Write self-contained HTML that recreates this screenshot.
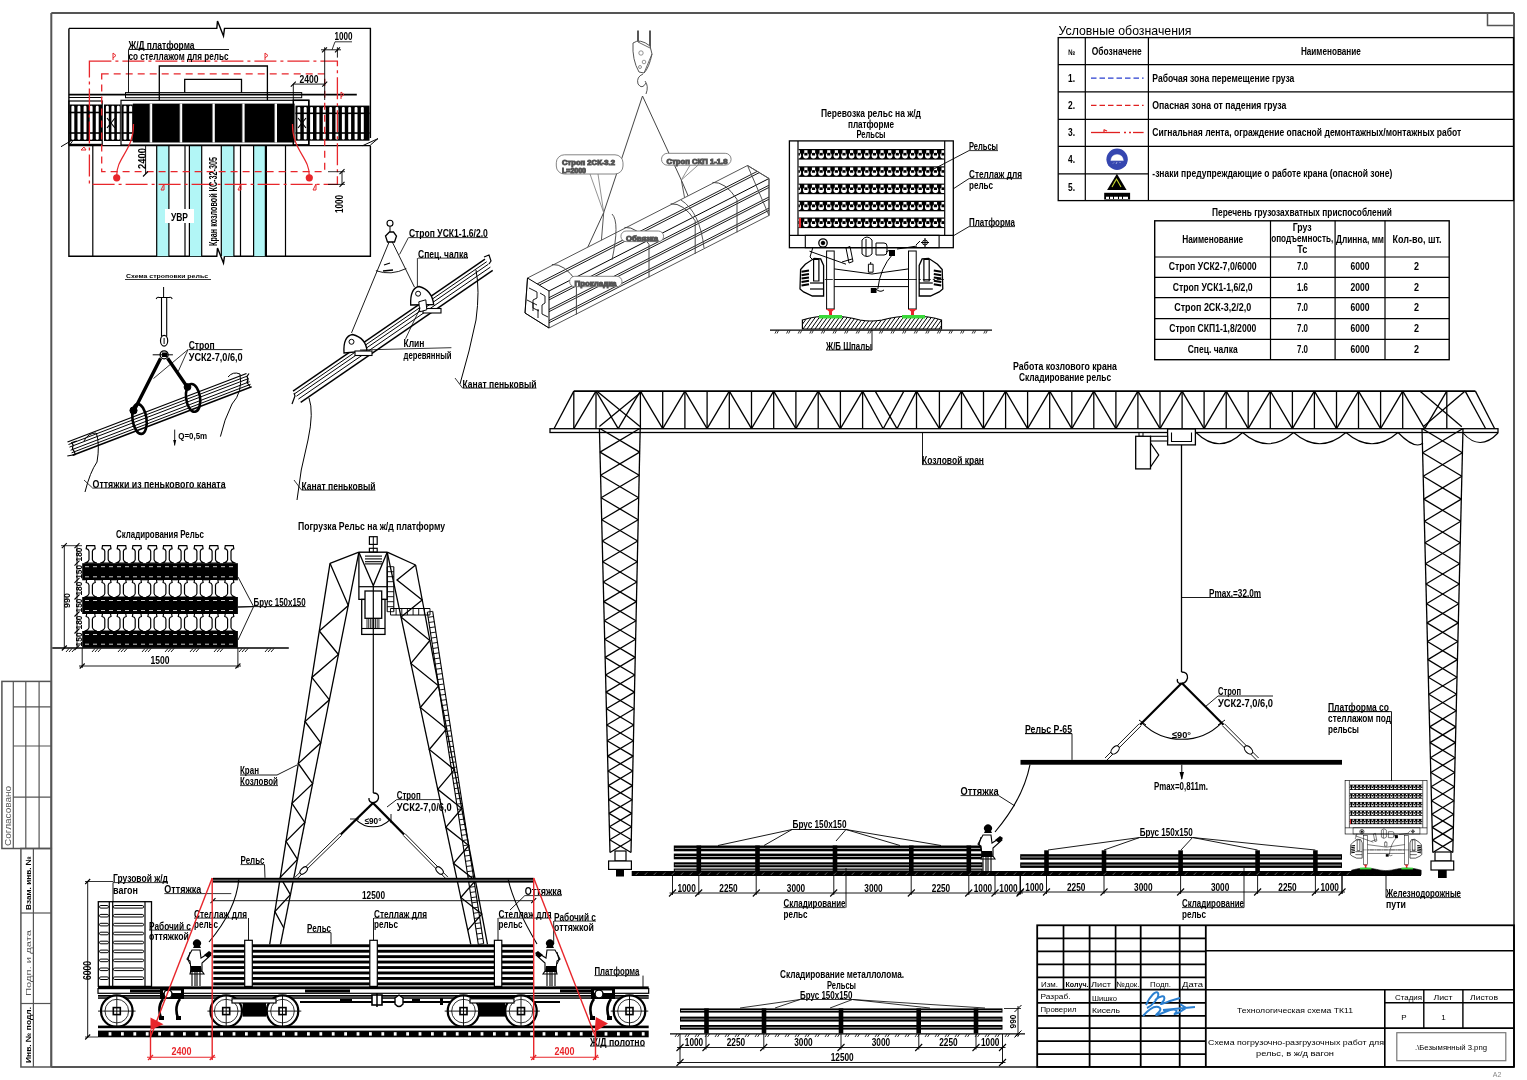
<!DOCTYPE html><html><head><meta charset="utf-8"><style>html,body{margin:0;padding:0;background:#fff;}svg{display:block;will-change:transform;}text{font-family:"Liberation Sans",sans-serif;}</style></head><body>
<svg width="1527" height="1080" viewBox="0 0 1527 1080">
<rect width="1527" height="1080" fill="#fff"/>
<g id="frame">
<line x1="51.3" y1="13.1" x2="1514.0" y2="13.1" stroke="#555555" stroke-width="2" />
<line x1="51.3" y1="13.1" x2="51.3" y2="1067.0" stroke="#555555" stroke-width="2" />
<line x1="1514.0" y1="13.1" x2="1514.0" y2="1067.0" stroke="#555555" stroke-width="2" />
<line x1="51.3" y1="1067.0" x2="1514.0" y2="1067.0" stroke="#555555" stroke-width="2" />
<polyline points="1487.5,13.0 1487.5,25.5 1514.0,25.5" stroke="#555555" stroke-width="1.5" fill="none" />
<rect x="1.9" y="681.4" width="49.4" height="167.1" fill="none" stroke="#555555" stroke-width="1.5" />
<line x1="13.3" y1="681.4" x2="13.3" y2="848.5" stroke="#555555" stroke-width="1.2" />
<line x1="25.8" y1="681.4" x2="25.8" y2="848.5" stroke="#555555" stroke-width="1.2" />
<line x1="39.1" y1="681.4" x2="39.1" y2="848.5" stroke="#555555" stroke-width="1.2" />
<line x1="13.3" y1="706.8" x2="51.3" y2="706.8" stroke="#555555" stroke-width="1.2" />
<line x1="13.3" y1="746.0" x2="51.3" y2="746.0" stroke="#555555" stroke-width="1.2" />
<line x1="13.3" y1="797.2" x2="51.3" y2="797.2" stroke="#555555" stroke-width="1.2" />
<text x="10.5" y="846.0" font-size="9" text-anchor="start" fill="#555" font-weight="normal" font-family="Liberation Sans" textLength="60.0" lengthAdjust="spacingAndGlyphs" transform="rotate(-90 10.5 846.0)" >Согласовано</text>
<rect x="20.9" y="848.5" width="30.4" height="218.5" fill="none" stroke="#555555" stroke-width="1.5" />
<line x1="33.4" y1="848.5" x2="33.4" y2="1067.0" stroke="#555555" stroke-width="1.2" />
<line x1="20.9" y1="913.0" x2="51.3" y2="913.0" stroke="#555555" stroke-width="1.2" />
<line x1="20.9" y1="1003.5" x2="51.3" y2="1003.5" stroke="#555555" stroke-width="1.2" />
<text x="30.5" y="910.0" font-size="7.5" text-anchor="start" fill="#000" font-weight="bold" font-family="Liberation Sans" textLength="54.0" lengthAdjust="spacingAndGlyphs" transform="rotate(-90 30.5 910.0)" >Взам. инв. №</text>
<text x="31.0" y="996.0" font-size="8" text-anchor="start" fill="#555" font-weight="normal" font-family="Liberation Sans" textLength="66.0" lengthAdjust="spacingAndGlyphs" transform="rotate(-90 31.0 996.0)" >Подп. и дата</text>
<text x="30.5" y="1063.0" font-size="7.5" text-anchor="start" fill="#000" font-weight="bold" font-family="Liberation Sans" textLength="56.0" lengthAdjust="spacingAndGlyphs" transform="rotate(-90 30.5 1063.0)" >Инв. № подл.</text>
</g>
<g id="legend">
<text x="1058.5" y="35.0" font-size="13.5" text-anchor="start" fill="#000" font-weight="normal" font-family="Liberation Sans" textLength="133.0" lengthAdjust="spacingAndGlyphs" >Условные обозначения</text>
<rect x="1058.2" y="37.6" width="455.3" height="163.0" fill="none" stroke="#000" stroke-width="1.3" />
<line x1="1058.2" y1="64.7" x2="1513.5" y2="64.7" stroke="#000" stroke-width="1.2" />
<line x1="1058.2" y1="91.8" x2="1513.5" y2="91.8" stroke="#000" stroke-width="1.2" />
<line x1="1058.2" y1="119.3" x2="1513.5" y2="119.3" stroke="#000" stroke-width="1.2" />
<line x1="1058.2" y1="146.4" x2="1513.5" y2="146.4" stroke="#000" stroke-width="1.2" />
<line x1="1058.2" y1="173.8" x2="1148.4" y2="173.8" stroke="#000" stroke-width="1.2" />
<line x1="1085.3" y1="37.6" x2="1085.3" y2="200.6" stroke="#000" stroke-width="1.2" />
<line x1="1148.4" y1="37.6" x2="1148.4" y2="200.6" stroke="#000" stroke-width="1.2" />
<text x="1071.5" y="54.5" font-size="8" text-anchor="middle" fill="#000" font-weight="bold" font-family="Liberation Sans" textLength="7.0" lengthAdjust="spacingAndGlyphs" >№</text>
<text x="1116.8" y="54.5" font-size="10.37" text-anchor="middle" fill="#000" font-weight="bold" font-family="Liberation Sans" textLength="50.0" lengthAdjust="spacingAndGlyphs" >Обозначене</text>
<text x="1330.9" y="54.5" font-size="10.37" text-anchor="middle" fill="#000" font-weight="bold" font-family="Liberation Sans" textLength="60.0" lengthAdjust="spacingAndGlyphs" >Наименование</text>
<text x="1068.0" y="81.7" font-size="10.37" text-anchor="start" fill="#000" font-weight="bold" font-family="Liberation Sans" textLength="7.0" lengthAdjust="spacingAndGlyphs" >1.</text>
<text x="1068.0" y="108.8" font-size="10.37" text-anchor="start" fill="#000" font-weight="bold" font-family="Liberation Sans" textLength="7.0" lengthAdjust="spacingAndGlyphs" >2.</text>
<text x="1068.0" y="136.3" font-size="10.37" text-anchor="start" fill="#000" font-weight="bold" font-family="Liberation Sans" textLength="7.0" lengthAdjust="spacingAndGlyphs" >3.</text>
<text x="1068.0" y="163.4" font-size="10.37" text-anchor="start" fill="#000" font-weight="bold" font-family="Liberation Sans" textLength="7.0" lengthAdjust="spacingAndGlyphs" >4.</text>
<text x="1068.0" y="190.8" font-size="10.37" text-anchor="start" fill="#000" font-weight="bold" font-family="Liberation Sans" textLength="7.0" lengthAdjust="spacingAndGlyphs" >5.</text>
<line x1="1091.0" y1="78.1" x2="1143.6" y2="78.1" stroke="#2a3fd0" stroke-width="1.3" stroke-dasharray="5.5,3"/>
<line x1="1091.0" y1="105.3" x2="1143.6" y2="105.3" stroke="#e02020" stroke-width="1.3" stroke-dasharray="5.5,3"/>
<line x1="1091.0" y1="132.5" x2="1104.0" y2="132.5" stroke="#e02020" stroke-width="1.3" />
<line x1="1104.0" y1="129.5" x2="1104.0" y2="132.5" stroke="#e02020" stroke-width="1.2" />
<line x1="1104.0" y1="129.8" x2="1107.0" y2="131.0" stroke="#e02020" stroke-width="1.2" />
<line x1="1104.0" y1="132.5" x2="1120.0" y2="132.5" stroke="#e02020" stroke-width="1.3" />
<line x1="1124.0" y1="132.5" x2="1126.0" y2="132.5" stroke="#e02020" stroke-width="1.3" />
<line x1="1129.0" y1="132.5" x2="1131.0" y2="132.5" stroke="#e02020" stroke-width="1.3" />
<line x1="1133.0" y1="132.5" x2="1143.6" y2="132.5" stroke="#e02020" stroke-width="1.3" />
<text x="1152.3" y="81.5" font-size="10.37" text-anchor="start" fill="#000" font-weight="bold" font-family="Liberation Sans" textLength="142.0" lengthAdjust="spacingAndGlyphs" >Рабочая зона перемещение груза</text>
<text x="1152.3" y="108.5" font-size="10.37" text-anchor="start" fill="#000" font-weight="bold" font-family="Liberation Sans" textLength="134.0" lengthAdjust="spacingAndGlyphs" >Опасная зона от падения груза</text>
<text x="1152.3" y="135.8" font-size="10.37" text-anchor="start" fill="#000" font-weight="bold" font-family="Liberation Sans" textLength="309.0" lengthAdjust="spacingAndGlyphs" >Сигнальная лента, ограждение опасной демонтажных/монтажных работ</text>
<text x="1152.3" y="177.0" font-size="10.37" text-anchor="start" fill="#000" font-weight="bold" font-family="Liberation Sans" textLength="240.0" lengthAdjust="spacingAndGlyphs" >-знаки предупреждающие о работе крана (опасной зоне)</text>
<circle cx="1117.1" cy="159.2" r="10.7" fill="#3546b0" stroke="none" stroke-width="1" />
<path d="M1110.8,160.6 Q1111.5,154.5 1117.1,154.5 Q1122.7,154.5 1123.4,160.6 Z" stroke="#fff" stroke-width="0.4" fill="#fff" />
<path d="M1113,163.5 l1,-1 M1116,164 l1,-2 M1119.5,163 l1,-1" stroke="#cfd3f0" stroke-width="0.7" fill="none" />
<polygon points="1116.9,173.8 1107.1,190.1 1126.6,190.1" fill="#000" stroke="none" stroke-width="1" />
<path d="M1112,187 L1116.5,179 L1121,187 M1114,183 l2,-3" stroke="#c8d830" stroke-width="1.1" fill="none" />
<rect x="1104.2" y="192.8" width="25.9" height="6.8" fill="#000"/>
<path d="M1106,197.8 h3 m1,0 h3 m1,0 h4 m1,0 h3 m1,0 h5" stroke="#fff" stroke-width="2.2" fill="none" />
</g>
<g id="gear">
<text x="1302.0" y="216.0" font-size="10.98" text-anchor="middle" fill="#000" font-weight="bold" font-family="Liberation Sans" textLength="180.0" lengthAdjust="spacingAndGlyphs" >Перечень грузозахватных приспособлений</text>
<rect x="1154.7" y="220.8" width="294.5" height="138.9" fill="none" stroke="#000" stroke-width="1.4" />
<line x1="1154.7" y1="257.0" x2="1449.2" y2="257.0" stroke="#000" stroke-width="1.2" />
<line x1="1154.7" y1="277.3" x2="1449.2" y2="277.3" stroke="#000" stroke-width="1.2" />
<line x1="1154.7" y1="297.6" x2="1449.2" y2="297.6" stroke="#000" stroke-width="1.2" />
<line x1="1154.7" y1="318.6" x2="1449.2" y2="318.6" stroke="#000" stroke-width="1.2" />
<line x1="1154.7" y1="339.4" x2="1449.2" y2="339.4" stroke="#000" stroke-width="1.2" />
<line x1="1270.5" y1="220.8" x2="1270.5" y2="359.7" stroke="#000" stroke-width="1.2" />
<line x1="1335.1" y1="220.8" x2="1335.1" y2="359.7" stroke="#000" stroke-width="1.2" />
<line x1="1385.0" y1="220.8" x2="1385.0" y2="359.7" stroke="#000" stroke-width="1.2" />
<text x="1212.7" y="242.5" font-size="10.37" text-anchor="middle" fill="#000" font-weight="bold" font-family="Liberation Sans" textLength="61.0" lengthAdjust="spacingAndGlyphs" >Наименование</text>
<text x="1302.2" y="231.0" font-size="10.37" text-anchor="middle" fill="#000" font-weight="bold" font-family="Liberation Sans" textLength="19.0" lengthAdjust="spacingAndGlyphs" >Груз</text>
<text x="1302.2" y="242.0" font-size="10.37" text-anchor="middle" fill="#000" font-weight="bold" font-family="Liberation Sans" textLength="62.0" lengthAdjust="spacingAndGlyphs" >оподъемность,</text>
<text x="1302.2" y="253.0" font-size="10.37" text-anchor="middle" fill="#000" font-weight="bold" font-family="Liberation Sans" textLength="10.0" lengthAdjust="spacingAndGlyphs" >Тс</text>
<text x="1360.0" y="242.5" font-size="10.37" text-anchor="middle" fill="#000" font-weight="bold" font-family="Liberation Sans" textLength="48.0" lengthAdjust="spacingAndGlyphs" >Длинна, мм</text>
<text x="1417.0" y="242.5" font-size="10.37" text-anchor="middle" fill="#000" font-weight="bold" font-family="Liberation Sans" textLength="49.0" lengthAdjust="spacingAndGlyphs" >Кол-во, шт.</text>
<text x="1212.7" y="270.4" font-size="10.37" text-anchor="middle" fill="#000" font-weight="bold" font-family="Liberation Sans" textLength="88.0" lengthAdjust="spacingAndGlyphs" >Строп УСК2-7,0/6000</text>
<text x="1302.5" y="270.4" font-size="10.37" text-anchor="middle" fill="#000" font-weight="bold" font-family="Liberation Sans" textLength="11.0" lengthAdjust="spacingAndGlyphs" >7.0</text>
<text x="1360.0" y="270.4" font-size="10.37" text-anchor="middle" fill="#000" font-weight="bold" font-family="Liberation Sans" textLength="19.0" lengthAdjust="spacingAndGlyphs" >6000</text>
<text x="1416.5" y="270.4" font-size="10.37" text-anchor="middle" fill="#000" font-weight="bold" font-family="Liberation Sans" textLength="5.0" lengthAdjust="spacingAndGlyphs" >2</text>
<text x="1212.7" y="290.8" font-size="10.37" text-anchor="middle" fill="#000" font-weight="bold" font-family="Liberation Sans" textLength="80.0" lengthAdjust="spacingAndGlyphs" >Строп УСК1-1,6/2,0</text>
<text x="1302.5" y="290.8" font-size="10.37" text-anchor="middle" fill="#000" font-weight="bold" font-family="Liberation Sans" textLength="11.0" lengthAdjust="spacingAndGlyphs" >1.6</text>
<text x="1360.0" y="290.8" font-size="10.37" text-anchor="middle" fill="#000" font-weight="bold" font-family="Liberation Sans" textLength="19.0" lengthAdjust="spacingAndGlyphs" >2000</text>
<text x="1416.5" y="290.8" font-size="10.37" text-anchor="middle" fill="#000" font-weight="bold" font-family="Liberation Sans" textLength="5.0" lengthAdjust="spacingAndGlyphs" >2</text>
<text x="1212.7" y="311.4" font-size="10.37" text-anchor="middle" fill="#000" font-weight="bold" font-family="Liberation Sans" textLength="77.0" lengthAdjust="spacingAndGlyphs" >Строп 2СК-3,2/2,0</text>
<text x="1302.5" y="311.4" font-size="10.37" text-anchor="middle" fill="#000" font-weight="bold" font-family="Liberation Sans" textLength="11.0" lengthAdjust="spacingAndGlyphs" >7.0</text>
<text x="1360.0" y="311.4" font-size="10.37" text-anchor="middle" fill="#000" font-weight="bold" font-family="Liberation Sans" textLength="19.0" lengthAdjust="spacingAndGlyphs" >6000</text>
<text x="1416.5" y="311.4" font-size="10.37" text-anchor="middle" fill="#000" font-weight="bold" font-family="Liberation Sans" textLength="5.0" lengthAdjust="spacingAndGlyphs" >2</text>
<text x="1212.7" y="332.3" font-size="10.37" text-anchor="middle" fill="#000" font-weight="bold" font-family="Liberation Sans" textLength="87.0" lengthAdjust="spacingAndGlyphs" >Строп СКП1-1,8/2000</text>
<text x="1302.5" y="332.3" font-size="10.37" text-anchor="middle" fill="#000" font-weight="bold" font-family="Liberation Sans" textLength="11.0" lengthAdjust="spacingAndGlyphs" >7.0</text>
<text x="1360.0" y="332.3" font-size="10.37" text-anchor="middle" fill="#000" font-weight="bold" font-family="Liberation Sans" textLength="19.0" lengthAdjust="spacingAndGlyphs" >6000</text>
<text x="1416.5" y="332.3" font-size="10.37" text-anchor="middle" fill="#000" font-weight="bold" font-family="Liberation Sans" textLength="5.0" lengthAdjust="spacingAndGlyphs" >2</text>
<text x="1212.7" y="352.8" font-size="10.37" text-anchor="middle" fill="#000" font-weight="bold" font-family="Liberation Sans" textLength="50.0" lengthAdjust="spacingAndGlyphs" >Спец. чалка</text>
<text x="1302.5" y="352.8" font-size="10.37" text-anchor="middle" fill="#000" font-weight="bold" font-family="Liberation Sans" textLength="11.0" lengthAdjust="spacingAndGlyphs" >7.0</text>
<text x="1360.0" y="352.8" font-size="10.37" text-anchor="middle" fill="#000" font-weight="bold" font-family="Liberation Sans" textLength="19.0" lengthAdjust="spacingAndGlyphs" >6000</text>
<text x="1416.5" y="352.8" font-size="10.37" text-anchor="middle" fill="#000" font-weight="bold" font-family="Liberation Sans" textLength="5.0" lengthAdjust="spacingAndGlyphs" >2</text>
</g>
<g id="title">
<rect x="1037.2" y="925.3" width="476.8" height="141.6" fill="none" stroke="#000" stroke-width="1.8" />
<line x1="1037.2" y1="938.3" x2="1205.8" y2="938.3" stroke="#000" stroke-width="1.7" />
<line x1="1037.2" y1="951.3" x2="1205.8" y2="951.3" stroke="#000" stroke-width="1.7" />
<line x1="1037.2" y1="964.4" x2="1205.8" y2="964.4" stroke="#000" stroke-width="1.7" />
<line x1="1037.2" y1="977.4" x2="1205.8" y2="977.4" stroke="#000" stroke-width="1.7" />
<line x1="1037.2" y1="989.7" x2="1205.8" y2="989.7" stroke="#000" stroke-width="1.7" />
<line x1="1037.2" y1="1002.8" x2="1205.8" y2="1002.8" stroke="#000" stroke-width="1.7" />
<line x1="1037.2" y1="1015.8" x2="1205.8" y2="1015.8" stroke="#000" stroke-width="1.7" />
<line x1="1037.2" y1="1028.1" x2="1205.8" y2="1028.1" stroke="#000" stroke-width="1.7" />
<line x1="1037.2" y1="1041.2" x2="1205.8" y2="1041.2" stroke="#000" stroke-width="1.7" />
<line x1="1037.2" y1="1054.2" x2="1205.8" y2="1054.2" stroke="#000" stroke-width="1.7" />
<line x1="1063.5" y1="925.3" x2="1063.5" y2="989.7" stroke="#000" stroke-width="1.7" />
<line x1="1089.6" y1="925.3" x2="1089.6" y2="1066.9" stroke="#000" stroke-width="1.8" />
<line x1="1115.6" y1="925.3" x2="1115.6" y2="989.7" stroke="#000" stroke-width="1.7" />
<line x1="1140.7" y1="925.3" x2="1140.7" y2="1066.9" stroke="#000" stroke-width="1.8" />
<line x1="1179.7" y1="925.3" x2="1179.7" y2="1066.9" stroke="#000" stroke-width="1.8" />
<line x1="1205.8" y1="925.3" x2="1205.8" y2="1066.9" stroke="#000" stroke-width="1.8" />
<line x1="1205.8" y1="950.7" x2="1514.0" y2="950.7" stroke="#000" stroke-width="1.6" />
<line x1="1205.8" y1="989.7" x2="1514.0" y2="989.7" stroke="#000" stroke-width="1.6" />
<line x1="1205.8" y1="1028.1" x2="1514.0" y2="1028.1" stroke="#000" stroke-width="1.6" />
<line x1="1384.8" y1="989.7" x2="1384.8" y2="1066.9" stroke="#000" stroke-width="1.6" />
<line x1="1384.8" y1="1002.8" x2="1514.0" y2="1002.8" stroke="#000" stroke-width="1.4" />
<line x1="1423.8" y1="989.7" x2="1423.8" y2="1028.1" stroke="#000" stroke-width="1.4" />
<line x1="1462.9" y1="989.7" x2="1462.9" y2="1028.1" stroke="#000" stroke-width="1.4" />
<rect x="1396.8" y="1032.7" width="109.0" height="28.0" fill="none" stroke="#777" stroke-width="1.2" />
<text x="1041.0" y="987.0" font-size="7.5" text-anchor="start" fill="#000" font-weight="normal" font-family="Liberation Sans" textLength="17.0" lengthAdjust="spacingAndGlyphs" >Изм.</text>
<text x="1065.5" y="986.5" font-size="7.5" text-anchor="start" fill="#000" font-weight="bold" font-family="Liberation Sans" textLength="23.0" lengthAdjust="spacingAndGlyphs" >Колуч.</text>
<text x="1091.0" y="987.0" font-size="7.5" text-anchor="start" fill="#000" font-weight="normal" font-family="Liberation Sans" textLength="20.0" lengthAdjust="spacingAndGlyphs" >Лист</text>
<text x="1116.5" y="987.0" font-size="7.5" text-anchor="start" fill="#000" font-weight="normal" font-family="Liberation Sans" textLength="23.0" lengthAdjust="spacingAndGlyphs" >№док.</text>
<text x="1150.0" y="987.0" font-size="7.5" text-anchor="start" fill="#000" font-weight="normal" font-family="Liberation Sans" textLength="21.0" lengthAdjust="spacingAndGlyphs" >Подп.</text>
<text x="1182.0" y="987.0" font-size="7.5" text-anchor="start" fill="#000" font-weight="normal" font-family="Liberation Sans" textLength="21.0" lengthAdjust="spacingAndGlyphs" >Дата</text>
<text x="1040.5" y="999.0" font-size="7.5" text-anchor="start" fill="#000" font-weight="normal" font-family="Liberation Sans" textLength="30.0" lengthAdjust="spacingAndGlyphs" >Разраб.</text>
<text x="1040.5" y="1012.0" font-size="7.5" text-anchor="start" fill="#000" font-weight="normal" font-family="Liberation Sans" textLength="36.0" lengthAdjust="spacingAndGlyphs" >Проверил</text>
<text x="1092.0" y="1000.5" font-size="7.5" text-anchor="start" fill="#000" font-weight="normal" font-family="Liberation Sans" textLength="25.0" lengthAdjust="spacingAndGlyphs" >Шишко</text>
<text x="1092.0" y="1013.0" font-size="7.5" text-anchor="start" fill="#000" font-weight="normal" font-family="Liberation Sans" textLength="28.0" lengthAdjust="spacingAndGlyphs" >Кисель</text>
<text x="1295.0" y="1013.0" font-size="8" text-anchor="middle" fill="#000" font-weight="normal" font-family="Liberation Sans" textLength="116.0" lengthAdjust="spacingAndGlyphs" >Технологическая схема ТК11</text>
<text x="1395.0" y="999.5" font-size="7.5" text-anchor="start" fill="#000" font-weight="normal" font-family="Liberation Sans" textLength="27.0" lengthAdjust="spacingAndGlyphs" >Стадия</text>
<text x="1433.5" y="999.5" font-size="7.5" text-anchor="start" fill="#000" font-weight="normal" font-family="Liberation Sans" textLength="19.0" lengthAdjust="spacingAndGlyphs" >Лист</text>
<text x="1470.0" y="999.5" font-size="7.5" text-anchor="start" fill="#000" font-weight="normal" font-family="Liberation Sans" textLength="28.0" lengthAdjust="spacingAndGlyphs" >Листов</text>
<text x="1404.0" y="1019.5" font-size="8" text-anchor="middle" fill="#000" font-weight="normal" font-family="Liberation Sans" >Р</text>
<text x="1443.5" y="1019.5" font-size="8" text-anchor="middle" fill="#000" font-weight="normal" font-family="Liberation Sans" >1</text>
<text x="1384.0" y="1045.0" font-size="8" text-anchor="end" fill="#000" font-weight="normal" font-family="Liberation Sans" textLength="176.0" lengthAdjust="spacingAndGlyphs" >Схема погрузочно-разгрузочных работ для</text>
<text x="1295.0" y="1056.0" font-size="8" text-anchor="middle" fill="#000" font-weight="normal" font-family="Liberation Sans" textLength="78.0" lengthAdjust="spacingAndGlyphs" >рельс, в ж/д вагон</text>
<text x="1451.0" y="1050.0" font-size="7.5" text-anchor="middle" fill="#000" font-weight="normal" font-family="Liberation Sans" textLength="72.0" lengthAdjust="spacingAndGlyphs" >.\Безымянный 3.png</text>
<text x="1497.0" y="1077.0" font-size="7" text-anchor="middle" fill="#888" font-weight="normal" font-family="Liberation Sans" >A2</text>
<path d="M1146,1005 C1150,996 1156,990 1158,993 C1160,997 1152,1006 1147,1008 M1155,1000 C1160,996 1166,994 1164,1000 C1162,1004 1156,1006 1170,1001 L1180,998 M1143,1016 C1150,1008 1156,1005 1160,1008 C1163,1012 1150,1017 1160,1014 C1168,1011 1172,1008 1176,1010 C1179,1012 1170,1016 1178,1013 L1186,1008 L1180,1004 M1163,1010 L1195,1007" stroke="#2a7fd0" stroke-width="2.0" fill="none" />
</g>
<g id="crane">
<rect x="550.0" y="428.7" width="948.0" height="3.8" fill="none" stroke="#000" stroke-width="1.3" />
<line x1="573.8" y1="391.1" x2="1475.4" y2="391.1" stroke="#000" stroke-width="1.6" />
<line x1="554.0" y1="428.7" x2="573.8" y2="391.1" stroke="#000" stroke-width="1.3" />
<line x1="1475.4" y1="391.1" x2="1494.7" y2="428.7" stroke="#000" stroke-width="1.3" />
<line x1="573.8" y1="391.1" x2="573.8" y2="428.7" stroke="#000" stroke-width="1.3" />
<line x1="596.0" y1="391.1" x2="596.0" y2="428.7" stroke="#000" stroke-width="1.3" />
<line x1="640.4" y1="391.1" x2="640.4" y2="428.7" stroke="#000" stroke-width="1.3" />
<line x1="662.7" y1="391.1" x2="662.7" y2="428.7" stroke="#000" stroke-width="1.3" />
<line x1="684.9" y1="391.1" x2="684.9" y2="428.7" stroke="#000" stroke-width="1.3" />
<line x1="707.1" y1="391.1" x2="707.1" y2="428.7" stroke="#000" stroke-width="1.3" />
<line x1="729.3" y1="391.1" x2="729.3" y2="428.7" stroke="#000" stroke-width="1.3" />
<line x1="751.5" y1="391.1" x2="751.5" y2="428.7" stroke="#000" stroke-width="1.3" />
<line x1="773.7" y1="391.1" x2="773.7" y2="428.7" stroke="#000" stroke-width="1.3" />
<line x1="795.9" y1="391.1" x2="795.9" y2="428.7" stroke="#000" stroke-width="1.3" />
<line x1="818.2" y1="391.1" x2="818.2" y2="428.7" stroke="#000" stroke-width="1.3" />
<line x1="840.4" y1="391.1" x2="840.4" y2="428.7" stroke="#000" stroke-width="1.3" />
<line x1="862.6" y1="391.1" x2="862.6" y2="428.7" stroke="#000" stroke-width="1.3" />
<line x1="573.8" y1="428.7" x2="596.0" y2="391.1" stroke="#000" stroke-width="1.3" />
<line x1="596.0" y1="391.1" x2="618.2" y2="428.7" stroke="#000" stroke-width="1.3" />
<line x1="618.2" y1="428.7" x2="640.4" y2="391.1" stroke="#000" stroke-width="1.3" />
<line x1="640.4" y1="391.1" x2="662.7" y2="428.7" stroke="#000" stroke-width="1.3" />
<line x1="662.7" y1="428.7" x2="684.9" y2="391.1" stroke="#000" stroke-width="1.3" />
<line x1="684.9" y1="391.1" x2="707.1" y2="428.7" stroke="#000" stroke-width="1.3" />
<line x1="707.1" y1="428.7" x2="729.3" y2="391.1" stroke="#000" stroke-width="1.3" />
<line x1="729.3" y1="391.1" x2="751.5" y2="428.7" stroke="#000" stroke-width="1.3" />
<line x1="751.5" y1="428.7" x2="773.7" y2="391.1" stroke="#000" stroke-width="1.3" />
<line x1="773.7" y1="391.1" x2="795.9" y2="428.7" stroke="#000" stroke-width="1.3" />
<line x1="795.9" y1="428.7" x2="818.2" y2="391.1" stroke="#000" stroke-width="1.3" />
<line x1="818.2" y1="391.1" x2="840.4" y2="428.7" stroke="#000" stroke-width="1.3" />
<line x1="840.4" y1="428.7" x2="862.6" y2="391.1" stroke="#000" stroke-width="1.3" />
<line x1="862.6" y1="391.1" x2="883.2" y2="428.7" stroke="#000" stroke-width="1.3" />
<line x1="875.2" y1="391.1" x2="897.0" y2="428.7" stroke="#000" stroke-width="1.3" />
<line x1="903.9" y1="391.1" x2="883.2" y2="428.7" stroke="#000" stroke-width="1.3" />
<line x1="916.5" y1="391.1" x2="897.0" y2="428.7" stroke="#000" stroke-width="1.3" />
<line x1="916.5" y1="391.1" x2="916.5" y2="428.7" stroke="#000" stroke-width="1.3" />
<line x1="916.5" y1="391.1" x2="939.4" y2="428.7" stroke="#000" stroke-width="1.3" />
<line x1="939.4" y1="391.1" x2="939.4" y2="428.7" stroke="#000" stroke-width="1.3" />
<line x1="961.5" y1="391.1" x2="961.5" y2="428.7" stroke="#000" stroke-width="1.3" />
<line x1="983.5" y1="391.1" x2="983.5" y2="428.7" stroke="#000" stroke-width="1.3" />
<line x1="1005.6" y1="391.1" x2="1005.6" y2="428.7" stroke="#000" stroke-width="1.3" />
<line x1="1027.6" y1="391.1" x2="1027.6" y2="428.7" stroke="#000" stroke-width="1.3" />
<line x1="1049.7" y1="391.1" x2="1049.7" y2="428.7" stroke="#000" stroke-width="1.3" />
<line x1="1071.8" y1="391.1" x2="1071.8" y2="428.7" stroke="#000" stroke-width="1.3" />
<line x1="1093.8" y1="391.1" x2="1093.8" y2="428.7" stroke="#000" stroke-width="1.3" />
<line x1="1115.9" y1="391.1" x2="1115.9" y2="428.7" stroke="#000" stroke-width="1.3" />
<line x1="1137.9" y1="391.1" x2="1137.9" y2="428.7" stroke="#000" stroke-width="1.3" />
<line x1="1160.0" y1="391.1" x2="1160.0" y2="428.7" stroke="#000" stroke-width="1.3" />
<line x1="1182.1" y1="391.1" x2="1182.1" y2="428.7" stroke="#000" stroke-width="1.3" />
<line x1="1204.1" y1="391.1" x2="1204.1" y2="428.7" stroke="#000" stroke-width="1.3" />
<line x1="1226.2" y1="391.1" x2="1226.2" y2="428.7" stroke="#000" stroke-width="1.3" />
<line x1="1248.2" y1="391.1" x2="1248.2" y2="428.7" stroke="#000" stroke-width="1.3" />
<line x1="1270.3" y1="391.1" x2="1270.3" y2="428.7" stroke="#000" stroke-width="1.3" />
<line x1="1292.4" y1="391.1" x2="1292.4" y2="428.7" stroke="#000" stroke-width="1.3" />
<line x1="1314.4" y1="391.1" x2="1314.4" y2="428.7" stroke="#000" stroke-width="1.3" />
<line x1="1336.5" y1="391.1" x2="1336.5" y2="428.7" stroke="#000" stroke-width="1.3" />
<line x1="1358.5" y1="391.1" x2="1358.5" y2="428.7" stroke="#000" stroke-width="1.3" />
<line x1="1380.6" y1="391.1" x2="1380.6" y2="428.7" stroke="#000" stroke-width="1.3" />
<line x1="1402.7" y1="391.1" x2="1402.7" y2="428.7" stroke="#000" stroke-width="1.3" />
<line x1="1446.8" y1="391.1" x2="1446.8" y2="428.7" stroke="#000" stroke-width="1.3" />
<line x1="939.4" y1="428.7" x2="961.5" y2="391.1" stroke="#000" stroke-width="1.3" />
<line x1="961.5" y1="391.1" x2="983.5" y2="428.7" stroke="#000" stroke-width="1.3" />
<line x1="983.5" y1="428.7" x2="1005.6" y2="391.1" stroke="#000" stroke-width="1.3" />
<line x1="1005.6" y1="391.1" x2="1027.6" y2="428.7" stroke="#000" stroke-width="1.3" />
<line x1="1027.6" y1="428.7" x2="1049.7" y2="391.1" stroke="#000" stroke-width="1.3" />
<line x1="1049.7" y1="391.1" x2="1071.8" y2="428.7" stroke="#000" stroke-width="1.3" />
<line x1="1071.8" y1="428.7" x2="1093.8" y2="391.1" stroke="#000" stroke-width="1.3" />
<line x1="1093.8" y1="391.1" x2="1115.9" y2="428.7" stroke="#000" stroke-width="1.3" />
<line x1="1115.9" y1="428.7" x2="1137.9" y2="391.1" stroke="#000" stroke-width="1.3" />
<line x1="1137.9" y1="391.1" x2="1160.0" y2="428.7" stroke="#000" stroke-width="1.3" />
<line x1="1160.0" y1="428.7" x2="1182.1" y2="391.1" stroke="#000" stroke-width="1.3" />
<line x1="1182.1" y1="391.1" x2="1204.1" y2="428.7" stroke="#000" stroke-width="1.3" />
<line x1="1204.1" y1="428.7" x2="1226.2" y2="391.1" stroke="#000" stroke-width="1.3" />
<line x1="1226.2" y1="391.1" x2="1248.2" y2="428.7" stroke="#000" stroke-width="1.3" />
<line x1="1248.2" y1="428.7" x2="1270.3" y2="391.1" stroke="#000" stroke-width="1.3" />
<line x1="1270.3" y1="391.1" x2="1292.4" y2="428.7" stroke="#000" stroke-width="1.3" />
<line x1="1292.4" y1="428.7" x2="1314.4" y2="391.1" stroke="#000" stroke-width="1.3" />
<line x1="1314.4" y1="391.1" x2="1336.5" y2="428.7" stroke="#000" stroke-width="1.3" />
<line x1="1336.5" y1="428.7" x2="1358.5" y2="391.1" stroke="#000" stroke-width="1.3" />
<line x1="1358.5" y1="391.1" x2="1380.6" y2="428.7" stroke="#000" stroke-width="1.3" />
<line x1="1380.6" y1="428.7" x2="1402.7" y2="391.1" stroke="#000" stroke-width="1.3" />
<line x1="1402.7" y1="391.1" x2="1424.7" y2="428.7" stroke="#000" stroke-width="1.3" />
<line x1="1424.7" y1="428.7" x2="1446.8" y2="391.1" stroke="#000" stroke-width="1.3" />
<line x1="1465.2" y1="391.1" x2="1485.7" y2="428.7" stroke="#000" stroke-width="1.3" />
<line x1="596.7" y1="391.1" x2="640.0" y2="426.5" stroke="#000" stroke-width="1.3" />
<line x1="642.6" y1="391.1" x2="599.4" y2="426.5" stroke="#000" stroke-width="1.3" />
<line x1="1419.8" y1="391.1" x2="1461.8" y2="426.8" stroke="#000" stroke-width="1.3" />
<line x1="1465.2" y1="391.1" x2="1423.2" y2="426.8" stroke="#000" stroke-width="1.3" />
<line x1="599.4" y1="428.3" x2="610.0" y2="852.5" stroke="#000" stroke-width="1.3" />
<line x1="640.2" y1="428.3" x2="631.0" y2="852.5" stroke="#000" stroke-width="1.3" />
<line x1="599.4" y1="428.3" x2="639.7" y2="452.1" stroke="#000" stroke-width="1.3" />
<line x1="640.2" y1="428.3" x2="600.0" y2="452.1" stroke="#000" stroke-width="1.3" />
<line x1="600.0" y1="452.1" x2="639.2" y2="475.3" stroke="#000" stroke-width="1.3" />
<line x1="639.7" y1="452.1" x2="600.6" y2="475.3" stroke="#000" stroke-width="1.3" />
<line x1="600.6" y1="475.3" x2="638.7" y2="497.8" stroke="#000" stroke-width="1.3" />
<line x1="639.2" y1="475.3" x2="601.1" y2="497.8" stroke="#000" stroke-width="1.3" />
<line x1="601.1" y1="497.8" x2="638.2" y2="519.7" stroke="#000" stroke-width="1.3" />
<line x1="638.7" y1="497.8" x2="601.7" y2="519.7" stroke="#000" stroke-width="1.3" />
<line x1="601.7" y1="519.7" x2="637.8" y2="541.0" stroke="#000" stroke-width="1.3" />
<line x1="638.2" y1="519.7" x2="602.2" y2="541.0" stroke="#000" stroke-width="1.3" />
<line x1="602.2" y1="541.0" x2="637.3" y2="561.8" stroke="#000" stroke-width="1.3" />
<line x1="637.8" y1="541.0" x2="602.7" y2="561.8" stroke="#000" stroke-width="1.3" />
<line x1="602.7" y1="561.8" x2="636.9" y2="582.0" stroke="#000" stroke-width="1.3" />
<line x1="637.3" y1="561.8" x2="603.2" y2="582.0" stroke="#000" stroke-width="1.3" />
<line x1="603.2" y1="582.0" x2="636.4" y2="601.6" stroke="#000" stroke-width="1.3" />
<line x1="636.9" y1="582.0" x2="603.7" y2="601.6" stroke="#000" stroke-width="1.3" />
<line x1="603.7" y1="601.6" x2="636.0" y2="620.7" stroke="#000" stroke-width="1.3" />
<line x1="636.4" y1="601.6" x2="604.2" y2="620.7" stroke="#000" stroke-width="1.3" />
<line x1="604.2" y1="620.7" x2="635.6" y2="639.3" stroke="#000" stroke-width="1.3" />
<line x1="636.0" y1="620.7" x2="604.7" y2="639.3" stroke="#000" stroke-width="1.3" />
<line x1="604.7" y1="639.3" x2="635.2" y2="657.4" stroke="#000" stroke-width="1.3" />
<line x1="635.6" y1="639.3" x2="605.1" y2="657.4" stroke="#000" stroke-width="1.3" />
<line x1="605.1" y1="657.4" x2="634.8" y2="675.0" stroke="#000" stroke-width="1.3" />
<line x1="635.2" y1="657.4" x2="605.6" y2="675.0" stroke="#000" stroke-width="1.3" />
<line x1="605.6" y1="675.0" x2="634.5" y2="692.1" stroke="#000" stroke-width="1.3" />
<line x1="634.8" y1="675.0" x2="606.0" y2="692.1" stroke="#000" stroke-width="1.3" />
<line x1="606.0" y1="692.1" x2="634.1" y2="708.8" stroke="#000" stroke-width="1.3" />
<line x1="634.5" y1="692.1" x2="606.4" y2="708.8" stroke="#000" stroke-width="1.3" />
<line x1="606.4" y1="708.8" x2="633.8" y2="725.0" stroke="#000" stroke-width="1.3" />
<line x1="634.1" y1="708.8" x2="606.8" y2="725.0" stroke="#000" stroke-width="1.3" />
<line x1="606.8" y1="725.0" x2="633.4" y2="740.8" stroke="#000" stroke-width="1.3" />
<line x1="633.8" y1="725.0" x2="607.2" y2="740.8" stroke="#000" stroke-width="1.3" />
<line x1="607.2" y1="740.8" x2="633.1" y2="756.1" stroke="#000" stroke-width="1.3" />
<line x1="633.4" y1="740.8" x2="607.6" y2="756.1" stroke="#000" stroke-width="1.3" />
<line x1="607.6" y1="756.1" x2="632.8" y2="771.0" stroke="#000" stroke-width="1.3" />
<line x1="633.1" y1="756.1" x2="608.0" y2="771.0" stroke="#000" stroke-width="1.3" />
<line x1="608.0" y1="771.0" x2="632.5" y2="785.6" stroke="#000" stroke-width="1.3" />
<line x1="632.8" y1="771.0" x2="608.3" y2="785.6" stroke="#000" stroke-width="1.3" />
<line x1="608.3" y1="785.6" x2="632.1" y2="799.7" stroke="#000" stroke-width="1.3" />
<line x1="632.5" y1="785.6" x2="608.7" y2="799.7" stroke="#000" stroke-width="1.3" />
<line x1="608.7" y1="799.7" x2="631.8" y2="813.4" stroke="#000" stroke-width="1.3" />
<line x1="632.1" y1="799.7" x2="609.0" y2="813.4" stroke="#000" stroke-width="1.3" />
<line x1="609.0" y1="813.4" x2="631.6" y2="826.8" stroke="#000" stroke-width="1.3" />
<line x1="631.8" y1="813.4" x2="609.4" y2="826.8" stroke="#000" stroke-width="1.3" />
<line x1="609.4" y1="826.8" x2="631.3" y2="839.8" stroke="#000" stroke-width="1.3" />
<line x1="631.6" y1="826.8" x2="609.7" y2="839.8" stroke="#000" stroke-width="1.3" />
<line x1="609.7" y1="839.8" x2="631.0" y2="852.5" stroke="#000" stroke-width="1.3" />
<line x1="631.3" y1="839.8" x2="610.0" y2="852.5" stroke="#000" stroke-width="1.3" />
<line x1="1422.0" y1="428.5" x2="1432.8" y2="852.5" stroke="#000" stroke-width="1.3" />
<line x1="1463.0" y1="428.5" x2="1452.8" y2="852.5" stroke="#000" stroke-width="1.3" />
<line x1="1422.0" y1="428.5" x2="1462.4" y2="452.7" stroke="#000" stroke-width="1.3" />
<line x1="1463.0" y1="428.5" x2="1422.6" y2="452.7" stroke="#000" stroke-width="1.3" />
<line x1="1422.6" y1="452.7" x2="1461.9" y2="476.2" stroke="#000" stroke-width="1.3" />
<line x1="1462.4" y1="452.7" x2="1423.2" y2="476.2" stroke="#000" stroke-width="1.3" />
<line x1="1423.2" y1="476.2" x2="1461.3" y2="499.1" stroke="#000" stroke-width="1.3" />
<line x1="1461.9" y1="476.2" x2="1423.8" y2="499.1" stroke="#000" stroke-width="1.3" />
<line x1="1423.8" y1="499.1" x2="1460.8" y2="521.2" stroke="#000" stroke-width="1.3" />
<line x1="1461.3" y1="499.1" x2="1424.4" y2="521.2" stroke="#000" stroke-width="1.3" />
<line x1="1424.4" y1="521.2" x2="1460.3" y2="542.8" stroke="#000" stroke-width="1.3" />
<line x1="1460.8" y1="521.2" x2="1424.9" y2="542.8" stroke="#000" stroke-width="1.3" />
<line x1="1424.9" y1="542.8" x2="1459.7" y2="563.7" stroke="#000" stroke-width="1.3" />
<line x1="1460.3" y1="542.8" x2="1425.4" y2="563.7" stroke="#000" stroke-width="1.3" />
<line x1="1425.4" y1="563.7" x2="1459.3" y2="584.0" stroke="#000" stroke-width="1.3" />
<line x1="1459.7" y1="563.7" x2="1426.0" y2="584.0" stroke="#000" stroke-width="1.3" />
<line x1="1426.0" y1="584.0" x2="1458.8" y2="603.8" stroke="#000" stroke-width="1.3" />
<line x1="1459.3" y1="584.0" x2="1426.5" y2="603.8" stroke="#000" stroke-width="1.3" />
<line x1="1426.5" y1="603.8" x2="1458.3" y2="622.9" stroke="#000" stroke-width="1.3" />
<line x1="1458.8" y1="603.8" x2="1427.0" y2="622.9" stroke="#000" stroke-width="1.3" />
<line x1="1427.0" y1="622.9" x2="1457.9" y2="641.5" stroke="#000" stroke-width="1.3" />
<line x1="1458.3" y1="622.9" x2="1427.4" y2="641.5" stroke="#000" stroke-width="1.3" />
<line x1="1427.4" y1="641.5" x2="1457.4" y2="659.6" stroke="#000" stroke-width="1.3" />
<line x1="1457.9" y1="641.5" x2="1427.9" y2="659.6" stroke="#000" stroke-width="1.3" />
<line x1="1427.9" y1="659.6" x2="1457.0" y2="677.2" stroke="#000" stroke-width="1.3" />
<line x1="1457.4" y1="659.6" x2="1428.3" y2="677.2" stroke="#000" stroke-width="1.3" />
<line x1="1428.3" y1="677.2" x2="1456.6" y2="694.3" stroke="#000" stroke-width="1.3" />
<line x1="1457.0" y1="677.2" x2="1428.8" y2="694.3" stroke="#000" stroke-width="1.3" />
<line x1="1428.8" y1="694.3" x2="1456.2" y2="710.8" stroke="#000" stroke-width="1.3" />
<line x1="1456.6" y1="694.3" x2="1429.2" y2="710.8" stroke="#000" stroke-width="1.3" />
<line x1="1429.2" y1="710.8" x2="1455.8" y2="726.9" stroke="#000" stroke-width="1.3" />
<line x1="1456.2" y1="710.8" x2="1429.6" y2="726.9" stroke="#000" stroke-width="1.3" />
<line x1="1429.6" y1="726.9" x2="1455.4" y2="742.6" stroke="#000" stroke-width="1.3" />
<line x1="1455.8" y1="726.9" x2="1430.0" y2="742.6" stroke="#000" stroke-width="1.3" />
<line x1="1430.0" y1="742.6" x2="1455.1" y2="757.7" stroke="#000" stroke-width="1.3" />
<line x1="1455.4" y1="742.6" x2="1430.4" y2="757.7" stroke="#000" stroke-width="1.3" />
<line x1="1430.4" y1="757.7" x2="1454.7" y2="772.5" stroke="#000" stroke-width="1.3" />
<line x1="1455.1" y1="757.7" x2="1430.8" y2="772.5" stroke="#000" stroke-width="1.3" />
<line x1="1430.8" y1="772.5" x2="1454.4" y2="786.8" stroke="#000" stroke-width="1.3" />
<line x1="1454.7" y1="772.5" x2="1431.1" y2="786.8" stroke="#000" stroke-width="1.3" />
<line x1="1431.1" y1="786.8" x2="1454.0" y2="800.7" stroke="#000" stroke-width="1.3" />
<line x1="1454.4" y1="786.8" x2="1431.5" y2="800.7" stroke="#000" stroke-width="1.3" />
<line x1="1431.5" y1="800.7" x2="1453.7" y2="814.2" stroke="#000" stroke-width="1.3" />
<line x1="1454.0" y1="800.7" x2="1431.8" y2="814.2" stroke="#000" stroke-width="1.3" />
<line x1="1431.8" y1="814.2" x2="1453.4" y2="827.4" stroke="#000" stroke-width="1.3" />
<line x1="1453.7" y1="814.2" x2="1432.2" y2="827.4" stroke="#000" stroke-width="1.3" />
<line x1="1432.2" y1="827.4" x2="1453.1" y2="840.1" stroke="#000" stroke-width="1.3" />
<line x1="1453.4" y1="827.4" x2="1432.5" y2="840.1" stroke="#000" stroke-width="1.3" />
<line x1="1432.5" y1="840.1" x2="1452.8" y2="852.5" stroke="#000" stroke-width="1.3" />
<line x1="1453.1" y1="840.1" x2="1432.8" y2="852.5" stroke="#000" stroke-width="1.3" />
<rect x="615.0" y="851.0" width="11.0" height="10.0" fill="#fff" stroke="#000" stroke-width="1.2" />
<rect x="608.6" y="861.0" width="22.8" height="8.4" fill="#fff" stroke="#000" stroke-width="1.2" />
<rect x="616.0" y="869.4" width="8.0" height="7.1" fill="#000"/>
<rect x="1435.0" y="852.0" width="16.0" height="9.0" fill="#fff" stroke="#000" stroke-width="1.2" />
<rect x="1431.0" y="861.0" width="22.7" height="9.0" fill="#fff" stroke="#000" stroke-width="1.2" />
<rect x="1438.0" y="870.0" width="8.7" height="8.0" fill="#000"/>
<path d="M1196,432.5 Q1219.3,455 1242.6,432.5 M1242.6,432.5 Q1268.1,455 1293.6,432.5 M1293.6,432.5 Q1319.8,455 1346,432.5 M1346,432.5 Q1372.0,455 1398,432.5 M1398,432.5 Q1415,450 1423,443 M1463,433 Q1480,452 1498,433 " stroke="#000" stroke-width="1.1" fill="none" />
<rect x="1167.6" y="429.0" width="27.8" height="15.9" fill="#fff" stroke="#000" stroke-width="1.3" />
<polyline points="1171.5,432.5 1171.5,441.5 1191.5,441.5 1191.5,432.5" stroke="#000" stroke-width="1.1" fill="none" />
<rect x="1150.5" y="436.3" width="17.1" height="4.7" fill="#fff" stroke="#000" stroke-width="1.1" />
<rect x="1139.0" y="432.5" width="4.0" height="3.8" fill="none" stroke="#000" stroke-width="1" />
<rect x="1135.7" y="436.3" width="14.8" height="32.6" fill="#fff" stroke="#000" stroke-width="1.3" />
<polyline points="1150.5,443.0 1158.7,455.0 1150.5,467.0" stroke="#000" stroke-width="1.3" fill="none" />
<line x1="1181.5" y1="444.9" x2="1181.5" y2="672.0" stroke="#000" stroke-width="1.3" />
<path d="M1181.5,672 Q1188,672 1187.5,678 Q1186,684 1180,683.5 Q1176.5,682.5 1177.5,679" stroke="#000" stroke-width="1.3" fill="none" />
<text x="1209.0" y="597.3" font-size="10.37" text-anchor="start" fill="#000" font-weight="bold" font-family="Liberation Sans" textLength="52.0" lengthAdjust="spacingAndGlyphs" >Pmax.=32.0m</text>
<line x1="1181.5" y1="597.5" x2="1261.0" y2="597.5" stroke="#000" stroke-width="0.9" />
<line x1="1181.8" y1="683.0" x2="1140.1" y2="724.8" stroke="#000" stroke-width="2.2" />
<line x1="1141.1" y1="725.8" x2="1107.0" y2="760.0" stroke="#000" stroke-width="0.9" />
<line x1="1139.1" y1="723.8" x2="1105.0" y2="758.0" stroke="#000" stroke-width="0.9" />
<ellipse cx="1115.1" cy="749.9" rx="5" ry="3" transform="rotate(134.9 1115.1 749.9)" fill="#fff" stroke="#000" stroke-width="1.1"/>
<line x1="1181.8" y1="683.0" x2="1223.5" y2="724.8" stroke="#000" stroke-width="2.2" />
<line x1="1224.5" y1="723.8" x2="1258.6" y2="758.0" stroke="#000" stroke-width="0.9" />
<line x1="1222.5" y1="725.8" x2="1256.6" y2="760.0" stroke="#000" stroke-width="0.9" />
<ellipse cx="1248.5" cy="749.9" rx="5" ry="3" transform="rotate(45.1 1248.5 749.9)" fill="#fff" stroke="#000" stroke-width="1.1"/>
<path d="M1142,722.8 A56.2,56.2 0 0 0 1221.6,722.8" stroke="#000" stroke-width="1.1" fill="none" />
<line x1="1139.0" y1="720.0" x2="1146.0" y2="725.0" stroke="#000" stroke-width="1" />
<line x1="1218.0" y1="725.0" x2="1225.0" y2="720.0" stroke="#000" stroke-width="1" />
<text x="1172.0" y="738.3" font-size="9.76" text-anchor="start" fill="#000" font-weight="bold" font-family="Liberation Sans" textLength="19.0" lengthAdjust="spacingAndGlyphs" >≤90°</text>
<text x="1218.0" y="695.3" font-size="10.37" text-anchor="start" fill="#000" font-weight="bold" font-family="Liberation Sans" textLength="23.0" lengthAdjust="spacingAndGlyphs" >Строп</text>
<text x="1218.0" y="707.3" font-size="10.37" text-anchor="start" fill="#000" font-weight="bold" font-family="Liberation Sans" textLength="55.0" lengthAdjust="spacingAndGlyphs" >УСК2-7,0/6,0</text>
<line x1="1218.0" y1="696.0" x2="1273.0" y2="696.0" stroke="#000" stroke-width="0.9" />
<line x1="1218.0" y1="696.0" x2="1205.0" y2="707.0" stroke="#000" stroke-width="0.9" />
<rect x="1020.5" y="759.9" width="321.5" height="4.8" fill="#000"/>
<text x="1025.0" y="733.3" font-size="10.37" text-anchor="start" fill="#000" font-weight="bold" font-family="Liberation Sans" textLength="47.0" lengthAdjust="spacingAndGlyphs" >Рельс Р-65</text>
<line x1="1025.0" y1="733.6" x2="1072.0" y2="733.6" stroke="#000" stroke-width="0.8" />
<polyline points="1025.0,733.6 1072.0,733.6 1072.0,759.9" stroke="#000" stroke-width="0.9" fill="none" />
<line x1="1181.8" y1="764.7" x2="1181.8" y2="779.0" stroke="#000" stroke-width="1" />
<polygon points="1179.5,772.0 1184.0,772.0 1181.8,780.0" fill="#000" stroke="none" stroke-width="1" />
<text x="1154.0" y="790.3" font-size="10.37" text-anchor="start" fill="#000" font-weight="bold" font-family="Liberation Sans" textLength="54.0" lengthAdjust="spacingAndGlyphs" >Pmax=0,811m.</text>
<path d="M1030,764.7 C1025,790 1012,812 995,832" stroke="#000" stroke-width="1.1" fill="none" />
<text x="960.6" y="795.3" font-size="10.37" text-anchor="start" fill="#000" font-weight="bold" font-family="Liberation Sans" textLength="38.0" lengthAdjust="spacingAndGlyphs" >Оттяжка</text>
<line x1="960.6" y1="795.6" x2="998.6" y2="795.6" stroke="#000" stroke-width="0.8" />
<line x1="998.6" y1="795.6" x2="1015.0" y2="806.0" stroke="#000" stroke-width="0.9" />
<text x="1065.0" y="370.3" font-size="10.37" text-anchor="middle" fill="#000" font-weight="bold" font-family="Liberation Sans" textLength="104.0" lengthAdjust="spacingAndGlyphs" >Работа козлового крана</text>
<text x="1065.0" y="381.3" font-size="10.37" text-anchor="middle" fill="#000" font-weight="bold" font-family="Liberation Sans" textLength="92.0" lengthAdjust="spacingAndGlyphs" >Складирование рельс</text>
<text x="922.0" y="464.3" font-size="10.37" text-anchor="start" fill="#000" font-weight="bold" font-family="Liberation Sans" textLength="62.0" lengthAdjust="spacingAndGlyphs" >Козловой кран</text>
<line x1="922.0" y1="464.6" x2="984.0" y2="464.6" stroke="#000" stroke-width="0.8" />
<line x1="922.5" y1="464.6" x2="922.5" y2="432.5" stroke="#000" stroke-width="0.9" />
</g>
<g id="stacks">
<rect x="631.7" y="871.0" width="789.3" height="5.0" fill="#000"/>
<path d="M635.7,875 l2.5,-2.5 M644.7,875 l2.5,-2.5 M653.7,875 l2.5,-2.5 M662.7,875 l2.5,-2.5 M671.7,875 l2.5,-2.5 M680.7,875 l2.5,-2.5 M689.7,875 l2.5,-2.5 M698.7,875 l2.5,-2.5 M707.7,875 l2.5,-2.5 M716.7,875 l2.5,-2.5 M725.7,875 l2.5,-2.5 M734.7,875 l2.5,-2.5 M743.7,875 l2.5,-2.5 M752.7,875 l2.5,-2.5 M761.7,875 l2.5,-2.5 M770.7,875 l2.5,-2.5 M779.7,875 l2.5,-2.5 M788.7,875 l2.5,-2.5 M797.7,875 l2.5,-2.5 M806.7,875 l2.5,-2.5 M815.7,875 l2.5,-2.5 M824.7,875 l2.5,-2.5 M833.7,875 l2.5,-2.5 M842.7,875 l2.5,-2.5 M851.7,875 l2.5,-2.5 M860.7,875 l2.5,-2.5 M869.7,875 l2.5,-2.5 M878.7,875 l2.5,-2.5 M887.7,875 l2.5,-2.5 M896.7,875 l2.5,-2.5 M905.7,875 l2.5,-2.5 M914.7,875 l2.5,-2.5 M923.7,875 l2.5,-2.5 M932.7,875 l2.5,-2.5 M941.7,875 l2.5,-2.5 M950.7,875 l2.5,-2.5 M959.7,875 l2.5,-2.5 M968.7,875 l2.5,-2.5 M977.7,875 l2.5,-2.5 M986.7,875 l2.5,-2.5 M995.7,875 l2.5,-2.5 M1004.7,875 l2.5,-2.5 M1013.7,875 l2.5,-2.5 M1022.7,875 l2.5,-2.5 M1031.7,875 l2.5,-2.5 M1040.7,875 l2.5,-2.5 M1049.7,875 l2.5,-2.5 M1058.7,875 l2.5,-2.5 M1067.7,875 l2.5,-2.5 M1076.7,875 l2.5,-2.5 M1085.7,875 l2.5,-2.5 M1094.7,875 l2.5,-2.5 M1103.7,875 l2.5,-2.5 M1112.7,875 l2.5,-2.5 M1121.7,875 l2.5,-2.5 M1130.7,875 l2.5,-2.5 M1139.7,875 l2.5,-2.5 M1148.7,875 l2.5,-2.5 M1157.7,875 l2.5,-2.5 M1166.7,875 l2.5,-2.5 M1175.7,875 l2.5,-2.5 M1184.7,875 l2.5,-2.5 M1193.7,875 l2.5,-2.5 M1202.7,875 l2.5,-2.5 M1211.7,875 l2.5,-2.5 M1220.7,875 l2.5,-2.5 M1229.7,875 l2.5,-2.5 M1238.7,875 l2.5,-2.5 M1247.7,875 l2.5,-2.5 M1256.7,875 l2.5,-2.5 M1265.7,875 l2.5,-2.5 M1274.7,875 l2.5,-2.5 M1283.7,875 l2.5,-2.5 M1292.7,875 l2.5,-2.5 M1301.7,875 l2.5,-2.5 M1310.7,875 l2.5,-2.5 M1319.7,875 l2.5,-2.5 M1328.7,875 l2.5,-2.5 M1337.7,875 l2.5,-2.5 M1346.7,875 l2.5,-2.5 M1355.7,875 l2.5,-2.5 M1364.7,875 l2.5,-2.5 M1373.7,875 l2.5,-2.5 M1382.7,875 l2.5,-2.5 M1391.7,875 l2.5,-2.5 M1400.7,875 l2.5,-2.5 M1409.7,875 l2.5,-2.5 " stroke="#aaa" stroke-width="0.6" fill="none" />
<rect x="673.8" y="845.5" width="308.7" height="5.8" fill="#000"/>
<line x1="674.8" y1="848.4" x2="981.5" y2="848.4" stroke="#fff" stroke-width="0.7" />
<rect x="673.8" y="853.6" width="308.7" height="5.7" fill="#000"/>
<line x1="674.8" y1="856.5" x2="981.5" y2="856.5" stroke="#fff" stroke-width="0.7" />
<rect x="673.8" y="862.3" width="308.7" height="5.0" fill="#000"/>
<line x1="674.8" y1="864.8" x2="981.5" y2="864.8" stroke="#fff" stroke-width="0.7" />
<rect x="673.8" y="868.5" width="308.7" height="3.5" fill="#000"/>
<line x1="674.8" y1="870.2" x2="981.5" y2="870.2" stroke="#fff" stroke-width="0.7" />
<rect x="696.5" y="845.5" width="4.6" height="26.5" fill="#000"/>
<rect x="755.2" y="845.5" width="4.6" height="26.5" fill="#000"/>
<rect x="832.7" y="845.5" width="4.6" height="26.5" fill="#000"/>
<rect x="909.0" y="845.5" width="4.6" height="26.5" fill="#000"/>
<rect x="966.5" y="845.5" width="4.6" height="26.5" fill="#000"/>
<rect x="1020.2" y="854.2" width="321.8" height="5.5" fill="#000"/>
<line x1="1021.2" y1="857.0" x2="1341.0" y2="857.0" stroke="#fff" stroke-width="0.7" />
<rect x="1020.2" y="862.4" width="321.8" height="5.5" fill="#000"/>
<line x1="1021.2" y1="865.1" x2="1341.0" y2="865.1" stroke="#fff" stroke-width="0.7" />
<rect x="1044.2" y="850.3" width="4.6" height="20.7" fill="#000"/>
<rect x="1101.7" y="850.3" width="4.6" height="20.7" fill="#000"/>
<rect x="1178.3" y="850.3" width="4.6" height="20.7" fill="#000"/>
<rect x="1255.3" y="850.3" width="4.6" height="20.7" fill="#000"/>
<rect x="1313.1" y="850.3" width="4.6" height="20.7" fill="#000"/>
<line x1="669.5" y1="893.0" x2="1023.0" y2="893.0" stroke="#000" stroke-width="0.9" />
<line x1="672.5" y1="876.0" x2="672.5" y2="895.0" stroke="#000" stroke-width="0.9" />
<line x1="669.0" y1="896.5" x2="676.0" y2="889.5" stroke="#000" stroke-width="1.1" />
<line x1="698.8" y1="876.0" x2="698.8" y2="895.0" stroke="#000" stroke-width="0.9" />
<line x1="695.2" y1="896.5" x2="702.2" y2="889.5" stroke="#000" stroke-width="1.1" />
<line x1="756.2" y1="876.0" x2="756.2" y2="895.0" stroke="#000" stroke-width="0.9" />
<line x1="752.8" y1="896.5" x2="759.8" y2="889.5" stroke="#000" stroke-width="1.1" />
<line x1="833.8" y1="876.0" x2="833.8" y2="895.0" stroke="#000" stroke-width="0.9" />
<line x1="830.2" y1="896.5" x2="837.2" y2="889.5" stroke="#000" stroke-width="1.1" />
<line x1="911.2" y1="876.0" x2="911.2" y2="895.0" stroke="#000" stroke-width="0.9" />
<line x1="907.8" y1="896.5" x2="914.8" y2="889.5" stroke="#000" stroke-width="1.1" />
<line x1="968.8" y1="876.0" x2="968.8" y2="895.0" stroke="#000" stroke-width="0.9" />
<line x1="965.2" y1="896.5" x2="972.2" y2="889.5" stroke="#000" stroke-width="1.1" />
<line x1="995.0" y1="876.0" x2="995.0" y2="895.0" stroke="#000" stroke-width="0.9" />
<line x1="991.5" y1="896.5" x2="998.5" y2="889.5" stroke="#000" stroke-width="1.1" />
<line x1="1020.0" y1="876.0" x2="1020.0" y2="895.0" stroke="#000" stroke-width="0.9" />
<line x1="1016.5" y1="896.5" x2="1023.5" y2="889.5" stroke="#000" stroke-width="1.1" />
<text x="686.6" y="891.8" font-size="10.37" text-anchor="middle" fill="#000" font-weight="bold" font-family="Liberation Sans" textLength="18.4" lengthAdjust="spacingAndGlyphs" >1000</text>
<text x="728.5" y="891.8" font-size="10.37" text-anchor="middle" fill="#000" font-weight="bold" font-family="Liberation Sans" textLength="18.4" lengthAdjust="spacingAndGlyphs" >2250</text>
<text x="796.0" y="891.8" font-size="10.37" text-anchor="middle" fill="#000" font-weight="bold" font-family="Liberation Sans" textLength="18.4" lengthAdjust="spacingAndGlyphs" >3000</text>
<text x="873.5" y="891.8" font-size="10.37" text-anchor="middle" fill="#000" font-weight="bold" font-family="Liberation Sans" textLength="18.4" lengthAdjust="spacingAndGlyphs" >3000</text>
<text x="941.0" y="891.8" font-size="10.37" text-anchor="middle" fill="#000" font-weight="bold" font-family="Liberation Sans" textLength="18.4" lengthAdjust="spacingAndGlyphs" >2250</text>
<text x="982.9" y="891.8" font-size="10.37" text-anchor="middle" fill="#000" font-weight="bold" font-family="Liberation Sans" textLength="18.4" lengthAdjust="spacingAndGlyphs" >1000</text>
<text x="1008.5" y="891.8" font-size="10.37" text-anchor="middle" fill="#000" font-weight="bold" font-family="Liberation Sans" textLength="18.4" lengthAdjust="spacingAndGlyphs" >1000</text>
<line x1="1017.5" y1="892.0" x2="1345.0" y2="892.0" stroke="#000" stroke-width="0.9" />
<line x1="1020.5" y1="876.0" x2="1020.5" y2="894.0" stroke="#000" stroke-width="0.9" />
<line x1="1017.0" y1="895.5" x2="1024.0" y2="888.5" stroke="#000" stroke-width="1.1" />
<line x1="1046.5" y1="876.0" x2="1046.5" y2="894.0" stroke="#000" stroke-width="0.9" />
<line x1="1043.0" y1="895.5" x2="1050.0" y2="888.5" stroke="#000" stroke-width="1.1" />
<line x1="1104.0" y1="876.0" x2="1104.0" y2="894.0" stroke="#000" stroke-width="0.9" />
<line x1="1100.5" y1="895.5" x2="1107.5" y2="888.5" stroke="#000" stroke-width="1.1" />
<line x1="1180.6" y1="876.0" x2="1180.6" y2="894.0" stroke="#000" stroke-width="0.9" />
<line x1="1177.1" y1="895.5" x2="1184.1" y2="888.5" stroke="#000" stroke-width="1.1" />
<line x1="1257.6" y1="876.0" x2="1257.6" y2="894.0" stroke="#000" stroke-width="0.9" />
<line x1="1254.1" y1="895.5" x2="1261.1" y2="888.5" stroke="#000" stroke-width="1.1" />
<line x1="1315.4" y1="876.0" x2="1315.4" y2="894.0" stroke="#000" stroke-width="0.9" />
<line x1="1311.9" y1="895.5" x2="1318.9" y2="888.5" stroke="#000" stroke-width="1.1" />
<line x1="1342.0" y1="876.0" x2="1342.0" y2="894.0" stroke="#000" stroke-width="0.9" />
<line x1="1338.5" y1="895.5" x2="1345.5" y2="888.5" stroke="#000" stroke-width="1.1" />
<text x="1034.5" y="890.8" font-size="10.37" text-anchor="middle" fill="#000" font-weight="bold" font-family="Liberation Sans" textLength="18.4" lengthAdjust="spacingAndGlyphs" >1000</text>
<text x="1076.2" y="890.8" font-size="10.37" text-anchor="middle" fill="#000" font-weight="bold" font-family="Liberation Sans" textLength="18.4" lengthAdjust="spacingAndGlyphs" >2250</text>
<text x="1143.3" y="890.8" font-size="10.37" text-anchor="middle" fill="#000" font-weight="bold" font-family="Liberation Sans" textLength="18.4" lengthAdjust="spacingAndGlyphs" >3000</text>
<text x="1220.1" y="890.8" font-size="10.37" text-anchor="middle" fill="#000" font-weight="bold" font-family="Liberation Sans" textLength="18.4" lengthAdjust="spacingAndGlyphs" >3000</text>
<text x="1287.5" y="890.8" font-size="10.37" text-anchor="middle" fill="#000" font-weight="bold" font-family="Liberation Sans" textLength="18.4" lengthAdjust="spacingAndGlyphs" >2250</text>
<text x="1329.7" y="890.8" font-size="10.37" text-anchor="middle" fill="#000" font-weight="bold" font-family="Liberation Sans" textLength="18.4" lengthAdjust="spacingAndGlyphs" >1000</text>
<line x1="1342.0" y1="876.0" x2="1342.0" y2="894.0" stroke="#000" stroke-width="0.9" />
<text x="792.5" y="828.3" font-size="10.37" text-anchor="start" fill="#000" font-weight="bold" font-family="Liberation Sans" textLength="54.0" lengthAdjust="spacingAndGlyphs" >Брус 150x150</text>
<path d="M792,829.5 L718,845.5 M792,829.5 L764,845.5 M846,829.5 L836,841 M846,829.5 L900,845.5 M846,829.5 L941,845.5" stroke="#000" stroke-width="0.9" fill="none" />
<line x1="792.0" y1="829.5" x2="846.0" y2="829.5" stroke="#000" stroke-width="0.9" />
<text x="1139.7" y="836.3" font-size="10.37" text-anchor="start" fill="#000" font-weight="bold" font-family="Liberation Sans" textLength="53.0" lengthAdjust="spacingAndGlyphs" >Брус 150x150</text>
<path d="M1139.7,837.5 L1048,850 M1139.7,837.5 L1104,850 M1192.6,837.5 L1181,850 M1192.6,837.5 L1257.6,850 M1192.6,837.5 L1315.4,850" stroke="#000" stroke-width="0.9" fill="none" />
<line x1="1139.7" y1="837.5" x2="1192.6" y2="837.5" stroke="#000" stroke-width="0.9" />
<text x="783.5" y="907.3" font-size="10.37" text-anchor="start" fill="#000" font-weight="bold" font-family="Liberation Sans" textLength="62.0" lengthAdjust="spacingAndGlyphs" >Складирование</text>
<line x1="783.5" y1="907.6" x2="845.5" y2="907.6" stroke="#000" stroke-width="0.8" />
<text x="783.5" y="918.3" font-size="10.37" text-anchor="start" fill="#000" font-weight="bold" font-family="Liberation Sans" textLength="24.0" lengthAdjust="spacingAndGlyphs" >рельс</text>
<line x1="846.0" y1="907.6" x2="846.0" y2="868.0" stroke="#000" stroke-width="0.9" />
<text x="1182.0" y="907.3" font-size="10.37" text-anchor="start" fill="#000" font-weight="bold" font-family="Liberation Sans" textLength="62.0" lengthAdjust="spacingAndGlyphs" >Складирование</text>
<line x1="1182.0" y1="907.6" x2="1244.0" y2="907.6" stroke="#000" stroke-width="0.8" />
<text x="1182.0" y="918.3" font-size="10.37" text-anchor="start" fill="#000" font-weight="bold" font-family="Liberation Sans" textLength="24.0" lengthAdjust="spacingAndGlyphs" >рельс</text>
<line x1="1244.0" y1="907.6" x2="1244.0" y2="868.0" stroke="#000" stroke-width="0.9" />
<text x="842.0" y="978.3" font-size="10.37" text-anchor="middle" fill="#000" font-weight="bold" font-family="Liberation Sans" textLength="124.0" lengthAdjust="spacingAndGlyphs" >Складирование металлолома.</text>
<text x="841.5" y="989.3" font-size="10.37" text-anchor="middle" fill="#000" font-weight="bold" font-family="Liberation Sans" textLength="29.0" lengthAdjust="spacingAndGlyphs" >Рельсы</text>
<text x="800.0" y="999.3" font-size="10.37" text-anchor="start" fill="#000" font-weight="bold" font-family="Liberation Sans" textLength="52.5" lengthAdjust="spacingAndGlyphs" >Брус 150x150</text>
<rect x="680.0" y="1008.4" width="322.5" height="4.2" fill="#000"/>
<line x1="681.0" y1="1010.5" x2="1001.5" y2="1010.5" stroke="#fff" stroke-width="0.7" />
<rect x="680.0" y="1016.6" width="322.5" height="5.0" fill="#000"/>
<line x1="681.0" y1="1019.1" x2="1001.5" y2="1019.1" stroke="#fff" stroke-width="0.7" />
<rect x="680.0" y="1025.0" width="322.5" height="4.6" fill="#000"/>
<line x1="681.0" y1="1027.3" x2="1001.5" y2="1027.3" stroke="#fff" stroke-width="0.7" />
<rect x="704.2" y="1008.4" width="4.6" height="25.1" fill="#000"/>
<rect x="761.7" y="1008.4" width="4.6" height="25.1" fill="#000"/>
<rect x="838.7" y="1008.4" width="4.6" height="25.1" fill="#000"/>
<rect x="916.4" y="1008.4" width="4.6" height="25.1" fill="#000"/>
<rect x="973.7" y="1008.4" width="4.6" height="25.1" fill="#000"/>
<path d="M800,999.5 L740,1008 M800,999.5 L775,1008 M852.5,999.5 L830,1008 M852.5,999.5 L930,1008 M852.5,999.5 L985,1008" stroke="#000" stroke-width="0.8" fill="none" />
<line x1="800.0" y1="999.5" x2="852.5" y2="999.5" stroke="#000" stroke-width="0.8" />
<line x1="670.0" y1="1033.8" x2="1025.0" y2="1033.8" stroke="#000" stroke-width="1.2" />
<path d="M675.0,1037 l2,-3 M677.5,1037 l2,-3 M685.0,1037 l2,-3 M687.5,1037 l2,-3 M695.0,1037 l2,-3 M697.5,1037 l2,-3 M705.0,1037 l2,-3 M707.5,1037 l2,-3 M715.0,1037 l2,-3 M717.5,1037 l2,-3 M725.0,1037 l2,-3 M727.5,1037 l2,-3 M735.0,1037 l2,-3 M737.5,1037 l2,-3 M745.0,1037 l2,-3 M747.5,1037 l2,-3 M755.0,1037 l2,-3 M757.5,1037 l2,-3 M765.0,1037 l2,-3 M767.5,1037 l2,-3 M775.0,1037 l2,-3 M777.5,1037 l2,-3 M785.0,1037 l2,-3 M787.5,1037 l2,-3 M795.0,1037 l2,-3 M797.5,1037 l2,-3 M805.0,1037 l2,-3 M807.5,1037 l2,-3 M815.0,1037 l2,-3 M817.5,1037 l2,-3 M825.0,1037 l2,-3 M827.5,1037 l2,-3 M835.0,1037 l2,-3 M837.5,1037 l2,-3 M845.0,1037 l2,-3 M847.5,1037 l2,-3 M855.0,1037 l2,-3 M857.5,1037 l2,-3 M865.0,1037 l2,-3 M867.5,1037 l2,-3 M875.0,1037 l2,-3 M877.5,1037 l2,-3 M885.0,1037 l2,-3 M887.5,1037 l2,-3 M895.0,1037 l2,-3 M897.5,1037 l2,-3 M905.0,1037 l2,-3 M907.5,1037 l2,-3 M915.0,1037 l2,-3 M917.5,1037 l2,-3 M925.0,1037 l2,-3 M927.5,1037 l2,-3 M935.0,1037 l2,-3 M937.5,1037 l2,-3 M945.0,1037 l2,-3 M947.5,1037 l2,-3 M955.0,1037 l2,-3 M957.5,1037 l2,-3 M965.0,1037 l2,-3 M967.5,1037 l2,-3 M975.0,1037 l2,-3 M977.5,1037 l2,-3 M985.0,1037 l2,-3 M987.5,1037 l2,-3 M995.0,1037 l2,-3 M997.5,1037 l2,-3 M1005.0,1037 l2,-3 M1007.5,1037 l2,-3 M1015.0,1037 l2,-3 M1017.5,1037 l2,-3 " stroke="#000" stroke-width="0.8" fill="none" />
<line x1="677.0" y1="1047.5" x2="1005.5" y2="1047.5" stroke="#000" stroke-width="0.9" />
<line x1="680.0" y1="1034.0" x2="680.0" y2="1049.5" stroke="#000" stroke-width="0.9" />
<line x1="676.5" y1="1051.0" x2="683.5" y2="1044.0" stroke="#000" stroke-width="1.1" />
<line x1="706.0" y1="1034.0" x2="706.0" y2="1049.5" stroke="#000" stroke-width="0.9" />
<line x1="702.5" y1="1051.0" x2="709.5" y2="1044.0" stroke="#000" stroke-width="1.1" />
<line x1="763.8" y1="1034.0" x2="763.8" y2="1049.5" stroke="#000" stroke-width="0.9" />
<line x1="760.2" y1="1051.0" x2="767.2" y2="1044.0" stroke="#000" stroke-width="1.1" />
<line x1="841.0" y1="1034.0" x2="841.0" y2="1049.5" stroke="#000" stroke-width="0.9" />
<line x1="837.5" y1="1051.0" x2="844.5" y2="1044.0" stroke="#000" stroke-width="1.1" />
<line x1="918.8" y1="1034.0" x2="918.8" y2="1049.5" stroke="#000" stroke-width="0.9" />
<line x1="915.2" y1="1051.0" x2="922.2" y2="1044.0" stroke="#000" stroke-width="1.1" />
<line x1="976.0" y1="1034.0" x2="976.0" y2="1049.5" stroke="#000" stroke-width="0.9" />
<line x1="972.5" y1="1051.0" x2="979.5" y2="1044.0" stroke="#000" stroke-width="1.1" />
<line x1="1002.5" y1="1034.0" x2="1002.5" y2="1049.5" stroke="#000" stroke-width="0.9" />
<line x1="999.0" y1="1051.0" x2="1006.0" y2="1044.0" stroke="#000" stroke-width="1.1" />
<text x="694.0" y="1046.3" font-size="10.37" text-anchor="middle" fill="#000" font-weight="bold" font-family="Liberation Sans" textLength="18.4" lengthAdjust="spacingAndGlyphs" >1000</text>
<text x="735.9" y="1046.3" font-size="10.37" text-anchor="middle" fill="#000" font-weight="bold" font-family="Liberation Sans" textLength="18.4" lengthAdjust="spacingAndGlyphs" >2250</text>
<text x="803.4" y="1046.3" font-size="10.37" text-anchor="middle" fill="#000" font-weight="bold" font-family="Liberation Sans" textLength="18.4" lengthAdjust="spacingAndGlyphs" >3000</text>
<text x="880.9" y="1046.3" font-size="10.37" text-anchor="middle" fill="#000" font-weight="bold" font-family="Liberation Sans" textLength="18.4" lengthAdjust="spacingAndGlyphs" >3000</text>
<text x="948.4" y="1046.3" font-size="10.37" text-anchor="middle" fill="#000" font-weight="bold" font-family="Liberation Sans" textLength="18.4" lengthAdjust="spacingAndGlyphs" >2250</text>
<text x="990.2" y="1046.3" font-size="10.37" text-anchor="middle" fill="#000" font-weight="bold" font-family="Liberation Sans" textLength="18.4" lengthAdjust="spacingAndGlyphs" >1000</text>
<line x1="680.0" y1="1047.5" x2="680.0" y2="1064.0" stroke="#000" stroke-width="0.9" />
<line x1="1002.5" y1="1047.5" x2="1002.5" y2="1064.0" stroke="#000" stroke-width="0.9" />
<line x1="677.0" y1="1062.5" x2="1005.5" y2="1062.5" stroke="#000" stroke-width="0.9" />
<line x1="676.5" y1="1066.0" x2="683.5" y2="1059.0" stroke="#000" stroke-width="1.1" />
<line x1="999.0" y1="1066.0" x2="1006.0" y2="1059.0" stroke="#000" stroke-width="1.1" />
<text x="842.2" y="1061.3" font-size="10.37" text-anchor="middle" fill="#000" font-weight="bold" font-family="Liberation Sans" textLength="23.0" lengthAdjust="spacingAndGlyphs" >12500</text>
<line x1="1018.0" y1="1006.0" x2="1018.0" y2="1036.0" stroke="#000" stroke-width="0.9" />
<line x1="1014.5" y1="1012.0" x2="1021.5" y2="1005.0" stroke="#000" stroke-width="1" />
<line x1="1014.5" y1="1037.5" x2="1021.5" y2="1030.5" stroke="#000" stroke-width="1" />
<line x1="1004.0" y1="1008.5" x2="1021.0" y2="1008.5" stroke="#000" stroke-width="0.8" />
<text x="1016.0" y="1028.5" font-size="9.76" text-anchor="start" fill="#000" font-weight="bold" font-family="Liberation Sans" textLength="14.0" lengthAdjust="spacingAndGlyphs" transform="rotate(-90 1016.0 1028.5)" >990</text>
<g transform="translate(987,871) scale(1.0,1.0)">
<path d="M-2,-40 a4,4 0 1,1 6,0 l1,2 l-8,0 z" fill="#000"/>
<path d="M-4,-36 l8,0 l1,8 l8,-5 l2,2 l-9,8 l0,8 l2,3 l-14,0 l1,-4 l-1,-9 l-3,-2 z" fill="#fff" stroke="#000" stroke-width="1.1"/>
<path d="M-5,-20 l10,0 l1,6 l-12,0 z" fill="#000"/>
<path d="M-4,-14 l0,14 m3,-14 l0,14 m2,-14 l0,14 m3,-14 l0,14" stroke="#000" stroke-width="1.1"/>
<path d="M8,-31 l5,-4 l3,2 l-4,5 z" fill="#000"/>
<path d="M-6,-34 l-2,8 l2,4" stroke="#000" fill="none" stroke-width="1"/>
</g>
</g>
<g id="plan">
<polyline points="68.9,28.4 216.8,28.4 217.5,21.0 223.5,36.0 224.5,28.4 370.4,28.4 370.4,138.0" stroke="#000" stroke-width="1.4" fill="none" />
<polyline points="370.4,145.7 370.4,256.2 224.5,256.2 223.5,263.0 217.5,248.0 216.8,256.2 68.9,256.2 68.9,28.4" stroke="#000" stroke-width="1.4" fill="none" />
<polyline points="61.0,146.7 74.0,139.0 68.9,146.0" stroke="#000" stroke-width="1" fill="none" />
<polyline points="362.6,145.7 378.0,138.6 370.4,145.0" stroke="#000" stroke-width="1" fill="none" />
<rect x="156.7" y="145.6" width="12.2" height="110.6" fill="#b2f6f6"/>
<rect x="189.4" y="145.6" width="12.3" height="110.6" fill="#b2f6f6"/>
<rect x="221.3" y="145.6" width="12.6" height="110.6" fill="#b2f6f6"/>
<rect x="253.6" y="145.6" width="12.3" height="110.6" fill="#b2f6f6"/>
<line x1="92.8" y1="145.6" x2="92.8" y2="256.2" stroke="#000" stroke-width="1.2" />
<line x1="156.7" y1="145.6" x2="156.7" y2="256.2" stroke="#000" stroke-width="1.2" />
<line x1="168.9" y1="145.6" x2="168.9" y2="256.2" stroke="#000" stroke-width="1.2" />
<line x1="185.0" y1="145.6" x2="185.0" y2="256.2" stroke="#000" stroke-width="1.2" />
<line x1="189.4" y1="145.6" x2="189.4" y2="256.2" stroke="#000" stroke-width="1.2" />
<line x1="201.7" y1="145.6" x2="201.7" y2="256.2" stroke="#000" stroke-width="1.2" />
<line x1="221.3" y1="145.6" x2="221.3" y2="256.2" stroke="#000" stroke-width="1.2" />
<line x1="233.9" y1="145.6" x2="233.9" y2="256.2" stroke="#000" stroke-width="1.2" />
<line x1="240.5" y1="145.6" x2="240.5" y2="256.2" stroke="#000" stroke-width="1.2" />
<line x1="253.6" y1="145.6" x2="253.6" y2="256.2" stroke="#000" stroke-width="1.2" />
<line x1="265.9" y1="145.6" x2="265.9" y2="256.2" stroke="#000" stroke-width="1.2" />
<line x1="285.5" y1="145.6" x2="285.5" y2="256.2" stroke="#000" stroke-width="1.2" />
<line x1="265.9" y1="145.6" x2="265.9" y2="256.2" stroke="#000" stroke-width="2.2" />
<line x1="68.9" y1="145.6" x2="370.4" y2="145.6" stroke="#000" stroke-width="1.2" />
<polyline points="159.3,100.3 159.3,66.0 267.4,66.0 267.4,100.3" stroke="#000" stroke-width="1.3" fill="none" />
<polyline points="184.7,92.6 184.7,79.3 241.5,79.3 241.5,92.6" stroke="#000" stroke-width="1.3" fill="none" />
<line x1="68.9" y1="94.6" x2="356.8" y2="94.6" stroke="#000" stroke-width="1.6" />
<rect x="125.5" y="92.6" width="176.2" height="5.1" fill="none" stroke="#000" stroke-width="1" />
<line x1="68.9" y1="97.5" x2="102.2" y2="97.5" stroke="#000" stroke-width="1" />
<rect x="68.9" y="101.0" width="33.3" height="43.4" fill="none" stroke="#000" stroke-width="1.2" />
<rect x="69.5" y="104.5" width="32.5" height="36.5" fill="#000"/>
<rect x="71.4" y="105.8" width="2.9" height="33.9" rx="1.2" fill="#fff"/>
<rect x="77.5" y="105.8" width="2.9" height="33.9" rx="1.2" fill="#fff"/>
<rect x="83.6" y="105.8" width="2.9" height="33.9" rx="1.2" fill="#fff"/>
<rect x="89.7" y="105.8" width="2.9" height="33.9" rx="1.2" fill="#fff"/>
<rect x="95.8" y="105.8" width="2.9" height="33.9" rx="1.2" fill="#fff"/>
<rect x="69.5" y="111.7" width="32.5" height="1.6" fill="#000"/>
<rect x="69.5" y="132.2" width="32.5" height="1.6" fill="#000"/>
<rect x="104.0" y="104.5" width="16.5" height="36.5" fill="#000"/>
<rect x="105.9" y="105.8" width="2.9" height="33.9" rx="1.2" fill="#fff"/>
<rect x="111.4" y="105.8" width="2.9" height="33.9" rx="1.2" fill="#fff"/>
<rect x="116.9" y="105.8" width="2.9" height="33.9" rx="1.2" fill="#fff"/>
<rect x="104.0" y="111.7" width="16.5" height="1.6" fill="#000"/>
<rect x="104.0" y="132.2" width="16.5" height="1.6" fill="#000"/>
<rect x="121.7" y="104.5" width="11.1" height="36.5" fill="#000"/>
<rect x="123.6" y="105.8" width="2.9" height="33.9" rx="1.2" fill="#fff"/>
<rect x="129.1" y="105.8" width="2.9" height="33.9" rx="1.2" fill="#fff"/>
<rect x="121.7" y="111.7" width="11.1" height="1.6" fill="#000"/>
<rect x="121.7" y="132.2" width="11.1" height="1.6" fill="#000"/>
<rect x="121.0" y="100.3" width="187.8" height="44.7" fill="none" stroke="#000" stroke-width="1.2" />
<rect x="132.8" y="103.6" width="161.8" height="38.9" fill="#000"/>
<rect x="149.8" y="103.6" width="2.4" height="38.9" fill="#fff"/>
<line x1="149.8" y1="103.6" x2="149.8" y2="142.5" stroke="#666" stroke-width="0.6" />
<rect x="179.8" y="103.6" width="2.4" height="38.9" fill="#fff"/>
<line x1="179.8" y1="103.6" x2="179.8" y2="142.5" stroke="#666" stroke-width="0.6" />
<rect x="212.4" y="103.6" width="2.4" height="38.9" fill="#fff"/>
<line x1="212.4" y1="103.6" x2="212.4" y2="142.5" stroke="#666" stroke-width="0.6" />
<rect x="242.2" y="103.6" width="2.4" height="38.9" fill="#fff"/>
<line x1="242.2" y1="103.6" x2="242.2" y2="142.5" stroke="#666" stroke-width="0.6" />
<rect x="274.6" y="103.6" width="2.4" height="38.9" fill="#fff"/>
<line x1="274.6" y1="103.6" x2="274.6" y2="142.5" stroke="#666" stroke-width="0.6" />
<rect x="295.5" y="105.6" width="74.0" height="35.1" fill="#000"/>
<rect x="297.4" y="106.9" width="2.9" height="32.5" rx="1.2" fill="#fff"/>
<rect x="303.8" y="106.9" width="2.9" height="32.5" rx="1.2" fill="#fff"/>
<rect x="310.1" y="106.9" width="2.9" height="32.5" rx="1.2" fill="#fff"/>
<rect x="316.5" y="106.9" width="2.9" height="32.5" rx="1.2" fill="#fff"/>
<rect x="322.8" y="106.9" width="2.9" height="32.5" rx="1.2" fill="#fff"/>
<rect x="329.2" y="106.9" width="2.9" height="32.5" rx="1.2" fill="#fff"/>
<rect x="335.5" y="106.9" width="2.9" height="32.5" rx="1.2" fill="#fff"/>
<rect x="341.9" y="106.9" width="2.9" height="32.5" rx="1.2" fill="#fff"/>
<rect x="348.2" y="106.9" width="2.9" height="32.5" rx="1.2" fill="#fff"/>
<rect x="354.6" y="106.9" width="2.9" height="32.5" rx="1.2" fill="#fff"/>
<rect x="360.9" y="106.9" width="2.9" height="32.5" rx="1.2" fill="#fff"/>
<rect x="295.5" y="112.5" width="74.0" height="1.6" fill="#000"/>
<rect x="295.5" y="132.2" width="74.0" height="1.6" fill="#000"/>
<rect x="293.3" y="100.3" width="15.5" height="44.7" fill="none" stroke="#000" stroke-width="1.5" />
<path d="M107,118 l8,10 M115,118 l-8,10 M298,118 l8,10 M306,118 l-8,10" stroke="#000" stroke-width="1.2" fill="none" />
<rect x="89.4" y="61.2" width="247.99999999999997" height="123.2" fill="none" stroke="#e8262b" stroke-width="1.3" stroke-dasharray="22,4,3,4"/>
<rect x="101.7" y="73.8" width="223.0" height="97.89999999999999" fill="none" stroke="#e8262b" stroke-width="1.3" stroke-dasharray="7,5"/>
<path d="M133.5,124 C134,150 116,158 116.7,176" stroke="#e8262b" stroke-width="1.2" fill="none" />
<circle cx="116.7" cy="177.8" r="3.6" fill="#e8262b" stroke="none" stroke-width="1" />
<path d="M292.5,124 C292,150 310,158 309.3,176" stroke="#e8262b" stroke-width="1.2" fill="none" />
<circle cx="309.3" cy="177.8" r="3.6" fill="#e8262b" stroke="none" stroke-width="1" />
<path d="M113,60 l0,-7 l3,2.5 l-3,2.5" stroke="#e8262b" stroke-width="1" fill="none" />
<path d="M265,60 l0,-7 l3,2.5 l-3,2.5" stroke="#e8262b" stroke-width="1" fill="none" />
<path d="M341,99 l0,-7 l3,2.5 l-3,2.5" stroke="#e8262b" stroke-width="1" fill="none" />
<path d="M84,147 l-3,3 l5,0 z" stroke="#e8262b" stroke-width="1" fill="none" />
<path d="M161,190 l3,-6 l0,6 z" stroke="#e8262b" stroke-width="1" fill="none" />
<path d="M238,190 l3,-6 l0,6 z" stroke="#e8262b" stroke-width="1" fill="none" />
<path d="M313,190 l3,-6 l0,6 z" stroke="#e8262b" stroke-width="1" fill="none" />
<line x1="324.7" y1="47.2" x2="324.7" y2="100.0" stroke="#000" stroke-width="0.9" />
<line x1="337.4" y1="47.2" x2="337.4" y2="57.6" stroke="#000" stroke-width="0.9" />
<line x1="321.0" y1="49.8" x2="341.0" y2="49.8" stroke="#000" stroke-width="0.9" />
<path d="M322,52.3 l5,-5 M335,52.3 l5,-5" stroke="#000" stroke-width="1.1" fill="none" />
<path d="M332,49.8 l3,-8 l17,0" stroke="#000" stroke-width="0.8" fill="none" />
<text x="334.5" y="39.9" font-size="10.37" text-anchor="start" fill="#000" font-weight="bold" font-family="Liberation Sans" textLength="18.0" lengthAdjust="spacingAndGlyphs" >1000</text>
<line x1="293.3" y1="84.1" x2="324.7" y2="84.1" stroke="#000" stroke-width="0.9" />
<line x1="293.3" y1="84.1" x2="293.3" y2="100.0" stroke="#000" stroke-width="0.9" />
<path d="M290.8,86.6 l5,-5 M322.2,86.6 l5,-5" stroke="#000" stroke-width="1.1" fill="none" />
<text x="299.5" y="83.3" font-size="10.37" text-anchor="start" fill="#000" font-weight="bold" font-family="Liberation Sans" textLength="19.0" lengthAdjust="spacingAndGlyphs" >2400</text>
<line x1="145.6" y1="145.0" x2="145.6" y2="174.0" stroke="#000" stroke-width="0.9" />
<path d="M143,176.5 l5,-5" stroke="#000" stroke-width="1.1" fill="none" />
<text x="146.0" y="169.0" font-size="10.37" text-anchor="start" fill="#000" font-weight="bold" font-family="Liberation Sans" textLength="21.0" lengthAdjust="spacingAndGlyphs" transform="rotate(-90 146.0 169.0)" >2400</text>
<line x1="342.0" y1="172.0" x2="342.0" y2="185.0" stroke="#000" stroke-width="0.9" />
<line x1="328.0" y1="171.7" x2="345.0" y2="171.7" stroke="#000" stroke-width="0.8" />
<line x1="328.0" y1="184.4" x2="345.0" y2="184.4" stroke="#000" stroke-width="0.8" />
<path d="M339.5,174.2 l5,-5 M339.5,186.9 l5,-5" stroke="#000" stroke-width="1.1" fill="none" />
<text x="343.0" y="213.0" font-size="10.37" text-anchor="start" fill="#000" font-weight="bold" font-family="Liberation Sans" textLength="18.0" lengthAdjust="spacingAndGlyphs" transform="rotate(-90 343.0 213.0)" >1000</text>
<text x="128.5" y="49.3" font-size="10.37" text-anchor="start" fill="#000" font-weight="bold" font-family="Liberation Sans" textLength="66.0" lengthAdjust="spacingAndGlyphs" >Ж/Д платформа</text>
<line x1="128.5" y1="49.5" x2="229.0" y2="49.5" stroke="#000" stroke-width="0.9" />
<text x="128.5" y="59.8" font-size="10.37" text-anchor="start" fill="#000" font-weight="bold" font-family="Liberation Sans" textLength="100.0" lengthAdjust="spacingAndGlyphs" >со стеллажом для рельс</text>
<line x1="128.5" y1="49.5" x2="128.5" y2="93.0" stroke="#000" stroke-width="0.9" />
<rect x="165.0" y="209.0" width="29.0" height="14.0" fill="#fff"/>
<text x="179.5" y="221.3" font-size="10.98" text-anchor="middle" fill="#000" font-weight="bold" font-family="Liberation Sans" textLength="17.0" lengthAdjust="spacingAndGlyphs" >УВР</text>
<text x="216.5" y="246.0" font-size="10.37" text-anchor="start" fill="#000" font-weight="bold" font-family="Liberation Sans" textLength="89.0" lengthAdjust="spacingAndGlyphs" transform="rotate(-90 216.5 246.0)" >Кран козловой КС-32-305</text>
<text x="126.0" y="278.3" font-size="6" text-anchor="start" fill="#000" font-weight="bold" font-family="Liberation Sans" textLength="82.0" lengthAdjust="spacingAndGlyphs" >Схема строповки рельс</text>
<line x1="125.0" y1="279.5" x2="211.0" y2="279.5" stroke="#000" stroke-width="0.8" />
</g>
<g id="slings">
<line x1="163.6" y1="287.0" x2="163.6" y2="298.0" stroke="#000" stroke-width="1" />
<line x1="161.5" y1="297.6" x2="161.5" y2="336.3" stroke="#000" stroke-width="1.1" />
<line x1="166.7" y1="297.6" x2="166.7" y2="336.3" stroke="#000" stroke-width="1.1" />
<path d="M156.2,299 q1,-2.5 3,-1.5 l10,0 q2,-1 3,1.5" stroke="#000" stroke-width="1.1" fill="none" />
<ellipse cx="164.1" cy="340.7" rx="3.6" ry="5.4" fill="#fff" stroke="#000" stroke-width="1.2"/>
<line x1="164.1" y1="338.0" x2="164.1" y2="344.0" stroke="#000" stroke-width="1" />
<circle cx="164.1" cy="354.8" r="4.0" fill="#fff" stroke="#000" stroke-width="1.3" />
<line x1="152.7" y1="354.8" x2="172.9" y2="354.8" stroke="#000" stroke-width="1" />
<rect x="162.0" y="352.5" width="5.0" height="4.5" fill="#000"/>
<line x1="67.5" y1="442.0" x2="246.5" y2="373.5" stroke="#000" stroke-width="1.3" />
<line x1="68.5" y1="444.5" x2="247.5" y2="376.0" stroke="#000" stroke-width="1" />
<line x1="69.5" y1="447.1" x2="248.5" y2="378.6" stroke="#000" stroke-width="1" />
<line x1="70.6" y1="450.2" x2="249.6" y2="381.7" stroke="#000" stroke-width="1" />
<line x1="71.6" y1="452.8" x2="250.6" y2="384.3" stroke="#000" stroke-width="1" />
<line x1="72.6" y1="455.3" x2="251.6" y2="386.8" stroke="#000" stroke-width="1.5" />
<path d="M67.3,456 l8,-1.5 l-1,-3 q-3,-3 -1,-6 l-1.5,-3 l5,-1.5 M249,373.5 l-2,3 q2,3 0,6 l3,4" stroke="#000" stroke-width="1.2" fill="none" />
<path d="M160.6,358.3 L132.4,413.7 M167.6,358.3 L188.7,389.1" stroke="#000" stroke-width="3.4" fill="none" />
<ellipse cx="139.5" cy="419" rx="7" ry="15" transform="rotate(-8 139.5 419)" fill="none" stroke="#000" stroke-width="2.6"/>
<ellipse cx="193.1" cy="397.9" rx="7" ry="14" transform="rotate(-8 193.1 397.9)" fill="none" stroke="#000" stroke-width="2.6"/>
<circle cx="133.5" cy="410.5" r="3.6" fill="#000" stroke="#000" stroke-width="1" />
<circle cx="187.5" cy="387.0" r="3.4" fill="#000" stroke="#000" stroke-width="1" />
<path d="M96.4,433 Q100,445 97,462 Q90,472 85,492 M84,441 q4,-8 12,-8" stroke="#000" stroke-width="1" fill="none" />
<path d="M228,377 q5,-6 12,-3 Q243,392 232,404 Q224,420 220.4,436.6" stroke="#000" stroke-width="1" fill="none" />
<text x="188.7" y="349.3" font-size="10.37" text-anchor="start" fill="#000" font-weight="bold" font-family="Liberation Sans" textLength="26.0" lengthAdjust="spacingAndGlyphs" >Строп</text>
<line x1="188.7" y1="349.6" x2="242.4" y2="349.6" stroke="#000" stroke-width="0.9" />
<text x="188.7" y="361.3" font-size="10.37" text-anchor="start" fill="#000" font-weight="bold" font-family="Liberation Sans" textLength="54.0" lengthAdjust="spacingAndGlyphs" >УСК2-7,0/6,0</text>
<path d="M188,349.6 L153.5,378.5 M188,349.6 L178.2,371.5" stroke="#000" stroke-width="0.8" fill="none" />
<line x1="174.7" y1="429.6" x2="174.7" y2="445.4" stroke="#000" stroke-width="0.9" />
<polygon points="173.2,440.0 176.2,440.0 174.7,446.0" fill="#000" stroke="none" stroke-width="1" />
<text x="178.2" y="438.8" font-size="9.76" text-anchor="start" fill="#000" font-weight="bold" font-family="Liberation Sans" textLength="29.0" lengthAdjust="spacingAndGlyphs" >Q=0,5m</text>
<text x="92.6" y="487.8" font-size="10.37" text-anchor="start" fill="#000" font-weight="bold" font-family="Liberation Sans" textLength="133.0" lengthAdjust="spacingAndGlyphs" >Оттяжки из пенькового каната</text>
<line x1="92.6" y1="488.1" x2="225.6" y2="488.1" stroke="#000" stroke-width="0.8" />
<line x1="84.0" y1="480.0" x2="92.6" y2="488.0" stroke="#000" stroke-width="0.8" />
<circle cx="390.0" cy="223.3" r="3.0" fill="none" stroke="#000" stroke-width="1.1" />
<line x1="390.0" y1="226.3" x2="390.0" y2="232.0" stroke="#000" stroke-width="1" />
<path d="M385.5,236 l4,-4 l4,0 l3,4 l-2,6 l-7,0 z" stroke="#000" stroke-width="1.3" fill="#fff" />
<line x1="293.0" y1="391.2" x2="485.0" y2="259.2" stroke="#000" stroke-width="1.4" />
<line x1="294.7" y1="393.7" x2="486.7" y2="261.7" stroke="#000" stroke-width="1" />
<line x1="296.4" y1="396.2" x2="488.4" y2="264.2" stroke="#000" stroke-width="1" />
<line x1="298.4" y1="399.1" x2="490.4" y2="267.1" stroke="#000" stroke-width="1" />
<line x1="300.7" y1="402.4" x2="492.7" y2="270.4" stroke="#000" stroke-width="1.5" />
<path d="M292,404 l3,-8 l-1,-3 M484,257 l5,-2 l2,6 l-2,3" stroke="#000" stroke-width="1.2" fill="none" />
<line x1="389.2" y1="241.8" x2="351.5" y2="332.9" stroke="#000" stroke-width="0.9" />
<line x1="392.2" y1="241.8" x2="414.4" y2="287.0" stroke="#000" stroke-width="0.9" />
<path d="M375.9,270.7 Q391,276 406.3,268.5" stroke="#000" stroke-width="0.9" fill="none" />
<path d="M384,265 l6,-2 M383,271 l10,-1" stroke="#000" stroke-width="1.3" fill="none" />
<path d="M344,353 Q343,336 352.5,334.5 Q366,338 367,351 Z" stroke="#000" stroke-width="1.3" fill="#fff" />
<circle cx="351.5" cy="341.8" r="2.5" fill="none" stroke="#000" stroke-width="1" />
<path d="M410.7,305 Q410,288 419,286.5 Q432,290 433.7,304.5 Z" stroke="#000" stroke-width="1.3" fill="#fff" />
<circle cx="418.1" cy="293.7" r="2.5" fill="none" stroke="#000" stroke-width="1" />
<rect x="355.0" y="351.0" width="17.0" height="4.5" fill="#fff" stroke="#000" stroke-width="1.1" />
<rect x="423.0" y="308.5" width="18.0" height="4.5" fill="#fff" stroke="#000" stroke-width="1.1" />
<path d="M418.8,301.8 l7,-2 l1,10 l-7,2 z" stroke="#000" stroke-width="1" fill="#fff" />
<path d="M309,398 Q314,412 308,440 Q300,470 297,500" stroke="#000" stroke-width="1" fill="none" />
<path d="M476,270 Q480,290 476,320 Q470,350 460,384" stroke="#000" stroke-width="1" fill="none" />
<text x="408.9" y="237.3" font-size="10.37" text-anchor="start" fill="#000" font-weight="bold" font-family="Liberation Sans" textLength="79.0" lengthAdjust="spacingAndGlyphs" >Строп УСК1-1.6/2.0</text>
<line x1="408.9" y1="237.6" x2="487.9" y2="237.6" stroke="#000" stroke-width="0.8" />
<path d="M408.5,237.4 L399.6,254.4" stroke="#000" stroke-width="0.8" fill="none" />
<text x="418.0" y="257.8" font-size="10.37" text-anchor="start" fill="#000" font-weight="bold" font-family="Liberation Sans" textLength="50.0" lengthAdjust="spacingAndGlyphs" >Спец. чалка</text>
<line x1="418.0" y1="258.1" x2="468.0" y2="258.1" stroke="#000" stroke-width="0.8" />
<line x1="417.4" y1="258.1" x2="417.4" y2="287.0" stroke="#000" stroke-width="0.8" />
<text x="403.5" y="346.8" font-size="10.37" text-anchor="start" fill="#000" font-weight="bold" font-family="Liberation Sans" textLength="21.0" lengthAdjust="spacingAndGlyphs" >Клин</text>
<line x1="360.0" y1="350.0" x2="451.4" y2="347.7" stroke="#000" stroke-width="0.8" />
<text x="403.5" y="358.8" font-size="10.37" text-anchor="start" fill="#000" font-weight="bold" font-family="Liberation Sans" textLength="48.0" lengthAdjust="spacingAndGlyphs" >деревянный</text>
<path d="M405.5,338.8 L420.3,307.7" stroke="#000" stroke-width="0.8" fill="none" />
<text x="462.5" y="387.8" font-size="10.37" text-anchor="start" fill="#000" font-weight="bold" font-family="Liberation Sans" textLength="74.0" lengthAdjust="spacingAndGlyphs" >Канат пеньковый</text>
<line x1="462.5" y1="388.1" x2="536.5" y2="388.1" stroke="#000" stroke-width="0.8" />
<line x1="455.0" y1="378.0" x2="462.5" y2="388.0" stroke="#000" stroke-width="0.8" />
<text x="301.5" y="489.8" font-size="10.37" text-anchor="start" fill="#000" font-weight="bold" font-family="Liberation Sans" textLength="74.0" lengthAdjust="spacingAndGlyphs" >Канат пеньковый</text>
<line x1="301.5" y1="490.1" x2="375.5" y2="490.1" stroke="#000" stroke-width="0.8" />
<line x1="294.0" y1="480.0" x2="301.5" y2="490.0" stroke="#000" stroke-width="0.8" />
</g>
<g id="bundle" stroke="#555" fill="none">
<line x1="638.0" y1="30.5" x2="638.0" y2="42.0" stroke="#444" stroke-width="1.8" />
<line x1="650.0" y1="30.5" x2="650.0" y2="52.0" stroke="#444" stroke-width="1.8" />
<path d="M633,43 Q640,38 650,46 L652,54 Q649,68 644,73 L639,72 Q632,60 633,43 Z" stroke="#555" stroke-width="1" fill="#fff" />
<path d="M638,42 L650,48 M652,54 l-8,19" stroke="#555" stroke-width="0.9" fill="none" />
<circle cx="641.0" cy="53.0" r="2.2" fill="none" stroke="#666" stroke-width="0.7" />
<circle cx="644.0" cy="62.0" r="1.8" fill="none" stroke="#666" stroke-width="0.7" />
<circle cx="640.0" cy="67.0" r="1.5" fill="none" stroke="#666" stroke-width="0.7" />
<path d="M643,74 Q636,77 638,84 Q642,90 646,83 M645,81 Q649,86 646,94" stroke="#555" stroke-width="1" fill="none" />
<line x1="642.5" y1="96.0" x2="603.7" y2="212.6" stroke="#444" stroke-width="1" />
<line x1="603.7" y1="212.6" x2="587.4" y2="248.0" stroke="#444" stroke-width="1" />
<line x1="642.5" y1="96.0" x2="681.3" y2="180.0" stroke="#444" stroke-width="1" />
<line x1="681.3" y1="180.0" x2="707.4" y2="240.7" stroke="#444" stroke-width="1" />
<line x1="603.7" y1="212.6" x2="599.3" y2="266.0" stroke="#444" stroke-width="0.9" />
<line x1="681.3" y1="180.0" x2="685.0" y2="200.0" stroke="#444" stroke-width="0.9" />
<rect x="556.3" y="154.8" width="66.7" height="19.2" rx="8" fill="#fff" stroke="#777" stroke-width="0.9"/>
<path d="M590,174 L603.7,212.6 L598,174" stroke="#777" stroke-width="0.8" fill="none" />
<text x="562.0" y="164.5" font-size="7.5" text-anchor="start" fill="#444" font-weight="bold" font-family="Liberation Sans" textLength="53.0" lengthAdjust="spacingAndGlyphs" >Строп 2СК-3.2</text>
<text x="562.0" y="172.8" font-size="7.5" text-anchor="start" fill="#444" font-weight="bold" font-family="Liberation Sans" textLength="24.0" lengthAdjust="spacingAndGlyphs" >L=2000</text>
<rect x="661.5" y="153.3" width="69.6" height="11.9" rx="5.9" fill="#fff" stroke="#777" stroke-width="0.9"/>
<path d="M690,165.2 L681.3,180 L698,165.2" stroke="#777" stroke-width="0.8" fill="none" />
<text x="666.5" y="163.6" font-size="7.5" text-anchor="start" fill="#444" font-weight="bold" font-family="Liberation Sans" textLength="61.0" lengthAdjust="spacingAndGlyphs" >Строп СКП 1-1.8</text>
<g stroke="#555" stroke-width="0.9">
<polygon points="527.5,278.0 747.5,165.5 769.0,178.5 769.0,215.5 549.0,328.0 525.0,313.0" fill="#fff" stroke="#555" stroke-width="1" />
<line x1="549.0" y1="291.0" x2="769.0" y2="178.5" stroke="#000" stroke-width="1" />
<line x1="549.0" y1="297.7" x2="769.0" y2="185.2" stroke="#000" stroke-width="0.9" />
<line x1="549.0" y1="299.9" x2="769.0" y2="187.4" stroke="#000" stroke-width="0.9" />
<line x1="549.0" y1="309.5" x2="769.0" y2="197.0" stroke="#000" stroke-width="0.9" />
<line x1="549.0" y1="311.7" x2="769.0" y2="199.2" stroke="#000" stroke-width="0.9" />
<line x1="549.0" y1="320.6" x2="769.0" y2="208.1" stroke="#000" stroke-width="0.9" />
<line x1="549.0" y1="322.8" x2="769.0" y2="210.3" stroke="#000" stroke-width="0.9" />
<line x1="537.2" y1="283.9" x2="757.2" y2="171.4" stroke="#000" stroke-width="0.9" />
<line x1="539.3" y1="285.1" x2="759.3" y2="172.6" stroke="#000" stroke-width="0.9" />
<polygon points="747.5,165.5 769.0,178.5 769.0,215.5" fill="none" stroke="#555" stroke-width="1" />
<polyline points="527.5,278.0 549.0,291.0 549.0,328.0 525.0,313.0 527.5,278.0" stroke="#000" stroke-width="1" fill="none" />
<path d="M529,288 l8,4 l0,6 l-4,2 l0,8 l6,3 M540,293 l5,3 l0,7 l-3,2 l0,9 l6,3 M527,300 l10,5 M533,311 l0,-8 M538,318 l0,-9" stroke="#000" stroke-width="0.9" fill="none" />
<path d="M551.9,264.5 Q564.6,263.5 576.4,281.5 L576.4,314.5" stroke="#444" stroke-width="1" fill="none" />
<path d="M624.5,227.4 Q637.2,226.4 649.0,244.4 L649.0,277.4" stroke="#444" stroke-width="1" fill="none" />
<path d="M670.7,203.8 Q683.5,202.8 695.2,220.8 L695.2,253.8" stroke="#444" stroke-width="1" fill="none" />
<path d="M712.5,182.4 Q725.2,181.4 737.0,199.4 L737.0,232.4" stroke="#444" stroke-width="1" fill="none" />
<path d="M612,214 Q620,222 612,260" stroke="#444" stroke-width="0.9" fill="none" />
<path d="M681,200 Q700,212 704,248" stroke="#444" stroke-width="0.9" fill="none" />
</g>
<rect x="620.9" y="231" width="42.7" height="10.6" rx="5.3" fill="#fff" stroke="#777" stroke-width="0.9"/>
<text x="626.0" y="240.8" font-size="7.5" text-anchor="start" fill="#444" font-weight="bold" font-family="Liberation Sans" textLength="32.0" lengthAdjust="spacingAndGlyphs" >Обвязка</text>
<rect x="569.6" y="276.3" width="52.4" height="10.4" rx="5.2" fill="#fff" stroke="#777" stroke-width="0.9"/>
<text x="574.5" y="285.8" font-size="7.5" text-anchor="start" fill="#444" font-weight="bold" font-family="Liberation Sans" textLength="42.0" lengthAdjust="spacingAndGlyphs" >Прокладка</text>
</g>
<g id="platform">
<text x="871.0" y="117.3" font-size="10.37" text-anchor="middle" fill="#000" font-weight="bold" font-family="Liberation Sans" textLength="100.0" lengthAdjust="spacingAndGlyphs" >Перевозка рельс на ж/д</text>
<text x="871.0" y="127.8" font-size="10.37" text-anchor="middle" fill="#000" font-weight="bold" font-family="Liberation Sans" textLength="46.0" lengthAdjust="spacingAndGlyphs" >платформе</text>
<text x="871.0" y="138.3" font-size="10.37" text-anchor="middle" fill="#000" font-weight="bold" font-family="Liberation Sans" textLength="29.0" lengthAdjust="spacingAndGlyphs" >Рельсы</text>
<rect x="789.4" y="140.9" width="163.9" height="106.8" fill="none" stroke="#000" stroke-width="1.3" />
<line x1="798.0" y1="140.9" x2="798.0" y2="235.3" stroke="#000" stroke-width="1.2" />
<line x1="944.7" y1="140.9" x2="944.7" y2="235.3" stroke="#000" stroke-width="1.2" />
<line x1="789.4" y1="235.3" x2="953.3" y2="235.3" stroke="#000" stroke-width="1.3" />
<rect x="798.6" y="149.0" width="145.5" height="10.6" fill="#000"/>
<clipPath id="rc1543"><rect x="798.6" y="149.0" width="145.5" height="10.6"/></clipPath>
<path d="M796.68,150.25 h3.19 v5.30 h-3.19 z M795.38,155.55 a2.90,2.90 0 1,0 5.80,0 a2.90,2.90 0 1,0 -5.80,0 z M804.30,150.25 h3.19 v5.30 h-3.19 z M803.00,155.55 a2.90,2.90 0 1,0 5.80,0 a2.90,2.90 0 1,0 -5.80,0 z M811.92,150.25 h3.19 v5.30 h-3.19 z M810.62,155.55 a2.90,2.90 0 1,0 5.80,0 a2.90,2.90 0 1,0 -5.80,0 z M819.54,150.25 h3.19 v5.30 h-3.19 z M818.24,155.55 a2.90,2.90 0 1,0 5.80,0 a2.90,2.90 0 1,0 -5.80,0 z M827.16,150.25 h3.19 v5.30 h-3.19 z M825.86,155.55 a2.90,2.90 0 1,0 5.80,0 a2.90,2.90 0 1,0 -5.80,0 z M834.78,150.25 h3.19 v5.30 h-3.19 z M833.48,155.55 a2.90,2.90 0 1,0 5.80,0 a2.90,2.90 0 1,0 -5.80,0 z M842.40,150.25 h3.19 v5.30 h-3.19 z M841.10,155.55 a2.90,2.90 0 1,0 5.80,0 a2.90,2.90 0 1,0 -5.80,0 z M850.02,150.25 h3.19 v5.30 h-3.19 z M848.72,155.55 a2.90,2.90 0 1,0 5.80,0 a2.90,2.90 0 1,0 -5.80,0 z M857.64,150.25 h3.19 v5.30 h-3.19 z M856.34,155.55 a2.90,2.90 0 1,0 5.80,0 a2.90,2.90 0 1,0 -5.80,0 z M865.26,150.25 h3.19 v5.30 h-3.19 z M863.96,155.55 a2.90,2.90 0 1,0 5.80,0 a2.90,2.90 0 1,0 -5.80,0 z M872.88,150.25 h3.19 v5.30 h-3.19 z M871.58,155.55 a2.90,2.90 0 1,0 5.80,0 a2.90,2.90 0 1,0 -5.80,0 z M880.50,150.25 h3.19 v5.30 h-3.19 z M879.20,155.55 a2.90,2.90 0 1,0 5.80,0 a2.90,2.90 0 1,0 -5.80,0 z M888.12,150.25 h3.19 v5.30 h-3.19 z M886.82,155.55 a2.90,2.90 0 1,0 5.80,0 a2.90,2.90 0 1,0 -5.80,0 z M895.75,150.25 h3.19 v5.30 h-3.19 z M894.44,155.55 a2.90,2.90 0 1,0 5.80,0 a2.90,2.90 0 1,0 -5.80,0 z M903.37,150.25 h3.19 v5.30 h-3.19 z M902.06,155.55 a2.90,2.90 0 1,0 5.80,0 a2.90,2.90 0 1,0 -5.80,0 z M910.99,150.25 h3.19 v5.30 h-3.19 z M909.68,155.55 a2.90,2.90 0 1,0 5.80,0 a2.90,2.90 0 1,0 -5.80,0 z M918.61,150.25 h3.19 v5.30 h-3.19 z M917.30,155.55 a2.90,2.90 0 1,0 5.80,0 a2.90,2.90 0 1,0 -5.80,0 z M926.23,150.25 h3.19 v5.30 h-3.19 z M924.92,155.55 a2.90,2.90 0 1,0 5.80,0 a2.90,2.90 0 1,0 -5.80,0 z M933.85,150.25 h3.19 v5.30 h-3.19 z M932.54,155.55 a2.90,2.90 0 1,0 5.80,0 a2.90,2.90 0 1,0 -5.80,0 z M941.47,150.25 h3.19 v5.30 h-3.19 z M940.16,155.55 a2.90,2.90 0 1,0 5.80,0 a2.90,2.90 0 1,0 -5.80,0 z M949.09,150.25 h3.19 v5.30 h-3.19 z M947.78,155.55 a2.90,2.90 0 1,0 5.80,0 a2.90,2.90 0 1,0 -5.80,0 z " fill="#fff" clip-path="url(#rc1543)"/>
<rect x="798.6" y="166.3" width="145.5" height="10.6" fill="#000"/>
<clipPath id="rc1716"><rect x="798.6" y="166.3" width="145.5" height="10.6"/></clipPath>
<path d="M796.68,167.50 h3.19 v5.30 h-3.19 z M795.38,172.80 a2.90,2.90 0 1,0 5.80,0 a2.90,2.90 0 1,0 -5.80,0 z M804.30,167.50 h3.19 v5.30 h-3.19 z M803.00,172.80 a2.90,2.90 0 1,0 5.80,0 a2.90,2.90 0 1,0 -5.80,0 z M811.92,167.50 h3.19 v5.30 h-3.19 z M810.62,172.80 a2.90,2.90 0 1,0 5.80,0 a2.90,2.90 0 1,0 -5.80,0 z M819.54,167.50 h3.19 v5.30 h-3.19 z M818.24,172.80 a2.90,2.90 0 1,0 5.80,0 a2.90,2.90 0 1,0 -5.80,0 z M827.16,167.50 h3.19 v5.30 h-3.19 z M825.86,172.80 a2.90,2.90 0 1,0 5.80,0 a2.90,2.90 0 1,0 -5.80,0 z M834.78,167.50 h3.19 v5.30 h-3.19 z M833.48,172.80 a2.90,2.90 0 1,0 5.80,0 a2.90,2.90 0 1,0 -5.80,0 z M842.40,167.50 h3.19 v5.30 h-3.19 z M841.10,172.80 a2.90,2.90 0 1,0 5.80,0 a2.90,2.90 0 1,0 -5.80,0 z M850.02,167.50 h3.19 v5.30 h-3.19 z M848.72,172.80 a2.90,2.90 0 1,0 5.80,0 a2.90,2.90 0 1,0 -5.80,0 z M857.64,167.50 h3.19 v5.30 h-3.19 z M856.34,172.80 a2.90,2.90 0 1,0 5.80,0 a2.90,2.90 0 1,0 -5.80,0 z M865.26,167.50 h3.19 v5.30 h-3.19 z M863.96,172.80 a2.90,2.90 0 1,0 5.80,0 a2.90,2.90 0 1,0 -5.80,0 z M872.88,167.50 h3.19 v5.30 h-3.19 z M871.58,172.80 a2.90,2.90 0 1,0 5.80,0 a2.90,2.90 0 1,0 -5.80,0 z M880.50,167.50 h3.19 v5.30 h-3.19 z M879.20,172.80 a2.90,2.90 0 1,0 5.80,0 a2.90,2.90 0 1,0 -5.80,0 z M888.12,167.50 h3.19 v5.30 h-3.19 z M886.82,172.80 a2.90,2.90 0 1,0 5.80,0 a2.90,2.90 0 1,0 -5.80,0 z M895.75,167.50 h3.19 v5.30 h-3.19 z M894.44,172.80 a2.90,2.90 0 1,0 5.80,0 a2.90,2.90 0 1,0 -5.80,0 z M903.37,167.50 h3.19 v5.30 h-3.19 z M902.06,172.80 a2.90,2.90 0 1,0 5.80,0 a2.90,2.90 0 1,0 -5.80,0 z M910.99,167.50 h3.19 v5.30 h-3.19 z M909.68,172.80 a2.90,2.90 0 1,0 5.80,0 a2.90,2.90 0 1,0 -5.80,0 z M918.61,167.50 h3.19 v5.30 h-3.19 z M917.30,172.80 a2.90,2.90 0 1,0 5.80,0 a2.90,2.90 0 1,0 -5.80,0 z M926.23,167.50 h3.19 v5.30 h-3.19 z M924.92,172.80 a2.90,2.90 0 1,0 5.80,0 a2.90,2.90 0 1,0 -5.80,0 z M933.85,167.50 h3.19 v5.30 h-3.19 z M932.54,172.80 a2.90,2.90 0 1,0 5.80,0 a2.90,2.90 0 1,0 -5.80,0 z M941.47,167.50 h3.19 v5.30 h-3.19 z M940.16,172.80 a2.90,2.90 0 1,0 5.80,0 a2.90,2.90 0 1,0 -5.80,0 z M949.09,167.50 h3.19 v5.30 h-3.19 z M947.78,172.80 a2.90,2.90 0 1,0 5.80,0 a2.90,2.90 0 1,0 -5.80,0 z " fill="#fff" clip-path="url(#rc1716)"/>
<rect x="798.6" y="183.6" width="145.5" height="10.6" fill="#000"/>
<clipPath id="rc1889"><rect x="798.6" y="183.6" width="145.5" height="10.6"/></clipPath>
<path d="M796.68,184.80 h3.19 v5.30 h-3.19 z M795.38,190.10 a2.90,2.90 0 1,0 5.80,0 a2.90,2.90 0 1,0 -5.80,0 z M804.30,184.80 h3.19 v5.30 h-3.19 z M803.00,190.10 a2.90,2.90 0 1,0 5.80,0 a2.90,2.90 0 1,0 -5.80,0 z M811.92,184.80 h3.19 v5.30 h-3.19 z M810.62,190.10 a2.90,2.90 0 1,0 5.80,0 a2.90,2.90 0 1,0 -5.80,0 z M819.54,184.80 h3.19 v5.30 h-3.19 z M818.24,190.10 a2.90,2.90 0 1,0 5.80,0 a2.90,2.90 0 1,0 -5.80,0 z M827.16,184.80 h3.19 v5.30 h-3.19 z M825.86,190.10 a2.90,2.90 0 1,0 5.80,0 a2.90,2.90 0 1,0 -5.80,0 z M834.78,184.80 h3.19 v5.30 h-3.19 z M833.48,190.10 a2.90,2.90 0 1,0 5.80,0 a2.90,2.90 0 1,0 -5.80,0 z M842.40,184.80 h3.19 v5.30 h-3.19 z M841.10,190.10 a2.90,2.90 0 1,0 5.80,0 a2.90,2.90 0 1,0 -5.80,0 z M850.02,184.80 h3.19 v5.30 h-3.19 z M848.72,190.10 a2.90,2.90 0 1,0 5.80,0 a2.90,2.90 0 1,0 -5.80,0 z M857.64,184.80 h3.19 v5.30 h-3.19 z M856.34,190.10 a2.90,2.90 0 1,0 5.80,0 a2.90,2.90 0 1,0 -5.80,0 z M865.26,184.80 h3.19 v5.30 h-3.19 z M863.96,190.10 a2.90,2.90 0 1,0 5.80,0 a2.90,2.90 0 1,0 -5.80,0 z M872.88,184.80 h3.19 v5.30 h-3.19 z M871.58,190.10 a2.90,2.90 0 1,0 5.80,0 a2.90,2.90 0 1,0 -5.80,0 z M880.50,184.80 h3.19 v5.30 h-3.19 z M879.20,190.10 a2.90,2.90 0 1,0 5.80,0 a2.90,2.90 0 1,0 -5.80,0 z M888.12,184.80 h3.19 v5.30 h-3.19 z M886.82,190.10 a2.90,2.90 0 1,0 5.80,0 a2.90,2.90 0 1,0 -5.80,0 z M895.75,184.80 h3.19 v5.30 h-3.19 z M894.44,190.10 a2.90,2.90 0 1,0 5.80,0 a2.90,2.90 0 1,0 -5.80,0 z M903.37,184.80 h3.19 v5.30 h-3.19 z M902.06,190.10 a2.90,2.90 0 1,0 5.80,0 a2.90,2.90 0 1,0 -5.80,0 z M910.99,184.80 h3.19 v5.30 h-3.19 z M909.68,190.10 a2.90,2.90 0 1,0 5.80,0 a2.90,2.90 0 1,0 -5.80,0 z M918.61,184.80 h3.19 v5.30 h-3.19 z M917.30,190.10 a2.90,2.90 0 1,0 5.80,0 a2.90,2.90 0 1,0 -5.80,0 z M926.23,184.80 h3.19 v5.30 h-3.19 z M924.92,190.10 a2.90,2.90 0 1,0 5.80,0 a2.90,2.90 0 1,0 -5.80,0 z M933.85,184.80 h3.19 v5.30 h-3.19 z M932.54,190.10 a2.90,2.90 0 1,0 5.80,0 a2.90,2.90 0 1,0 -5.80,0 z M941.47,184.80 h3.19 v5.30 h-3.19 z M940.16,190.10 a2.90,2.90 0 1,0 5.80,0 a2.90,2.90 0 1,0 -5.80,0 z M949.09,184.80 h3.19 v5.30 h-3.19 z M947.78,190.10 a2.90,2.90 0 1,0 5.80,0 a2.90,2.90 0 1,0 -5.80,0 z " fill="#fff" clip-path="url(#rc1889)"/>
<rect x="798.6" y="200.7" width="145.5" height="10.6" fill="#000"/>
<clipPath id="rc2060"><rect x="798.6" y="200.7" width="145.5" height="10.6"/></clipPath>
<path d="M796.68,201.90 h3.19 v5.30 h-3.19 z M795.38,207.20 a2.90,2.90 0 1,0 5.80,0 a2.90,2.90 0 1,0 -5.80,0 z M804.30,201.90 h3.19 v5.30 h-3.19 z M803.00,207.20 a2.90,2.90 0 1,0 5.80,0 a2.90,2.90 0 1,0 -5.80,0 z M811.92,201.90 h3.19 v5.30 h-3.19 z M810.62,207.20 a2.90,2.90 0 1,0 5.80,0 a2.90,2.90 0 1,0 -5.80,0 z M819.54,201.90 h3.19 v5.30 h-3.19 z M818.24,207.20 a2.90,2.90 0 1,0 5.80,0 a2.90,2.90 0 1,0 -5.80,0 z M827.16,201.90 h3.19 v5.30 h-3.19 z M825.86,207.20 a2.90,2.90 0 1,0 5.80,0 a2.90,2.90 0 1,0 -5.80,0 z M834.78,201.90 h3.19 v5.30 h-3.19 z M833.48,207.20 a2.90,2.90 0 1,0 5.80,0 a2.90,2.90 0 1,0 -5.80,0 z M842.40,201.90 h3.19 v5.30 h-3.19 z M841.10,207.20 a2.90,2.90 0 1,0 5.80,0 a2.90,2.90 0 1,0 -5.80,0 z M850.02,201.90 h3.19 v5.30 h-3.19 z M848.72,207.20 a2.90,2.90 0 1,0 5.80,0 a2.90,2.90 0 1,0 -5.80,0 z M857.64,201.90 h3.19 v5.30 h-3.19 z M856.34,207.20 a2.90,2.90 0 1,0 5.80,0 a2.90,2.90 0 1,0 -5.80,0 z M865.26,201.90 h3.19 v5.30 h-3.19 z M863.96,207.20 a2.90,2.90 0 1,0 5.80,0 a2.90,2.90 0 1,0 -5.80,0 z M872.88,201.90 h3.19 v5.30 h-3.19 z M871.58,207.20 a2.90,2.90 0 1,0 5.80,0 a2.90,2.90 0 1,0 -5.80,0 z M880.50,201.90 h3.19 v5.30 h-3.19 z M879.20,207.20 a2.90,2.90 0 1,0 5.80,0 a2.90,2.90 0 1,0 -5.80,0 z M888.12,201.90 h3.19 v5.30 h-3.19 z M886.82,207.20 a2.90,2.90 0 1,0 5.80,0 a2.90,2.90 0 1,0 -5.80,0 z M895.75,201.90 h3.19 v5.30 h-3.19 z M894.44,207.20 a2.90,2.90 0 1,0 5.80,0 a2.90,2.90 0 1,0 -5.80,0 z M903.37,201.90 h3.19 v5.30 h-3.19 z M902.06,207.20 a2.90,2.90 0 1,0 5.80,0 a2.90,2.90 0 1,0 -5.80,0 z M910.99,201.90 h3.19 v5.30 h-3.19 z M909.68,207.20 a2.90,2.90 0 1,0 5.80,0 a2.90,2.90 0 1,0 -5.80,0 z M918.61,201.90 h3.19 v5.30 h-3.19 z M917.30,207.20 a2.90,2.90 0 1,0 5.80,0 a2.90,2.90 0 1,0 -5.80,0 z M926.23,201.90 h3.19 v5.30 h-3.19 z M924.92,207.20 a2.90,2.90 0 1,0 5.80,0 a2.90,2.90 0 1,0 -5.80,0 z M933.85,201.90 h3.19 v5.30 h-3.19 z M932.54,207.20 a2.90,2.90 0 1,0 5.80,0 a2.90,2.90 0 1,0 -5.80,0 z M941.47,201.90 h3.19 v5.30 h-3.19 z M940.16,207.20 a2.90,2.90 0 1,0 5.80,0 a2.90,2.90 0 1,0 -5.80,0 z M949.09,201.90 h3.19 v5.30 h-3.19 z M947.78,207.20 a2.90,2.90 0 1,0 5.80,0 a2.90,2.90 0 1,0 -5.80,0 z " fill="#fff" clip-path="url(#rc2060)"/>
<rect x="798.6" y="217.5" width="145.5" height="10.6" fill="#000"/>
<clipPath id="rc2228"><rect x="798.6" y="217.5" width="145.5" height="10.6"/></clipPath>
<path d="M796.68,218.70 h3.19 v5.30 h-3.19 z M795.38,224.00 a2.90,2.90 0 1,0 5.80,0 a2.90,2.90 0 1,0 -5.80,0 z M804.30,218.70 h3.19 v5.30 h-3.19 z M803.00,224.00 a2.90,2.90 0 1,0 5.80,0 a2.90,2.90 0 1,0 -5.80,0 z M811.92,218.70 h3.19 v5.30 h-3.19 z M810.62,224.00 a2.90,2.90 0 1,0 5.80,0 a2.90,2.90 0 1,0 -5.80,0 z M819.54,218.70 h3.19 v5.30 h-3.19 z M818.24,224.00 a2.90,2.90 0 1,0 5.80,0 a2.90,2.90 0 1,0 -5.80,0 z M827.16,218.70 h3.19 v5.30 h-3.19 z M825.86,224.00 a2.90,2.90 0 1,0 5.80,0 a2.90,2.90 0 1,0 -5.80,0 z M834.78,218.70 h3.19 v5.30 h-3.19 z M833.48,224.00 a2.90,2.90 0 1,0 5.80,0 a2.90,2.90 0 1,0 -5.80,0 z M842.40,218.70 h3.19 v5.30 h-3.19 z M841.10,224.00 a2.90,2.90 0 1,0 5.80,0 a2.90,2.90 0 1,0 -5.80,0 z M850.02,218.70 h3.19 v5.30 h-3.19 z M848.72,224.00 a2.90,2.90 0 1,0 5.80,0 a2.90,2.90 0 1,0 -5.80,0 z M857.64,218.70 h3.19 v5.30 h-3.19 z M856.34,224.00 a2.90,2.90 0 1,0 5.80,0 a2.90,2.90 0 1,0 -5.80,0 z M865.26,218.70 h3.19 v5.30 h-3.19 z M863.96,224.00 a2.90,2.90 0 1,0 5.80,0 a2.90,2.90 0 1,0 -5.80,0 z M872.88,218.70 h3.19 v5.30 h-3.19 z M871.58,224.00 a2.90,2.90 0 1,0 5.80,0 a2.90,2.90 0 1,0 -5.80,0 z M880.50,218.70 h3.19 v5.30 h-3.19 z M879.20,224.00 a2.90,2.90 0 1,0 5.80,0 a2.90,2.90 0 1,0 -5.80,0 z M888.12,218.70 h3.19 v5.30 h-3.19 z M886.82,224.00 a2.90,2.90 0 1,0 5.80,0 a2.90,2.90 0 1,0 -5.80,0 z M895.75,218.70 h3.19 v5.30 h-3.19 z M894.44,224.00 a2.90,2.90 0 1,0 5.80,0 a2.90,2.90 0 1,0 -5.80,0 z M903.37,218.70 h3.19 v5.30 h-3.19 z M902.06,224.00 a2.90,2.90 0 1,0 5.80,0 a2.90,2.90 0 1,0 -5.80,0 z M910.99,218.70 h3.19 v5.30 h-3.19 z M909.68,224.00 a2.90,2.90 0 1,0 5.80,0 a2.90,2.90 0 1,0 -5.80,0 z M918.61,218.70 h3.19 v5.30 h-3.19 z M917.30,224.00 a2.90,2.90 0 1,0 5.80,0 a2.90,2.90 0 1,0 -5.80,0 z M926.23,218.70 h3.19 v5.30 h-3.19 z M924.92,224.00 a2.90,2.90 0 1,0 5.80,0 a2.90,2.90 0 1,0 -5.80,0 z M933.85,218.70 h3.19 v5.30 h-3.19 z M932.54,224.00 a2.90,2.90 0 1,0 5.80,0 a2.90,2.90 0 1,0 -5.80,0 z M941.47,218.70 h3.19 v5.30 h-3.19 z M940.16,224.00 a2.90,2.90 0 1,0 5.80,0 a2.90,2.90 0 1,0 -5.80,0 z M949.09,218.70 h3.19 v5.30 h-3.19 z M947.78,224.00 a2.90,2.90 0 1,0 5.80,0 a2.90,2.90 0 1,0 -5.80,0 z " fill="#fff" clip-path="url(#rc2228)"/>
<rect x="799.0" y="218.0" width="2.0" height="9.6" fill="#e8262b"/>
<rect x="805.3" y="235.3" width="133.8" height="12.4" fill="none" stroke="#000" stroke-width="1.1" />
<circle cx="823.0" cy="243.0" r="4.2" fill="none" stroke="#000" stroke-width="1.3" />
<circle cx="823.0" cy="243.0" r="1.8" fill="#000" stroke="#000" stroke-width="1" />
<path d="M925,238 l0,9 M921,242.5 l8,0" stroke="#000" stroke-width="1.1" fill="none" />
<circle cx="925.0" cy="242.5" r="2.5" fill="none" stroke="#000" stroke-width="1" />
<polygon points="800.6,269.5 805.3,264.2 814.2,258.3 820.7,258.9 823.6,265.4 823.6,296.0 812.4,296.0 803.6,291.9 800.0,288.9" fill="#fff" stroke="#000" stroke-width="1.3" />
<line x1="801.5" y1="271.8" x2="809.0" y2="270.6" stroke="#000" stroke-width="2.0" />
<line x1="801.5" y1="275.2" x2="809.0" y2="274.0" stroke="#000" stroke-width="2.0" />
<line x1="801.5" y1="278.6" x2="809.0" y2="277.4" stroke="#000" stroke-width="2.0" />
<line x1="801.5" y1="282.0" x2="809.0" y2="280.8" stroke="#000" stroke-width="2.0" />
<line x1="801.5" y1="285.4" x2="809.0" y2="284.2" stroke="#000" stroke-width="2.0" />
<polygon points="813.6,259.5 818.9,259.5 818.9,281.0 813.6,281.0" fill="#fff" stroke="#000" stroke-width="1.2" />
<line x1="810.0" y1="283.0" x2="823.6" y2="283.0" stroke="#000" stroke-width="1.2" />
<line x1="810.0" y1="289.0" x2="823.6" y2="289.0" stroke="#000" stroke-width="1.2" />
<polygon points="942.2,269.5 937.5,264.2 928.6,258.3 922.1,258.9 919.2,265.4 919.2,296.0 930.4,296.0 939.2,291.9 942.8,288.9" fill="#fff" stroke="#000" stroke-width="1.3" />
<line x1="941.3" y1="271.8" x2="933.8" y2="270.6" stroke="#000" stroke-width="2.0" />
<line x1="941.3" y1="275.2" x2="933.8" y2="274.0" stroke="#000" stroke-width="2.0" />
<line x1="941.3" y1="278.6" x2="933.8" y2="277.4" stroke="#000" stroke-width="2.0" />
<line x1="941.3" y1="282.0" x2="933.8" y2="280.8" stroke="#000" stroke-width="2.0" />
<line x1="941.3" y1="285.4" x2="933.8" y2="284.2" stroke="#000" stroke-width="2.0" />
<polygon points="929.2,259.5 923.9,259.5 923.9,281.0 929.2,281.0" fill="#fff" stroke="#000" stroke-width="1.2" />
<line x1="932.8" y1="283.0" x2="919.2" y2="283.0" stroke="#000" stroke-width="1.2" />
<line x1="932.8" y1="289.0" x2="919.2" y2="289.0" stroke="#000" stroke-width="1.2" />
<g stroke="#000" fill="none" stroke-width="1.3">
<rect x="826.6" y="251.0" width="7.6" height="58.0" fill="none" stroke="#000" stroke-width="1" />
<rect x="908.5" y="251.0" width="7.7" height="58.0" fill="none" stroke="#000" stroke-width="1" />
<path d="M834.2,268.9 L872,274 L908.5,268.9 M834.2,279.5 L908.5,279.5 M834.2,286.6 L908.5,286.6" stroke="#000" stroke-width="1" fill="none" />
</g>
<line x1="824.8" y1="279.5" x2="943.9" y2="279.5" stroke="#000" stroke-width="0.8" stroke-dasharray="8,2,2,2"/>
<g stroke="#000" fill="none" stroke-width="1.4">
<path d="M809.5,251.2 L846,264.2 M813,247 l-3,10 l3,3" stroke="#000" stroke-width="1" fill="none" />
<path d="M846,248 l4,-1.5 l3,15 l-4,1.5 z M842,262 l10,-3" stroke="#000" stroke-width="1" fill="none" />
<path d="M862,240 q5,-6 10,0 l0,14 q-5,5 -10,0 z M866,239 l0,17" stroke="#000" stroke-width="1" fill="none" />
<path d="M876,243 l8,0 q3,0 3,3 l0,6 q0,3 -3,3 l-8,0 z" stroke="#000" stroke-width="1" fill="none" />
<path d="M868.4,264.2 l4.7,0 l0,8 l-4.7,0 z M870.7,262 l0,2" stroke="#000" stroke-width="1" fill="none" />
<path d="M893.2,253.6 Q880,268 877.8,289 M876,289 q4,4 8,1" stroke="#000" stroke-width="1" fill="none" />
<path d="M886,252 q3,-3 6,0 M897,249 q8,-1 20,-3 M916,245 l4,-4" stroke="#000" stroke-width="1" fill="none" />
</g>
<rect x="889.0" y="250.0" width="6.0" height="6.0" fill="#000"/>
<rect x="870.8" y="288.0" width="5.7" height="5.0" fill="#000"/>
<polygon points="826.0,309.0 835.0,309.0 832.0,311.5 832.0,315.0 835.0,317.0 826.0,317.0 829.0,315.0 829.0,311.5" fill="#e8262b" stroke="none" stroke-width="1" />
<polygon points="908.0,309.0 917.0,309.0 914.0,311.5 914.0,315.0 917.0,317.0 908.0,317.0 911.0,315.0 911.0,311.5" fill="#e8262b" stroke="none" stroke-width="1" />
<clipPath id="slp"><path d="M802.4,329 L802.4,320 Q815,316 830,316 Q845,316 860,320 Q871,322 882,320 Q897,316 912,316 Q930,316 941.5,320 L941.5,329 Z"/></clipPath>
<path d="M802.4,329 L802.4,320 Q815,316 830,316 Q845,316 860,320 Q871,322 882,320 Q897,316 912,316 Q930,316 941.5,320 L941.5,329 Z" stroke="#000" stroke-width="1.2" fill="none" />
<path d="M795,329 l10,-14 M799,329 l10,-14 M803,329 l10,-14 M807,329 l10,-14 M811,329 l10,-14 M815,329 l10,-14 M819,329 l10,-14 M823,329 l10,-14 M827,329 l10,-14 M831,329 l10,-14 M835,329 l10,-14 M839,329 l10,-14 M843,329 l10,-14 M847,329 l10,-14 M851,329 l10,-14 M855,329 l10,-14 M859,329 l10,-14 M863,329 l10,-14 M867,329 l10,-14 M871,329 l10,-14 M875,329 l10,-14 M879,329 l10,-14 M883,329 l10,-14 M887,329 l10,-14 M891,329 l10,-14 M895,329 l10,-14 M899,329 l10,-14 M903,329 l10,-14 M907,329 l10,-14 M911,329 l10,-14 M915,329 l10,-14 M919,329 l10,-14 M923,329 l10,-14 M927,329 l10,-14 M931,329 l10,-14 M935,329 l10,-14 M939,329 l10,-14 M943,329 l10,-14 M947,329 l10,-14 M951,329 l10,-14 " stroke="#000" stroke-width="1" clip-path="url(#slp)"/>
<rect x="819.0" y="315.0" width="23.0" height="3.5" fill="#3ad83a"/>
<rect x="902.0" y="315.0" width="23.0" height="3.5" fill="#3ad83a"/>
<line x1="770.0" y1="330.2" x2="992.0" y2="330.2" stroke="#000" stroke-width="1.3" />
<path d="M775.0,333.5 l1.5,-3 M777.0,333.5 l1.5,-3 M786.6,333.5 l1.5,-3 M788.6,333.5 l1.5,-3 M798.2,333.5 l1.5,-3 M800.2,333.5 l1.5,-3 M809.8,333.5 l1.5,-3 M811.8,333.5 l1.5,-3 M821.4,333.5 l1.5,-3 M823.4,333.5 l1.5,-3 M833.0,333.5 l1.5,-3 M835.0,333.5 l1.5,-3 M844.6,333.5 l1.5,-3 M846.6,333.5 l1.5,-3 M856.2,333.5 l1.5,-3 M858.2,333.5 l1.5,-3 M867.8,333.5 l1.5,-3 M869.8,333.5 l1.5,-3 M879.4,333.5 l1.5,-3 M881.4,333.5 l1.5,-3 M891.0,333.5 l1.5,-3 M893.0,333.5 l1.5,-3 M902.6,333.5 l1.5,-3 M904.6,333.5 l1.5,-3 M914.2,333.5 l1.5,-3 M916.2,333.5 l1.5,-3 M925.8,333.5 l1.5,-3 M927.8,333.5 l1.5,-3 M937.4,333.5 l1.5,-3 M939.4,333.5 l1.5,-3 M949.0,333.5 l1.5,-3 M951.0,333.5 l1.5,-3 M960.6,333.5 l1.5,-3 M962.6,333.5 l1.5,-3 M972.2,333.5 l1.5,-3 M974.2,333.5 l1.5,-3 M983.8,333.5 l1.5,-3 M985.8,333.5 l1.5,-3 " stroke="#000" stroke-width="0.8" fill="none" />
<line x1="872.0" y1="330.0" x2="872.0" y2="350.0" stroke="#000" stroke-width="0.9" />
<text x="826.0" y="349.8" font-size="10.37" text-anchor="start" fill="#000" font-weight="bold" font-family="Liberation Sans" textLength="46.0" lengthAdjust="spacingAndGlyphs" >Ж/Б Шпалы</text>
<line x1="826.0" y1="350.1" x2="872.0" y2="350.1" stroke="#000" stroke-width="0.8" />
<text x="969.0" y="150.3" font-size="10.37" text-anchor="start" fill="#000" font-weight="bold" font-family="Liberation Sans" textLength="29.0" lengthAdjust="spacingAndGlyphs" >Рельсы</text>
<line x1="969.0" y1="150.6" x2="998.0" y2="150.6" stroke="#000" stroke-width="0.8" />
<line x1="969.0" y1="150.6" x2="930.0" y2="171.0" stroke="#000" stroke-width="0.9" />
<text x="969.0" y="178.3" font-size="10.37" text-anchor="start" fill="#000" font-weight="bold" font-family="Liberation Sans" textLength="53.0" lengthAdjust="spacingAndGlyphs" >Стеллаж для</text>
<line x1="969.0" y1="178.6" x2="1022.0" y2="178.6" stroke="#000" stroke-width="0.8" />
<text x="969.0" y="189.3" font-size="10.37" text-anchor="start" fill="#000" font-weight="bold" font-family="Liberation Sans" textLength="24.0" lengthAdjust="spacingAndGlyphs" >рельс</text>
<line x1="969.0" y1="178.6" x2="953.0" y2="189.0" stroke="#000" stroke-width="0.9" />
<text x="969.0" y="226.3" font-size="10.37" text-anchor="start" fill="#000" font-weight="bold" font-family="Liberation Sans" textLength="46.0" lengthAdjust="spacingAndGlyphs" >Платформа</text>
<line x1="969.0" y1="226.6" x2="1015.0" y2="226.6" stroke="#000" stroke-width="0.8" />
<line x1="969.0" y1="226.6" x2="953.0" y2="236.0" stroke="#000" stroke-width="0.9" />
<g transform="translate(1345.1 780.6) scale(0.5) translate(-789.4 -140.9)">
<rect x="789.4" y="140.9" width="163.9" height="106.8" fill="none" stroke="#000" stroke-width="1.3" />
<line x1="798.0" y1="140.9" x2="798.0" y2="235.3" stroke="#000" stroke-width="1.2" />
<line x1="944.7" y1="140.9" x2="944.7" y2="235.3" stroke="#000" stroke-width="1.2" />
<line x1="789.4" y1="235.3" x2="953.3" y2="235.3" stroke="#000" stroke-width="1.3" />
<rect x="798.6" y="149.0" width="145.5" height="10.6" fill="#000"/>
<clipPath id="rc1543s"><rect x="798.6" y="149.0" width="145.5" height="10.6"/></clipPath>
<path d="M796.68,150.25 h3.19 v5.30 h-3.19 z M795.38,155.55 a2.90,2.90 0 1,0 5.80,0 a2.90,2.90 0 1,0 -5.80,0 z M804.30,150.25 h3.19 v5.30 h-3.19 z M803.00,155.55 a2.90,2.90 0 1,0 5.80,0 a2.90,2.90 0 1,0 -5.80,0 z M811.92,150.25 h3.19 v5.30 h-3.19 z M810.62,155.55 a2.90,2.90 0 1,0 5.80,0 a2.90,2.90 0 1,0 -5.80,0 z M819.54,150.25 h3.19 v5.30 h-3.19 z M818.24,155.55 a2.90,2.90 0 1,0 5.80,0 a2.90,2.90 0 1,0 -5.80,0 z M827.16,150.25 h3.19 v5.30 h-3.19 z M825.86,155.55 a2.90,2.90 0 1,0 5.80,0 a2.90,2.90 0 1,0 -5.80,0 z M834.78,150.25 h3.19 v5.30 h-3.19 z M833.48,155.55 a2.90,2.90 0 1,0 5.80,0 a2.90,2.90 0 1,0 -5.80,0 z M842.40,150.25 h3.19 v5.30 h-3.19 z M841.10,155.55 a2.90,2.90 0 1,0 5.80,0 a2.90,2.90 0 1,0 -5.80,0 z M850.02,150.25 h3.19 v5.30 h-3.19 z M848.72,155.55 a2.90,2.90 0 1,0 5.80,0 a2.90,2.90 0 1,0 -5.80,0 z M857.64,150.25 h3.19 v5.30 h-3.19 z M856.34,155.55 a2.90,2.90 0 1,0 5.80,0 a2.90,2.90 0 1,0 -5.80,0 z M865.26,150.25 h3.19 v5.30 h-3.19 z M863.96,155.55 a2.90,2.90 0 1,0 5.80,0 a2.90,2.90 0 1,0 -5.80,0 z M872.88,150.25 h3.19 v5.30 h-3.19 z M871.58,155.55 a2.90,2.90 0 1,0 5.80,0 a2.90,2.90 0 1,0 -5.80,0 z M880.50,150.25 h3.19 v5.30 h-3.19 z M879.20,155.55 a2.90,2.90 0 1,0 5.80,0 a2.90,2.90 0 1,0 -5.80,0 z M888.12,150.25 h3.19 v5.30 h-3.19 z M886.82,155.55 a2.90,2.90 0 1,0 5.80,0 a2.90,2.90 0 1,0 -5.80,0 z M895.75,150.25 h3.19 v5.30 h-3.19 z M894.44,155.55 a2.90,2.90 0 1,0 5.80,0 a2.90,2.90 0 1,0 -5.80,0 z M903.37,150.25 h3.19 v5.30 h-3.19 z M902.06,155.55 a2.90,2.90 0 1,0 5.80,0 a2.90,2.90 0 1,0 -5.80,0 z M910.99,150.25 h3.19 v5.30 h-3.19 z M909.68,155.55 a2.90,2.90 0 1,0 5.80,0 a2.90,2.90 0 1,0 -5.80,0 z M918.61,150.25 h3.19 v5.30 h-3.19 z M917.30,155.55 a2.90,2.90 0 1,0 5.80,0 a2.90,2.90 0 1,0 -5.80,0 z M926.23,150.25 h3.19 v5.30 h-3.19 z M924.92,155.55 a2.90,2.90 0 1,0 5.80,0 a2.90,2.90 0 1,0 -5.80,0 z M933.85,150.25 h3.19 v5.30 h-3.19 z M932.54,155.55 a2.90,2.90 0 1,0 5.80,0 a2.90,2.90 0 1,0 -5.80,0 z M941.47,150.25 h3.19 v5.30 h-3.19 z M940.16,155.55 a2.90,2.90 0 1,0 5.80,0 a2.90,2.90 0 1,0 -5.80,0 z M949.09,150.25 h3.19 v5.30 h-3.19 z M947.78,155.55 a2.90,2.90 0 1,0 5.80,0 a2.90,2.90 0 1,0 -5.80,0 z " fill="#fff" clip-path="url(#rc1543s)"/>
<rect x="798.6" y="166.3" width="145.5" height="10.6" fill="#000"/>
<clipPath id="rc1716s"><rect x="798.6" y="166.3" width="145.5" height="10.6"/></clipPath>
<path d="M796.68,167.50 h3.19 v5.30 h-3.19 z M795.38,172.80 a2.90,2.90 0 1,0 5.80,0 a2.90,2.90 0 1,0 -5.80,0 z M804.30,167.50 h3.19 v5.30 h-3.19 z M803.00,172.80 a2.90,2.90 0 1,0 5.80,0 a2.90,2.90 0 1,0 -5.80,0 z M811.92,167.50 h3.19 v5.30 h-3.19 z M810.62,172.80 a2.90,2.90 0 1,0 5.80,0 a2.90,2.90 0 1,0 -5.80,0 z M819.54,167.50 h3.19 v5.30 h-3.19 z M818.24,172.80 a2.90,2.90 0 1,0 5.80,0 a2.90,2.90 0 1,0 -5.80,0 z M827.16,167.50 h3.19 v5.30 h-3.19 z M825.86,172.80 a2.90,2.90 0 1,0 5.80,0 a2.90,2.90 0 1,0 -5.80,0 z M834.78,167.50 h3.19 v5.30 h-3.19 z M833.48,172.80 a2.90,2.90 0 1,0 5.80,0 a2.90,2.90 0 1,0 -5.80,0 z M842.40,167.50 h3.19 v5.30 h-3.19 z M841.10,172.80 a2.90,2.90 0 1,0 5.80,0 a2.90,2.90 0 1,0 -5.80,0 z M850.02,167.50 h3.19 v5.30 h-3.19 z M848.72,172.80 a2.90,2.90 0 1,0 5.80,0 a2.90,2.90 0 1,0 -5.80,0 z M857.64,167.50 h3.19 v5.30 h-3.19 z M856.34,172.80 a2.90,2.90 0 1,0 5.80,0 a2.90,2.90 0 1,0 -5.80,0 z M865.26,167.50 h3.19 v5.30 h-3.19 z M863.96,172.80 a2.90,2.90 0 1,0 5.80,0 a2.90,2.90 0 1,0 -5.80,0 z M872.88,167.50 h3.19 v5.30 h-3.19 z M871.58,172.80 a2.90,2.90 0 1,0 5.80,0 a2.90,2.90 0 1,0 -5.80,0 z M880.50,167.50 h3.19 v5.30 h-3.19 z M879.20,172.80 a2.90,2.90 0 1,0 5.80,0 a2.90,2.90 0 1,0 -5.80,0 z M888.12,167.50 h3.19 v5.30 h-3.19 z M886.82,172.80 a2.90,2.90 0 1,0 5.80,0 a2.90,2.90 0 1,0 -5.80,0 z M895.75,167.50 h3.19 v5.30 h-3.19 z M894.44,172.80 a2.90,2.90 0 1,0 5.80,0 a2.90,2.90 0 1,0 -5.80,0 z M903.37,167.50 h3.19 v5.30 h-3.19 z M902.06,172.80 a2.90,2.90 0 1,0 5.80,0 a2.90,2.90 0 1,0 -5.80,0 z M910.99,167.50 h3.19 v5.30 h-3.19 z M909.68,172.80 a2.90,2.90 0 1,0 5.80,0 a2.90,2.90 0 1,0 -5.80,0 z M918.61,167.50 h3.19 v5.30 h-3.19 z M917.30,172.80 a2.90,2.90 0 1,0 5.80,0 a2.90,2.90 0 1,0 -5.80,0 z M926.23,167.50 h3.19 v5.30 h-3.19 z M924.92,172.80 a2.90,2.90 0 1,0 5.80,0 a2.90,2.90 0 1,0 -5.80,0 z M933.85,167.50 h3.19 v5.30 h-3.19 z M932.54,172.80 a2.90,2.90 0 1,0 5.80,0 a2.90,2.90 0 1,0 -5.80,0 z M941.47,167.50 h3.19 v5.30 h-3.19 z M940.16,172.80 a2.90,2.90 0 1,0 5.80,0 a2.90,2.90 0 1,0 -5.80,0 z M949.09,167.50 h3.19 v5.30 h-3.19 z M947.78,172.80 a2.90,2.90 0 1,0 5.80,0 a2.90,2.90 0 1,0 -5.80,0 z " fill="#fff" clip-path="url(#rc1716s)"/>
<rect x="798.6" y="183.6" width="145.5" height="10.6" fill="#000"/>
<clipPath id="rc1889s"><rect x="798.6" y="183.6" width="145.5" height="10.6"/></clipPath>
<path d="M796.68,184.80 h3.19 v5.30 h-3.19 z M795.38,190.10 a2.90,2.90 0 1,0 5.80,0 a2.90,2.90 0 1,0 -5.80,0 z M804.30,184.80 h3.19 v5.30 h-3.19 z M803.00,190.10 a2.90,2.90 0 1,0 5.80,0 a2.90,2.90 0 1,0 -5.80,0 z M811.92,184.80 h3.19 v5.30 h-3.19 z M810.62,190.10 a2.90,2.90 0 1,0 5.80,0 a2.90,2.90 0 1,0 -5.80,0 z M819.54,184.80 h3.19 v5.30 h-3.19 z M818.24,190.10 a2.90,2.90 0 1,0 5.80,0 a2.90,2.90 0 1,0 -5.80,0 z M827.16,184.80 h3.19 v5.30 h-3.19 z M825.86,190.10 a2.90,2.90 0 1,0 5.80,0 a2.90,2.90 0 1,0 -5.80,0 z M834.78,184.80 h3.19 v5.30 h-3.19 z M833.48,190.10 a2.90,2.90 0 1,0 5.80,0 a2.90,2.90 0 1,0 -5.80,0 z M842.40,184.80 h3.19 v5.30 h-3.19 z M841.10,190.10 a2.90,2.90 0 1,0 5.80,0 a2.90,2.90 0 1,0 -5.80,0 z M850.02,184.80 h3.19 v5.30 h-3.19 z M848.72,190.10 a2.90,2.90 0 1,0 5.80,0 a2.90,2.90 0 1,0 -5.80,0 z M857.64,184.80 h3.19 v5.30 h-3.19 z M856.34,190.10 a2.90,2.90 0 1,0 5.80,0 a2.90,2.90 0 1,0 -5.80,0 z M865.26,184.80 h3.19 v5.30 h-3.19 z M863.96,190.10 a2.90,2.90 0 1,0 5.80,0 a2.90,2.90 0 1,0 -5.80,0 z M872.88,184.80 h3.19 v5.30 h-3.19 z M871.58,190.10 a2.90,2.90 0 1,0 5.80,0 a2.90,2.90 0 1,0 -5.80,0 z M880.50,184.80 h3.19 v5.30 h-3.19 z M879.20,190.10 a2.90,2.90 0 1,0 5.80,0 a2.90,2.90 0 1,0 -5.80,0 z M888.12,184.80 h3.19 v5.30 h-3.19 z M886.82,190.10 a2.90,2.90 0 1,0 5.80,0 a2.90,2.90 0 1,0 -5.80,0 z M895.75,184.80 h3.19 v5.30 h-3.19 z M894.44,190.10 a2.90,2.90 0 1,0 5.80,0 a2.90,2.90 0 1,0 -5.80,0 z M903.37,184.80 h3.19 v5.30 h-3.19 z M902.06,190.10 a2.90,2.90 0 1,0 5.80,0 a2.90,2.90 0 1,0 -5.80,0 z M910.99,184.80 h3.19 v5.30 h-3.19 z M909.68,190.10 a2.90,2.90 0 1,0 5.80,0 a2.90,2.90 0 1,0 -5.80,0 z M918.61,184.80 h3.19 v5.30 h-3.19 z M917.30,190.10 a2.90,2.90 0 1,0 5.80,0 a2.90,2.90 0 1,0 -5.80,0 z M926.23,184.80 h3.19 v5.30 h-3.19 z M924.92,190.10 a2.90,2.90 0 1,0 5.80,0 a2.90,2.90 0 1,0 -5.80,0 z M933.85,184.80 h3.19 v5.30 h-3.19 z M932.54,190.10 a2.90,2.90 0 1,0 5.80,0 a2.90,2.90 0 1,0 -5.80,0 z M941.47,184.80 h3.19 v5.30 h-3.19 z M940.16,190.10 a2.90,2.90 0 1,0 5.80,0 a2.90,2.90 0 1,0 -5.80,0 z M949.09,184.80 h3.19 v5.30 h-3.19 z M947.78,190.10 a2.90,2.90 0 1,0 5.80,0 a2.90,2.90 0 1,0 -5.80,0 z " fill="#fff" clip-path="url(#rc1889s)"/>
<rect x="798.6" y="200.7" width="145.5" height="10.6" fill="#000"/>
<clipPath id="rc2060s"><rect x="798.6" y="200.7" width="145.5" height="10.6"/></clipPath>
<path d="M796.68,201.90 h3.19 v5.30 h-3.19 z M795.38,207.20 a2.90,2.90 0 1,0 5.80,0 a2.90,2.90 0 1,0 -5.80,0 z M804.30,201.90 h3.19 v5.30 h-3.19 z M803.00,207.20 a2.90,2.90 0 1,0 5.80,0 a2.90,2.90 0 1,0 -5.80,0 z M811.92,201.90 h3.19 v5.30 h-3.19 z M810.62,207.20 a2.90,2.90 0 1,0 5.80,0 a2.90,2.90 0 1,0 -5.80,0 z M819.54,201.90 h3.19 v5.30 h-3.19 z M818.24,207.20 a2.90,2.90 0 1,0 5.80,0 a2.90,2.90 0 1,0 -5.80,0 z M827.16,201.90 h3.19 v5.30 h-3.19 z M825.86,207.20 a2.90,2.90 0 1,0 5.80,0 a2.90,2.90 0 1,0 -5.80,0 z M834.78,201.90 h3.19 v5.30 h-3.19 z M833.48,207.20 a2.90,2.90 0 1,0 5.80,0 a2.90,2.90 0 1,0 -5.80,0 z M842.40,201.90 h3.19 v5.30 h-3.19 z M841.10,207.20 a2.90,2.90 0 1,0 5.80,0 a2.90,2.90 0 1,0 -5.80,0 z M850.02,201.90 h3.19 v5.30 h-3.19 z M848.72,207.20 a2.90,2.90 0 1,0 5.80,0 a2.90,2.90 0 1,0 -5.80,0 z M857.64,201.90 h3.19 v5.30 h-3.19 z M856.34,207.20 a2.90,2.90 0 1,0 5.80,0 a2.90,2.90 0 1,0 -5.80,0 z M865.26,201.90 h3.19 v5.30 h-3.19 z M863.96,207.20 a2.90,2.90 0 1,0 5.80,0 a2.90,2.90 0 1,0 -5.80,0 z M872.88,201.90 h3.19 v5.30 h-3.19 z M871.58,207.20 a2.90,2.90 0 1,0 5.80,0 a2.90,2.90 0 1,0 -5.80,0 z M880.50,201.90 h3.19 v5.30 h-3.19 z M879.20,207.20 a2.90,2.90 0 1,0 5.80,0 a2.90,2.90 0 1,0 -5.80,0 z M888.12,201.90 h3.19 v5.30 h-3.19 z M886.82,207.20 a2.90,2.90 0 1,0 5.80,0 a2.90,2.90 0 1,0 -5.80,0 z M895.75,201.90 h3.19 v5.30 h-3.19 z M894.44,207.20 a2.90,2.90 0 1,0 5.80,0 a2.90,2.90 0 1,0 -5.80,0 z M903.37,201.90 h3.19 v5.30 h-3.19 z M902.06,207.20 a2.90,2.90 0 1,0 5.80,0 a2.90,2.90 0 1,0 -5.80,0 z M910.99,201.90 h3.19 v5.30 h-3.19 z M909.68,207.20 a2.90,2.90 0 1,0 5.80,0 a2.90,2.90 0 1,0 -5.80,0 z M918.61,201.90 h3.19 v5.30 h-3.19 z M917.30,207.20 a2.90,2.90 0 1,0 5.80,0 a2.90,2.90 0 1,0 -5.80,0 z M926.23,201.90 h3.19 v5.30 h-3.19 z M924.92,207.20 a2.90,2.90 0 1,0 5.80,0 a2.90,2.90 0 1,0 -5.80,0 z M933.85,201.90 h3.19 v5.30 h-3.19 z M932.54,207.20 a2.90,2.90 0 1,0 5.80,0 a2.90,2.90 0 1,0 -5.80,0 z M941.47,201.90 h3.19 v5.30 h-3.19 z M940.16,207.20 a2.90,2.90 0 1,0 5.80,0 a2.90,2.90 0 1,0 -5.80,0 z M949.09,201.90 h3.19 v5.30 h-3.19 z M947.78,207.20 a2.90,2.90 0 1,0 5.80,0 a2.90,2.90 0 1,0 -5.80,0 z " fill="#fff" clip-path="url(#rc2060s)"/>
<rect x="798.6" y="217.5" width="145.5" height="10.6" fill="#000"/>
<clipPath id="rc2228s"><rect x="798.6" y="217.5" width="145.5" height="10.6"/></clipPath>
<path d="M796.68,218.70 h3.19 v5.30 h-3.19 z M795.38,224.00 a2.90,2.90 0 1,0 5.80,0 a2.90,2.90 0 1,0 -5.80,0 z M804.30,218.70 h3.19 v5.30 h-3.19 z M803.00,224.00 a2.90,2.90 0 1,0 5.80,0 a2.90,2.90 0 1,0 -5.80,0 z M811.92,218.70 h3.19 v5.30 h-3.19 z M810.62,224.00 a2.90,2.90 0 1,0 5.80,0 a2.90,2.90 0 1,0 -5.80,0 z M819.54,218.70 h3.19 v5.30 h-3.19 z M818.24,224.00 a2.90,2.90 0 1,0 5.80,0 a2.90,2.90 0 1,0 -5.80,0 z M827.16,218.70 h3.19 v5.30 h-3.19 z M825.86,224.00 a2.90,2.90 0 1,0 5.80,0 a2.90,2.90 0 1,0 -5.80,0 z M834.78,218.70 h3.19 v5.30 h-3.19 z M833.48,224.00 a2.90,2.90 0 1,0 5.80,0 a2.90,2.90 0 1,0 -5.80,0 z M842.40,218.70 h3.19 v5.30 h-3.19 z M841.10,224.00 a2.90,2.90 0 1,0 5.80,0 a2.90,2.90 0 1,0 -5.80,0 z M850.02,218.70 h3.19 v5.30 h-3.19 z M848.72,224.00 a2.90,2.90 0 1,0 5.80,0 a2.90,2.90 0 1,0 -5.80,0 z M857.64,218.70 h3.19 v5.30 h-3.19 z M856.34,224.00 a2.90,2.90 0 1,0 5.80,0 a2.90,2.90 0 1,0 -5.80,0 z M865.26,218.70 h3.19 v5.30 h-3.19 z M863.96,224.00 a2.90,2.90 0 1,0 5.80,0 a2.90,2.90 0 1,0 -5.80,0 z M872.88,218.70 h3.19 v5.30 h-3.19 z M871.58,224.00 a2.90,2.90 0 1,0 5.80,0 a2.90,2.90 0 1,0 -5.80,0 z M880.50,218.70 h3.19 v5.30 h-3.19 z M879.20,224.00 a2.90,2.90 0 1,0 5.80,0 a2.90,2.90 0 1,0 -5.80,0 z M888.12,218.70 h3.19 v5.30 h-3.19 z M886.82,224.00 a2.90,2.90 0 1,0 5.80,0 a2.90,2.90 0 1,0 -5.80,0 z M895.75,218.70 h3.19 v5.30 h-3.19 z M894.44,224.00 a2.90,2.90 0 1,0 5.80,0 a2.90,2.90 0 1,0 -5.80,0 z M903.37,218.70 h3.19 v5.30 h-3.19 z M902.06,224.00 a2.90,2.90 0 1,0 5.80,0 a2.90,2.90 0 1,0 -5.80,0 z M910.99,218.70 h3.19 v5.30 h-3.19 z M909.68,224.00 a2.90,2.90 0 1,0 5.80,0 a2.90,2.90 0 1,0 -5.80,0 z M918.61,218.70 h3.19 v5.30 h-3.19 z M917.30,224.00 a2.90,2.90 0 1,0 5.80,0 a2.90,2.90 0 1,0 -5.80,0 z M926.23,218.70 h3.19 v5.30 h-3.19 z M924.92,224.00 a2.90,2.90 0 1,0 5.80,0 a2.90,2.90 0 1,0 -5.80,0 z M933.85,218.70 h3.19 v5.30 h-3.19 z M932.54,224.00 a2.90,2.90 0 1,0 5.80,0 a2.90,2.90 0 1,0 -5.80,0 z M941.47,218.70 h3.19 v5.30 h-3.19 z M940.16,224.00 a2.90,2.90 0 1,0 5.80,0 a2.90,2.90 0 1,0 -5.80,0 z M949.09,218.70 h3.19 v5.30 h-3.19 z M947.78,224.00 a2.90,2.90 0 1,0 5.80,0 a2.90,2.90 0 1,0 -5.80,0 z " fill="#fff" clip-path="url(#rc2228s)"/>
<rect x="799.0" y="218.0" width="2.0" height="9.6" fill="#e8262b"/>
<rect x="805.3" y="235.3" width="133.8" height="12.4" fill="none" stroke="#000" stroke-width="1.1" />
<circle cx="823.0" cy="243.0" r="4.2" fill="none" stroke="#000" stroke-width="1.3" />
<circle cx="823.0" cy="243.0" r="1.8" fill="#000" stroke="#000" stroke-width="1" />
<path d="M925,238 l0,9 M921,242.5 l8,0" stroke="#000" stroke-width="1.1" fill="none" />
<circle cx="925.0" cy="242.5" r="2.5" fill="none" stroke="#000" stroke-width="1" />
<polygon points="800.6,269.5 805.3,264.2 814.2,258.3 820.7,258.9 823.6,265.4 823.6,296.0 812.4,296.0 803.6,291.9 800.0,288.9" fill="#fff" stroke="#000" stroke-width="1.3" />
<line x1="801.5" y1="271.8" x2="809.0" y2="270.6" stroke="#000" stroke-width="2.0" />
<line x1="801.5" y1="275.2" x2="809.0" y2="274.0" stroke="#000" stroke-width="2.0" />
<line x1="801.5" y1="278.6" x2="809.0" y2="277.4" stroke="#000" stroke-width="2.0" />
<line x1="801.5" y1="282.0" x2="809.0" y2="280.8" stroke="#000" stroke-width="2.0" />
<line x1="801.5" y1="285.4" x2="809.0" y2="284.2" stroke="#000" stroke-width="2.0" />
<polygon points="813.6,259.5 818.9,259.5 818.9,281.0 813.6,281.0" fill="#fff" stroke="#000" stroke-width="1.2" />
<line x1="810.0" y1="283.0" x2="823.6" y2="283.0" stroke="#000" stroke-width="1.2" />
<line x1="810.0" y1="289.0" x2="823.6" y2="289.0" stroke="#000" stroke-width="1.2" />
<polygon points="942.2,269.5 937.5,264.2 928.6,258.3 922.1,258.9 919.2,265.4 919.2,296.0 930.4,296.0 939.2,291.9 942.8,288.9" fill="#fff" stroke="#000" stroke-width="1.3" />
<line x1="941.3" y1="271.8" x2="933.8" y2="270.6" stroke="#000" stroke-width="2.0" />
<line x1="941.3" y1="275.2" x2="933.8" y2="274.0" stroke="#000" stroke-width="2.0" />
<line x1="941.3" y1="278.6" x2="933.8" y2="277.4" stroke="#000" stroke-width="2.0" />
<line x1="941.3" y1="282.0" x2="933.8" y2="280.8" stroke="#000" stroke-width="2.0" />
<line x1="941.3" y1="285.4" x2="933.8" y2="284.2" stroke="#000" stroke-width="2.0" />
<polygon points="929.2,259.5 923.9,259.5 923.9,281.0 929.2,281.0" fill="#fff" stroke="#000" stroke-width="1.2" />
<line x1="932.8" y1="283.0" x2="919.2" y2="283.0" stroke="#000" stroke-width="1.2" />
<line x1="932.8" y1="289.0" x2="919.2" y2="289.0" stroke="#000" stroke-width="1.2" />
<g stroke="#000" fill="none" stroke-width="1.3">
<rect x="826.6" y="251.0" width="7.6" height="58.0" fill="none" stroke="#000" stroke-width="1" />
<rect x="908.5" y="251.0" width="7.7" height="58.0" fill="none" stroke="#000" stroke-width="1" />
<path d="M834.2,268.9 L872,274 L908.5,268.9 M834.2,279.5 L908.5,279.5 M834.2,286.6 L908.5,286.6" stroke="#000" stroke-width="1" fill="none" />
</g>
<line x1="824.8" y1="279.5" x2="943.9" y2="279.5" stroke="#000" stroke-width="0.8" stroke-dasharray="8,2,2,2"/>
<g stroke="#000" fill="none" stroke-width="1.4">
<path d="M809.5,251.2 L846,264.2 M813,247 l-3,10 l3,3" stroke="#000" stroke-width="1" fill="none" />
<path d="M846,248 l4,-1.5 l3,15 l-4,1.5 z M842,262 l10,-3" stroke="#000" stroke-width="1" fill="none" />
<path d="M862,240 q5,-6 10,0 l0,14 q-5,5 -10,0 z M866,239 l0,17" stroke="#000" stroke-width="1" fill="none" />
<path d="M876,243 l8,0 q3,0 3,3 l0,6 q0,3 -3,3 l-8,0 z" stroke="#000" stroke-width="1" fill="none" />
<path d="M868.4,264.2 l4.7,0 l0,8 l-4.7,0 z M870.7,262 l0,2" stroke="#000" stroke-width="1" fill="none" />
<path d="M893.2,253.6 Q880,268 877.8,289 M876,289 q4,4 8,1" stroke="#000" stroke-width="1" fill="none" />
<path d="M886,252 q3,-3 6,0 M897,249 q8,-1 20,-3 M916,245 l4,-4" stroke="#000" stroke-width="1" fill="none" />
</g>
<rect x="889.0" y="250.0" width="6.0" height="6.0" fill="#000"/>
<rect x="870.8" y="288.0" width="5.7" height="5.0" fill="#000"/>
<polygon points="826.0,309.0 835.0,309.0 832.0,311.5 832.0,315.0 835.0,317.0 826.0,317.0 829.0,315.0 829.0,311.5" fill="#e8262b" stroke="none" stroke-width="1" />
<polygon points="908.0,309.0 917.0,309.0 914.0,311.5 914.0,315.0 917.0,317.0 908.0,317.0 911.0,315.0 911.0,311.5" fill="#e8262b" stroke="none" stroke-width="1" />
<clipPath id="slps"><path d="M802.4,329 L802.4,320 Q815,316 830,316 Q845,316 860,320 Q871,322 882,320 Q897,316 912,316 Q930,316 941.5,320 L941.5,329 Z"/></clipPath>
<path d="M802.4,329 L802.4,320 Q815,316 830,316 Q845,316 860,320 Q871,322 882,320 Q897,316 912,316 Q930,316 941.5,320 L941.5,329 Z" stroke="#000" stroke-width="1.2" fill="#000" />
<path d="M795,329 l10,-14 M799,329 l10,-14 M803,329 l10,-14 M807,329 l10,-14 M811,329 l10,-14 M815,329 l10,-14 M819,329 l10,-14 M823,329 l10,-14 M827,329 l10,-14 M831,329 l10,-14 M835,329 l10,-14 M839,329 l10,-14 M843,329 l10,-14 M847,329 l10,-14 M851,329 l10,-14 M855,329 l10,-14 M859,329 l10,-14 M863,329 l10,-14 M867,329 l10,-14 M871,329 l10,-14 M875,329 l10,-14 M879,329 l10,-14 M883,329 l10,-14 M887,329 l10,-14 M891,329 l10,-14 M895,329 l10,-14 M899,329 l10,-14 M903,329 l10,-14 M907,329 l10,-14 M911,329 l10,-14 M915,329 l10,-14 M919,329 l10,-14 M923,329 l10,-14 M927,329 l10,-14 M931,329 l10,-14 M935,329 l10,-14 M939,329 l10,-14 M943,329 l10,-14 M947,329 l10,-14 M951,329 l10,-14 " stroke="#000" stroke-width="1" clip-path="url(#slps)"/>
<rect x="819.0" y="315.0" width="23.0" height="3.5" fill="#3ad83a"/>
<rect x="902.0" y="315.0" width="23.0" height="3.5" fill="#3ad83a"/>
</g>
<text x="1328.0" y="711.3" font-size="10.37" text-anchor="start" fill="#000" font-weight="bold" font-family="Liberation Sans" textLength="61.0" lengthAdjust="spacingAndGlyphs" >Платформа со</text>
<line x1="1328.0" y1="711.6" x2="1389.0" y2="711.6" stroke="#000" stroke-width="0.8" />
<text x="1328.0" y="722.3" font-size="10.37" text-anchor="start" fill="#000" font-weight="bold" font-family="Liberation Sans" textLength="63.0" lengthAdjust="spacingAndGlyphs" >стеллажом под</text>
<text x="1328.0" y="733.3" font-size="10.37" text-anchor="start" fill="#000" font-weight="bold" font-family="Liberation Sans" textLength="31.0" lengthAdjust="spacingAndGlyphs" >рельсы</text>
<polyline points="1328.0,711.6 1391.5,711.6 1391.5,781.0" stroke="#000" stroke-width="0.9" fill="none" />
<text x="1386.0" y="897.3" font-size="10.37" text-anchor="start" fill="#000" font-weight="bold" font-family="Liberation Sans" textLength="75.0" lengthAdjust="spacingAndGlyphs" >Железнодорожные</text>
<line x1="1386.0" y1="897.6" x2="1461.0" y2="897.6" stroke="#000" stroke-width="0.8" />
<text x="1386.0" y="908.3" font-size="10.37" text-anchor="start" fill="#000" font-weight="bold" font-family="Liberation Sans" textLength="20.0" lengthAdjust="spacingAndGlyphs" >пути</text>
<line x1="1386.0" y1="897.6" x2="1386.0" y2="876.0" stroke="#000" stroke-width="0.9" />
</g>
<g id="aframe">
<text x="371.5" y="529.8" font-size="10.37" text-anchor="middle" fill="#000" font-weight="bold" font-family="Liberation Sans" textLength="147.0" lengthAdjust="spacingAndGlyphs" >Погрузка Рельс на ж/д платформу</text>
<line x1="330.0" y1="563.3" x2="269.7" y2="944.3" stroke="#000" stroke-width="1.3" />
<line x1="358.9" y1="552.2" x2="280.5" y2="944.3" stroke="#000" stroke-width="1.3" />
<line x1="387.2" y1="552.2" x2="470.8" y2="944.3" stroke="#000" stroke-width="1.3" />
<line x1="415.6" y1="565.0" x2="487.5" y2="944.3" stroke="#000" stroke-width="1.3" />
<line x1="358.9" y1="552.2" x2="387.2" y2="552.2" stroke="#000" stroke-width="1.4" />
<line x1="330.0" y1="563.3" x2="358.9" y2="552.2" stroke="#000" stroke-width="1.3" />
<line x1="387.2" y1="552.2" x2="415.6" y2="565.0" stroke="#000" stroke-width="1.3" />
<polyline points="330.0,563.3 348.3,605.6 319.3,631.0" stroke="#000" stroke-width="1.3" fill="none" />
<polyline points="319.3,631.0 338.4,654.5 311.9,677.4 329.4,699.8 305.0,721.5 320.8,742.8 298.3,763.5 312.6,783.7 292.0,803.3 304.8,822.5 286.0,841.3 297.5,859.5 280.3,877.3 290.4,894.6 274.9,911.5 283.8,928.0" stroke="#000" stroke-width="1.3" fill="none" />
<polyline points="415.6,565.0 397.0,580.0 422.2,600.0 401.0,617.0" stroke="#000" stroke-width="1.3" fill="none" />
<polyline points="401.0,617.0 429.9,640.5 410.9,663.4 438.5,685.8 420.3,707.5 446.6,728.8 429.3,749.5 454.4,769.7 437.8,789.3 461.8,808.5 445.8,827.3 468.8,845.5 453.5,863.3 475.4,880.6 460.8,897.5 481.8,914.0 467.8,930.1" stroke="#000" stroke-width="1.3" fill="none" />
<rect x="369.4" y="536.7" width="7.8" height="7.7" fill="none" stroke="#000" stroke-width="1.2" />
<line x1="373.3" y1="536.7" x2="373.3" y2="552.2" stroke="#000" stroke-width="1" />
<rect x="369.4" y="548.3" width="7.8" height="3.9" fill="none" stroke="#000" stroke-width="1.2" />
<polyline points="358.9,552.2 358.9,599.4 387.2,599.4 387.2,552.2" stroke="#000" stroke-width="1.3" fill="none" />
<polyline points="358.9,552.2 373.3,585.5 387.2,552.2" stroke="#000" stroke-width="1.3" fill="none" />
<line x1="365.0" y1="556.1" x2="382.0" y2="556.1" stroke="#000" stroke-width="1.1" />
<line x1="365.0" y1="558.9" x2="382.0" y2="558.9" stroke="#000" stroke-width="1.1" />
<line x1="365.0" y1="561.7" x2="382.0" y2="561.7" stroke="#000" stroke-width="1.1" />
<line x1="365.0" y1="563.9" x2="382.0" y2="563.9" stroke="#000" stroke-width="1.1" />
<line x1="358.9" y1="586.7" x2="387.2" y2="586.7" stroke="#000" stroke-width="1.2" />
<rect x="361.7" y="599.4" width="23.3" height="35.0" fill="#fff" stroke="#000" stroke-width="1.3" />
<rect x="365.0" y="591.0" width="16.7" height="27.3" fill="#fff" stroke="#000" stroke-width="1.3" />
<line x1="367.0" y1="618.3" x2="367.0" y2="628.0" stroke="#000" stroke-width="0.8" />
<line x1="368.7" y1="618.3" x2="368.7" y2="628.0" stroke="#000" stroke-width="0.8" />
<line x1="370.4" y1="618.3" x2="370.4" y2="628.0" stroke="#000" stroke-width="0.8" />
<line x1="372.1" y1="618.3" x2="372.1" y2="628.0" stroke="#000" stroke-width="0.8" />
<line x1="373.8" y1="618.3" x2="373.8" y2="628.0" stroke="#000" stroke-width="0.8" />
<line x1="375.5" y1="618.3" x2="375.5" y2="628.0" stroke="#000" stroke-width="0.8" />
<line x1="377.2" y1="618.3" x2="377.2" y2="628.0" stroke="#000" stroke-width="0.8" />
<line x1="378.9" y1="618.3" x2="378.9" y2="628.0" stroke="#000" stroke-width="0.8" />
<line x1="361.7" y1="628.5" x2="385.0" y2="628.5" stroke="#000" stroke-width="1.1" />
<line x1="373.3" y1="585.5" x2="373.3" y2="793.0" stroke="#000" stroke-width="1.2" />
<line x1="387.2" y1="566.7" x2="387.2" y2="611.7" stroke="#000" stroke-width="1.1" />
<line x1="393.8" y1="566.7" x2="393.8" y2="611.7" stroke="#000" stroke-width="1.1" />
<line x1="387.2" y1="566.7" x2="393.8" y2="566.7" stroke="#000" stroke-width="0.9" />
<line x1="387.2" y1="571.7" x2="393.8" y2="571.7" stroke="#000" stroke-width="0.9" />
<line x1="387.2" y1="576.7" x2="393.8" y2="576.7" stroke="#000" stroke-width="0.9" />
<line x1="387.2" y1="581.7" x2="393.8" y2="581.7" stroke="#000" stroke-width="0.9" />
<line x1="387.2" y1="586.7" x2="393.8" y2="586.7" stroke="#000" stroke-width="0.9" />
<line x1="387.2" y1="591.7" x2="393.8" y2="591.7" stroke="#000" stroke-width="0.9" />
<line x1="387.2" y1="596.7" x2="393.8" y2="596.7" stroke="#000" stroke-width="0.9" />
<line x1="387.2" y1="601.7" x2="393.8" y2="601.7" stroke="#000" stroke-width="0.9" />
<line x1="387.2" y1="606.7" x2="393.8" y2="606.7" stroke="#000" stroke-width="0.9" />
<line x1="387.2" y1="611.7" x2="393.8" y2="611.7" stroke="#000" stroke-width="0.9" />
<line x1="390.5" y1="615.0" x2="430.0" y2="615.0" stroke="#000" stroke-width="1.1" />
<line x1="390.5" y1="608.5" x2="430.0" y2="608.5" stroke="#000" stroke-width="1.1" />
<line x1="390.5" y1="615.0" x2="390.5" y2="608.5" stroke="#000" stroke-width="0.9" />
<line x1="396.1" y1="615.0" x2="396.1" y2="608.5" stroke="#000" stroke-width="0.9" />
<line x1="401.8" y1="615.0" x2="401.8" y2="608.5" stroke="#000" stroke-width="0.9" />
<line x1="407.4" y1="615.0" x2="407.4" y2="608.5" stroke="#000" stroke-width="0.9" />
<line x1="413.1" y1="615.0" x2="413.1" y2="608.5" stroke="#000" stroke-width="0.9" />
<line x1="418.7" y1="615.0" x2="418.7" y2="608.5" stroke="#000" stroke-width="0.9" />
<line x1="424.4" y1="615.0" x2="424.4" y2="608.5" stroke="#000" stroke-width="0.9" />
<line x1="430.0" y1="615.0" x2="430.0" y2="608.5" stroke="#000" stroke-width="0.9" />
<line x1="427.3" y1="612.1" x2="478.3" y2="944.4" stroke="#000" stroke-width="1.1" />
<line x1="432.7" y1="611.3" x2="483.7" y2="943.6" stroke="#000" stroke-width="1.1" />
<line x1="427.3" y1="612.1" x2="432.7" y2="611.3" stroke="#000" stroke-width="0.9" />
<line x1="428.1" y1="617.3" x2="433.5" y2="616.5" stroke="#000" stroke-width="0.9" />
<line x1="428.9" y1="622.5" x2="434.3" y2="621.7" stroke="#000" stroke-width="0.9" />
<line x1="429.7" y1="627.7" x2="435.1" y2="626.9" stroke="#000" stroke-width="0.9" />
<line x1="430.5" y1="632.9" x2="435.9" y2="632.1" stroke="#000" stroke-width="0.9" />
<line x1="431.3" y1="638.1" x2="436.7" y2="637.2" stroke="#000" stroke-width="0.9" />
<line x1="432.1" y1="643.3" x2="437.5" y2="642.4" stroke="#000" stroke-width="0.9" />
<line x1="432.9" y1="648.5" x2="438.3" y2="647.6" stroke="#000" stroke-width="0.9" />
<line x1="433.7" y1="653.7" x2="439.1" y2="652.8" stroke="#000" stroke-width="0.9" />
<line x1="434.5" y1="658.8" x2="439.9" y2="658.0" stroke="#000" stroke-width="0.9" />
<line x1="435.3" y1="664.0" x2="440.7" y2="663.2" stroke="#000" stroke-width="0.9" />
<line x1="436.0" y1="669.2" x2="441.5" y2="668.4" stroke="#000" stroke-width="0.9" />
<line x1="436.8" y1="674.4" x2="442.3" y2="673.6" stroke="#000" stroke-width="0.9" />
<line x1="437.6" y1="679.6" x2="443.1" y2="678.8" stroke="#000" stroke-width="0.9" />
<line x1="438.4" y1="684.8" x2="443.9" y2="684.0" stroke="#000" stroke-width="0.9" />
<line x1="439.2" y1="690.0" x2="444.7" y2="689.2" stroke="#000" stroke-width="0.9" />
<line x1="440.0" y1="695.2" x2="445.5" y2="694.4" stroke="#000" stroke-width="0.9" />
<line x1="440.8" y1="700.4" x2="446.3" y2="699.6" stroke="#000" stroke-width="0.9" />
<line x1="441.6" y1="705.6" x2="447.1" y2="704.7" stroke="#000" stroke-width="0.9" />
<line x1="442.4" y1="710.8" x2="447.9" y2="709.9" stroke="#000" stroke-width="0.9" />
<line x1="443.2" y1="716.0" x2="448.7" y2="715.1" stroke="#000" stroke-width="0.9" />
<line x1="444.0" y1="721.2" x2="449.5" y2="720.3" stroke="#000" stroke-width="0.9" />
<line x1="444.8" y1="726.3" x2="450.2" y2="725.5" stroke="#000" stroke-width="0.9" />
<line x1="445.6" y1="731.5" x2="451.0" y2="730.7" stroke="#000" stroke-width="0.9" />
<line x1="446.4" y1="736.7" x2="451.8" y2="735.9" stroke="#000" stroke-width="0.9" />
<line x1="447.2" y1="741.9" x2="452.6" y2="741.1" stroke="#000" stroke-width="0.9" />
<line x1="448.0" y1="747.1" x2="453.4" y2="746.3" stroke="#000" stroke-width="0.9" />
<line x1="448.8" y1="752.3" x2="454.2" y2="751.5" stroke="#000" stroke-width="0.9" />
<line x1="449.6" y1="757.5" x2="455.0" y2="756.7" stroke="#000" stroke-width="0.9" />
<line x1="450.4" y1="762.7" x2="455.8" y2="761.9" stroke="#000" stroke-width="0.9" />
<line x1="451.2" y1="767.9" x2="456.6" y2="767.0" stroke="#000" stroke-width="0.9" />
<line x1="452.0" y1="773.1" x2="457.4" y2="772.2" stroke="#000" stroke-width="0.9" />
<line x1="452.8" y1="778.3" x2="458.2" y2="777.4" stroke="#000" stroke-width="0.9" />
<line x1="453.6" y1="783.5" x2="459.0" y2="782.6" stroke="#000" stroke-width="0.9" />
<line x1="454.4" y1="788.7" x2="459.8" y2="787.8" stroke="#000" stroke-width="0.9" />
<line x1="455.2" y1="793.8" x2="460.6" y2="793.0" stroke="#000" stroke-width="0.9" />
<line x1="456.0" y1="799.0" x2="461.4" y2="798.2" stroke="#000" stroke-width="0.9" />
<line x1="456.8" y1="804.2" x2="462.2" y2="803.4" stroke="#000" stroke-width="0.9" />
<line x1="457.6" y1="809.4" x2="463.0" y2="808.6" stroke="#000" stroke-width="0.9" />
<line x1="458.4" y1="814.6" x2="463.8" y2="813.8" stroke="#000" stroke-width="0.9" />
<line x1="459.2" y1="819.8" x2="464.6" y2="819.0" stroke="#000" stroke-width="0.9" />
<line x1="460.0" y1="825.0" x2="465.4" y2="824.2" stroke="#000" stroke-width="0.9" />
<line x1="460.8" y1="830.2" x2="466.2" y2="829.4" stroke="#000" stroke-width="0.9" />
<line x1="461.5" y1="835.4" x2="467.0" y2="834.5" stroke="#000" stroke-width="0.9" />
<line x1="462.3" y1="840.6" x2="467.8" y2="839.7" stroke="#000" stroke-width="0.9" />
<line x1="463.1" y1="845.8" x2="468.6" y2="844.9" stroke="#000" stroke-width="0.9" />
<line x1="463.9" y1="851.0" x2="469.4" y2="850.1" stroke="#000" stroke-width="0.9" />
<line x1="464.7" y1="856.1" x2="470.2" y2="855.3" stroke="#000" stroke-width="0.9" />
<line x1="465.5" y1="861.3" x2="471.0" y2="860.5" stroke="#000" stroke-width="0.9" />
<line x1="466.3" y1="866.5" x2="471.8" y2="865.7" stroke="#000" stroke-width="0.9" />
<line x1="467.1" y1="871.7" x2="472.6" y2="870.9" stroke="#000" stroke-width="0.9" />
<line x1="467.9" y1="876.9" x2="473.4" y2="876.1" stroke="#000" stroke-width="0.9" />
<line x1="468.7" y1="882.1" x2="474.2" y2="881.3" stroke="#000" stroke-width="0.9" />
<line x1="469.5" y1="887.3" x2="475.0" y2="886.5" stroke="#000" stroke-width="0.9" />
<line x1="470.3" y1="892.5" x2="475.7" y2="891.7" stroke="#000" stroke-width="0.9" />
<line x1="471.1" y1="897.7" x2="476.5" y2="896.9" stroke="#000" stroke-width="0.9" />
<line x1="471.9" y1="902.9" x2="477.3" y2="902.0" stroke="#000" stroke-width="0.9" />
<line x1="472.7" y1="908.1" x2="478.1" y2="907.2" stroke="#000" stroke-width="0.9" />
<line x1="473.5" y1="913.3" x2="478.9" y2="912.4" stroke="#000" stroke-width="0.9" />
<line x1="474.3" y1="918.5" x2="479.7" y2="917.6" stroke="#000" stroke-width="0.9" />
<line x1="475.1" y1="923.6" x2="480.5" y2="922.8" stroke="#000" stroke-width="0.9" />
<line x1="475.9" y1="928.8" x2="481.3" y2="928.0" stroke="#000" stroke-width="0.9" />
<line x1="476.7" y1="934.0" x2="482.1" y2="933.2" stroke="#000" stroke-width="0.9" />
<line x1="477.5" y1="939.2" x2="482.9" y2="938.4" stroke="#000" stroke-width="0.9" />
<line x1="478.3" y1="944.4" x2="483.7" y2="943.6" stroke="#000" stroke-width="0.9" />
<path d="M373.3,793 Q379,793 378.5,798 Q377.5,803 372,802.5 Q368.5,801.5 369,798" stroke="#000" stroke-width="1.3" fill="none" />
<line x1="373.0" y1="803.0" x2="340.7" y2="834.5" stroke="#000" stroke-width="2.4" />
<line x1="341.6" y1="835.4" x2="296.9" y2="878.9" stroke="#000" stroke-width="0.9" />
<line x1="339.8" y1="833.6" x2="295.1" y2="877.1" stroke="#000" stroke-width="0.9" />
<ellipse cx="303.7" cy="870.5" rx="4.5" ry="2.6" transform="rotate(135.8 303.7 870.5)" fill="#fff" stroke="#000" stroke-width="1.1"/>
<line x1="373.0" y1="803.0" x2="404.1" y2="834.5" stroke="#000" stroke-width="2.4" />
<line x1="405.0" y1="833.6" x2="447.9" y2="877.1" stroke="#000" stroke-width="0.9" />
<line x1="403.2" y1="835.4" x2="446.1" y2="878.9" stroke="#000" stroke-width="0.9" />
<ellipse cx="439.6" cy="870.5" rx="4.5" ry="2.6" transform="rotate(45.4 439.6 870.5)" fill="#fff" stroke="#000" stroke-width="1.1"/>
<path d="M356.2,819.8 A23.7,23.7 0 0 0 389.8,819.8" stroke="#000" stroke-width="1.1" fill="none" />
<line x1="350.0" y1="819.0" x2="359.0" y2="819.0" stroke="#000" stroke-width="0.9" />
<line x1="391.0" y1="814.0" x2="391.0" y2="823.0" stroke="#000" stroke-width="0.9" />
<text x="364.5" y="824.3" font-size="9.15" text-anchor="start" fill="#000" font-weight="bold" font-family="Liberation Sans" textLength="17.0" lengthAdjust="spacingAndGlyphs" >≤90°</text>
<text x="240.0" y="774.3" font-size="10.37" text-anchor="start" fill="#000" font-weight="bold" font-family="Liberation Sans" textLength="19.0" lengthAdjust="spacingAndGlyphs" >Кран</text>
<text x="240.0" y="785.3" font-size="10.37" text-anchor="start" fill="#000" font-weight="bold" font-family="Liberation Sans" textLength="38.0" lengthAdjust="spacingAndGlyphs" >Козловой</text>
<line x1="240.0" y1="785.6" x2="278.0" y2="785.6" stroke="#000" stroke-width="0.8" />
<line x1="240.0" y1="775.0" x2="277.0" y2="775.0" stroke="#000" stroke-width="0.9" />
<line x1="277.0" y1="775.0" x2="297.0" y2="765.0" stroke="#000" stroke-width="0.9" />
<text x="396.7" y="799.3" font-size="10.37" text-anchor="start" fill="#000" font-weight="bold" font-family="Liberation Sans" textLength="24.0" lengthAdjust="spacingAndGlyphs" >Строп</text>
<line x1="396.7" y1="799.6" x2="440.7" y2="799.6" stroke="#000" stroke-width="0.8" />
<text x="396.7" y="810.8" font-size="10.37" text-anchor="start" fill="#000" font-weight="bold" font-family="Liberation Sans" textLength="55.0" lengthAdjust="spacingAndGlyphs" >УСК2-7,0/6,0</text>
<line x1="396.7" y1="799.6" x2="387.0" y2="807.0" stroke="#000" stroke-width="0.9" />
<rect x="213.0" y="877.8" width="320.7" height="4.8" fill="#000"/>
<line x1="213.0" y1="880.2" x2="533.7" y2="880.2" stroke="#fff" stroke-width="0.6" />
<text x="240.5" y="864.3" font-size="10.37" text-anchor="start" fill="#000" font-weight="bold" font-family="Liberation Sans" textLength="24.0" lengthAdjust="spacingAndGlyphs" >Рельс</text>
<line x1="240.5" y1="864.6" x2="264.5" y2="864.6" stroke="#000" stroke-width="0.8" />
<polyline points="264.5,864.6 265.0,877.8" stroke="#000" stroke-width="0.9" fill="none" />
<line x1="213.0" y1="900.7" x2="533.7" y2="900.7" stroke="#000" stroke-width="0.9" />
<path d="M210.5,903.2 l5,-5 M531.2,903.2 l5,-5" stroke="#000" stroke-width="1.1" fill="none" />
<text x="362.0" y="899.3" font-size="10.37" text-anchor="start" fill="#000" font-weight="bold" font-family="Liberation Sans" textLength="23.0" lengthAdjust="spacingAndGlyphs" >12500</text>
<rect x="213.3" y="944.3" width="320.4" height="2.9" fill="#000"/>
<rect x="213.3" y="949.8" width="320.4" height="2.9" fill="#000"/>
<rect x="213.3" y="955.2" width="320.4" height="2.9" fill="#000"/>
<rect x="213.3" y="960.6" width="320.4" height="2.9" fill="#000"/>
<rect x="213.3" y="966.1" width="320.4" height="2.9" fill="#000"/>
<rect x="213.3" y="971.5" width="320.4" height="2.9" fill="#000"/>
<rect x="213.3" y="977.0" width="320.4" height="2.9" fill="#000"/>
<rect x="213.3" y="982.4" width="320.4" height="2.9" fill="#000"/>
<rect x="244.7" y="940.3" width="7.6" height="46.1" fill="#fff" stroke="#000" stroke-width="1.2" />
<rect x="369.8" y="940.3" width="7.5" height="46.1" fill="#fff" stroke="#000" stroke-width="1.2" />
<rect x="494.4" y="940.3" width="7.4" height="46.1" fill="#fff" stroke="#000" stroke-width="1.2" />
<rect x="98.3" y="901.7" width="53.2" height="84.7" fill="#fff" stroke="#000" stroke-width="1.3" />
<line x1="109.3" y1="901.7" x2="109.3" y2="986.4" stroke="#000" stroke-width="1.2" />
<line x1="112.7" y1="901.7" x2="112.7" y2="986.4" stroke="#000" stroke-width="1.2" />
<line x1="145.0" y1="901.7" x2="145.0" y2="986.4" stroke="#000" stroke-width="1.2" />
<rect x="113.4" y="932.2" width="30.2" height="2.6" rx="1.3" fill="#fff" stroke="#000" stroke-width="1"/>
<rect x="99.5" y="932.2" width="9" height="2.6" rx="1.3" fill="#fff" stroke="#000" stroke-width="1"/>
<rect x="113.4" y="941.2" width="30.2" height="2.6" rx="1.3" fill="#fff" stroke="#000" stroke-width="1"/>
<rect x="99.5" y="941.2" width="9" height="2.6" rx="1.3" fill="#fff" stroke="#000" stroke-width="1"/>
<rect x="113.4" y="950.1" width="30.2" height="2.6" rx="1.3" fill="#fff" stroke="#000" stroke-width="1"/>
<rect x="99.5" y="950.1" width="9" height="2.6" rx="1.3" fill="#fff" stroke="#000" stroke-width="1"/>
<rect x="113.4" y="959.1" width="30.2" height="2.6" rx="1.3" fill="#fff" stroke="#000" stroke-width="1"/>
<rect x="99.5" y="959.1" width="9" height="2.6" rx="1.3" fill="#fff" stroke="#000" stroke-width="1"/>
<rect x="113.4" y="968.0" width="30.2" height="2.6" rx="1.3" fill="#fff" stroke="#000" stroke-width="1"/>
<rect x="99.5" y="968.0" width="9" height="2.6" rx="1.3" fill="#fff" stroke="#000" stroke-width="1"/>
<rect x="113.4" y="976.9" width="30.2" height="2.6" rx="1.3" fill="#fff" stroke="#000" stroke-width="1"/>
<rect x="99.5" y="976.9" width="9" height="2.6" rx="1.3" fill="#fff" stroke="#000" stroke-width="1"/>
<rect x="113.4" y="923.3" width="30.2" height="2.6" rx="1.3" fill="#fff" stroke="#000" stroke-width="1"/>
<rect x="99.5" y="923.3" width="9" height="2.6" rx="1.3" fill="#fff" stroke="#000" stroke-width="1"/>
<rect x="113.4" y="914.4" width="30.2" height="2.6" rx="1.3" fill="#fff" stroke="#000" stroke-width="1"/>
<rect x="99.5" y="914.4" width="9" height="2.6" rx="1.3" fill="#fff" stroke="#000" stroke-width="1"/>
<rect x="113.4" y="905.5" width="30.2" height="2.6" rx="1.3" fill="#fff" stroke="#000" stroke-width="1"/>
<rect x="99.5" y="905.5" width="9" height="2.6" rx="1.3" fill="#fff" stroke="#000" stroke-width="1"/>
<rect x="98.0" y="986.4" width="550.7" height="2.2" fill="#000"/>
<rect x="98.0" y="988.6" width="550.7" height="4.7" fill="#fff" stroke="#000" stroke-width="1.2" />
<rect x="130.0" y="989.5" width="35.0" height="3.0" fill="#000"/>
<rect x="305.0" y="989.5" width="45.0" height="3.0" fill="#000"/>
<rect x="560.0" y="989.5" width="40.0" height="3.0" fill="#000"/>
<rect x="98.0" y="995.0" width="550.7" height="3.8" fill="#000"/>
<line x1="98.0" y1="997.0" x2="648.7" y2="997.0" stroke="#fff" stroke-width="0.6" />
<line x1="300.0" y1="1002.0" x2="560.0" y2="1002.0" stroke="#000" stroke-width="2.2" />
<rect x="372.0" y="995.0" width="10.0" height="10.0" fill="#fff" stroke="#000" stroke-width="1.6" />
<line x1="377.0" y1="993.0" x2="377.0" y2="1007.0" stroke="#000" stroke-width="1.5" />
<path d="M395,998 l4,-3 l4,3 l0,6 q-4,5 -8,0 z" stroke="#000" stroke-width="1.4" fill="#fff" />
<rect x="340.0" y="999.0" width="12.0" height="4.0" fill="#000"/>
<rect x="412.0" y="999.0" width="8.0" height="4.0" fill="#000"/>
<rect x="440.0" y="998.0" width="3.0" height="7.0" fill="#000"/>
<rect x="500.0" y="999.0" width="8.0" height="4.0" fill="#000"/>
<rect x="455.0" y="996.0" width="75.0" height="4.0" fill="#000"/>
<path d="M470,1000 l8,4 l0,10 l-8,0 z M515,1000 l-8,4 l0,10 l8,0 z" stroke="#000" stroke-width="1.4" fill="#fff" />
<rect x="244.0" y="998.8" width="20.0" height="4.2" fill="#000"/>
<rect x="160.0" y="989.0" width="24.0" height="10.0" fill="#000"/>
<rect x="163.0" y="990.5" width="18.0" height="2.5" fill="#fff"/>
<circle cx="168.0" cy="994.0" r="4.0" fill="#fff" stroke="#000" stroke-width="1.5" />
<path d="M163,999 q-6,8 -2,19 M180,999 q-6,8 -2,19" stroke="#000" stroke-width="2.6" fill="none" />
<rect x="159.0" y="1016.0" width="5.0" height="4.0" fill="#000"/>
<rect x="176.0" y="1016.0" width="5.0" height="4.0" fill="#000"/>
<rect x="591.0" y="989.0" width="24.0" height="10.0" fill="#000"/>
<rect x="594.0" y="990.5" width="18.0" height="2.5" fill="#fff"/>
<circle cx="599.0" cy="994.0" r="4.0" fill="#fff" stroke="#000" stroke-width="1.5" />
<path d="M594,999 q-6,8 -2,19 M611,999 q-6,8 -2,19" stroke="#000" stroke-width="2.6" fill="none" />
<rect x="590.0" y="1016.0" width="5.0" height="4.0" fill="#000"/>
<rect x="607.0" y="1016.0" width="5.0" height="4.0" fill="#000"/>
<circle cx="116.8" cy="1011.1" r="15.8" fill="#fff" stroke="#000" stroke-width="2.2" />
<circle cx="116.8" cy="1011.1" r="11.8" fill="none" stroke="#000" stroke-width="0.8" />
<line x1="98.0" y1="1011.1" x2="135.6" y2="1011.1" stroke="#000" stroke-width="0.9" />
<line x1="116.8" y1="995.3" x2="116.8" y2="1026.9" stroke="#000" stroke-width="0.9" />
<rect x="113.3" y="1007.6" width="7.0" height="7.0" fill="#fff" stroke="#000" stroke-width="1.6" />
<line x1="113.3" y1="1011.1" x2="120.3" y2="1011.1" stroke="#000" stroke-width="1" />
<line x1="116.8" y1="1007.6" x2="116.8" y2="1014.6" stroke="#000" stroke-width="1" />
<circle cx="226.2" cy="1011.1" r="15.8" fill="#fff" stroke="#000" stroke-width="2.2" />
<circle cx="226.2" cy="1011.1" r="11.8" fill="none" stroke="#000" stroke-width="0.8" />
<line x1="207.4" y1="1011.1" x2="245.0" y2="1011.1" stroke="#000" stroke-width="0.9" />
<line x1="226.2" y1="995.3" x2="226.2" y2="1026.9" stroke="#000" stroke-width="0.9" />
<rect x="222.7" y="1007.6" width="7.0" height="7.0" fill="#fff" stroke="#000" stroke-width="1.6" />
<line x1="222.7" y1="1011.1" x2="229.7" y2="1011.1" stroke="#000" stroke-width="1" />
<line x1="226.2" y1="1007.6" x2="226.2" y2="1014.6" stroke="#000" stroke-width="1" />
<circle cx="282.5" cy="1011.1" r="15.8" fill="#fff" stroke="#000" stroke-width="2.2" />
<circle cx="282.5" cy="1011.1" r="11.8" fill="none" stroke="#000" stroke-width="0.8" />
<line x1="263.7" y1="1011.1" x2="301.3" y2="1011.1" stroke="#000" stroke-width="0.9" />
<line x1="282.5" y1="995.3" x2="282.5" y2="1026.9" stroke="#000" stroke-width="0.9" />
<rect x="279.0" y="1007.6" width="7.0" height="7.0" fill="#fff" stroke="#000" stroke-width="1.6" />
<line x1="279.0" y1="1011.1" x2="286.0" y2="1011.1" stroke="#000" stroke-width="1" />
<line x1="282.5" y1="1007.6" x2="282.5" y2="1014.6" stroke="#000" stroke-width="1" />
<circle cx="463.5" cy="1011.1" r="15.8" fill="#fff" stroke="#000" stroke-width="2.2" />
<circle cx="463.5" cy="1011.1" r="11.8" fill="none" stroke="#000" stroke-width="0.8" />
<line x1="444.7" y1="1011.1" x2="482.3" y2="1011.1" stroke="#000" stroke-width="0.9" />
<line x1="463.5" y1="995.3" x2="463.5" y2="1026.9" stroke="#000" stroke-width="0.9" />
<rect x="460.0" y="1007.6" width="7.0" height="7.0" fill="#fff" stroke="#000" stroke-width="1.6" />
<line x1="460.0" y1="1011.1" x2="467.0" y2="1011.1" stroke="#000" stroke-width="1" />
<line x1="463.5" y1="1007.6" x2="463.5" y2="1014.6" stroke="#000" stroke-width="1" />
<circle cx="521.0" cy="1011.1" r="15.8" fill="#fff" stroke="#000" stroke-width="2.2" />
<circle cx="521.0" cy="1011.1" r="11.8" fill="none" stroke="#000" stroke-width="0.8" />
<line x1="502.2" y1="1011.1" x2="539.8" y2="1011.1" stroke="#000" stroke-width="0.9" />
<line x1="521.0" y1="995.3" x2="521.0" y2="1026.9" stroke="#000" stroke-width="0.9" />
<rect x="517.5" y="1007.6" width="7.0" height="7.0" fill="#fff" stroke="#000" stroke-width="1.6" />
<line x1="517.5" y1="1011.1" x2="524.5" y2="1011.1" stroke="#000" stroke-width="1" />
<line x1="521.0" y1="1007.6" x2="521.0" y2="1014.6" stroke="#000" stroke-width="1" />
<circle cx="629.5" cy="1011.1" r="15.8" fill="#fff" stroke="#000" stroke-width="2.2" />
<circle cx="629.5" cy="1011.1" r="11.8" fill="none" stroke="#000" stroke-width="0.8" />
<line x1="610.7" y1="1011.1" x2="648.3" y2="1011.1" stroke="#000" stroke-width="0.9" />
<line x1="629.5" y1="995.3" x2="629.5" y2="1026.9" stroke="#000" stroke-width="0.9" />
<rect x="626.0" y="1007.6" width="7.0" height="7.0" fill="#fff" stroke="#000" stroke-width="1.6" />
<line x1="626.0" y1="1011.1" x2="633.0" y2="1011.1" stroke="#000" stroke-width="1" />
<line x1="629.5" y1="1007.6" x2="629.5" y2="1014.6" stroke="#000" stroke-width="1" />
<rect x="242.7" y="1003.0" width="23.3" height="13.6" fill="#000"/>
<rect x="479.0" y="1003.0" width="26.0" height="13.6" fill="#000"/>
<rect x="232.0" y="998.8" width="44.0" height="4.2" fill="#fff" stroke="#000" stroke-width="1.2" />
<rect x="470.0" y="998.8" width="44.0" height="4.2" fill="#fff" stroke="#000" stroke-width="1.2" />
<rect x="98.0" y="1025.6" width="550.7" height="2.6" fill="#000"/>
<rect x="98.0" y="1030.6" width="550.7" height="6.7" fill="#000"/>
<rect x="108.6" y="1032.2" width="2.8" height="3.4" fill="#fff"/>
<rect x="121.0" y="1032.2" width="2.8" height="3.4" fill="#fff"/>
<rect x="133.4" y="1032.2" width="2.8" height="3.4" fill="#fff"/>
<rect x="145.8" y="1032.2" width="2.8" height="3.4" fill="#fff"/>
<rect x="158.2" y="1032.2" width="2.8" height="3.4" fill="#fff"/>
<rect x="170.6" y="1032.2" width="2.8" height="3.4" fill="#fff"/>
<rect x="183.0" y="1032.2" width="2.8" height="3.4" fill="#fff"/>
<rect x="195.4" y="1032.2" width="2.8" height="3.4" fill="#fff"/>
<rect x="207.8" y="1032.2" width="2.8" height="3.4" fill="#fff"/>
<rect x="220.2" y="1032.2" width="2.8" height="3.4" fill="#fff"/>
<rect x="232.6" y="1032.2" width="2.8" height="3.4" fill="#fff"/>
<rect x="245.0" y="1032.2" width="2.8" height="3.4" fill="#fff"/>
<rect x="257.4" y="1032.2" width="2.8" height="3.4" fill="#fff"/>
<rect x="269.8" y="1032.2" width="2.8" height="3.4" fill="#fff"/>
<rect x="282.2" y="1032.2" width="2.8" height="3.4" fill="#fff"/>
<rect x="294.6" y="1032.2" width="2.8" height="3.4" fill="#fff"/>
<rect x="307.0" y="1032.2" width="2.8" height="3.4" fill="#fff"/>
<rect x="319.4" y="1032.2" width="2.8" height="3.4" fill="#fff"/>
<rect x="331.8" y="1032.2" width="2.8" height="3.4" fill="#fff"/>
<rect x="344.2" y="1032.2" width="2.8" height="3.4" fill="#fff"/>
<rect x="356.6" y="1032.2" width="2.8" height="3.4" fill="#fff"/>
<rect x="369.0" y="1032.2" width="2.8" height="3.4" fill="#fff"/>
<rect x="381.4" y="1032.2" width="2.8" height="3.4" fill="#fff"/>
<rect x="393.8" y="1032.2" width="2.8" height="3.4" fill="#fff"/>
<rect x="406.2" y="1032.2" width="2.8" height="3.4" fill="#fff"/>
<rect x="418.6" y="1032.2" width="2.8" height="3.4" fill="#fff"/>
<rect x="431.0" y="1032.2" width="2.8" height="3.4" fill="#fff"/>
<rect x="443.4" y="1032.2" width="2.8" height="3.4" fill="#fff"/>
<rect x="455.8" y="1032.2" width="2.8" height="3.4" fill="#fff"/>
<rect x="468.2" y="1032.2" width="2.8" height="3.4" fill="#fff"/>
<rect x="480.6" y="1032.2" width="2.8" height="3.4" fill="#fff"/>
<rect x="493.0" y="1032.2" width="2.8" height="3.4" fill="#fff"/>
<rect x="505.4" y="1032.2" width="2.8" height="3.4" fill="#fff"/>
<rect x="517.8" y="1032.2" width="2.8" height="3.4" fill="#fff"/>
<rect x="530.2" y="1032.2" width="2.8" height="3.4" fill="#fff"/>
<rect x="542.6" y="1032.2" width="2.8" height="3.4" fill="#fff"/>
<rect x="555.0" y="1032.2" width="2.8" height="3.4" fill="#fff"/>
<rect x="567.4" y="1032.2" width="2.8" height="3.4" fill="#fff"/>
<rect x="579.8" y="1032.2" width="2.8" height="3.4" fill="#fff"/>
<rect x="592.2" y="1032.2" width="2.8" height="3.4" fill="#fff"/>
<rect x="604.6" y="1032.2" width="2.8" height="3.4" fill="#fff"/>
<rect x="617.0" y="1032.2" width="2.8" height="3.4" fill="#fff"/>
<rect x="629.4" y="1032.2" width="2.8" height="3.4" fill="#fff"/>
<rect x="641.8" y="1032.2" width="2.8" height="3.4" fill="#fff"/>
<g transform="translate(196,986) scale(1.0,1.0)">
<path d="M-2,-40 a4,4 0 1,1 6,0 l1,2 l-8,0 z" fill="#000"/>
<path d="M-4,-36 l8,0 l1,8 l8,-5 l2,2 l-9,8 l0,8 l2,3 l-14,0 l1,-4 l-1,-9 l-3,-2 z" fill="#fff" stroke="#000" stroke-width="1.1"/>
<path d="M-5,-20 l10,0 l1,6 l-12,0 z" fill="#000"/>
<path d="M-4,-14 l0,14 m3,-14 l0,14 m2,-14 l0,14 m3,-14 l0,14" stroke="#000" stroke-width="1.1"/>
<path d="M8,-31 l5,-4 l3,2 l-4,5 z" fill="#000"/>
<path d="M-6,-34 l-2,8 l2,4" stroke="#000" fill="none" stroke-width="1"/>
</g>
<g transform="translate(551,986) scale(-1.0,1.0)">
<path d="M-2,-40 a4,4 0 1,1 6,0 l1,2 l-8,0 z" fill="#000"/>
<path d="M-4,-36 l8,0 l1,8 l8,-5 l2,2 l-9,8 l0,8 l2,3 l-14,0 l1,-4 l-1,-9 l-3,-2 z" fill="#fff" stroke="#000" stroke-width="1.1"/>
<path d="M-5,-20 l10,0 l1,6 l-12,0 z" fill="#000"/>
<path d="M-4,-14 l0,14 m3,-14 l0,14 m2,-14 l0,14 m3,-14 l0,14" stroke="#000" stroke-width="1.1"/>
<path d="M8,-31 l5,-4 l3,2 l-4,5 z" fill="#000"/>
<path d="M-6,-34 l-2,8 l2,4" stroke="#000" fill="none" stroke-width="1"/>
</g>
<path d="M238.8,879.5 Q236,910 209,942" stroke="#000" stroke-width="1.1" fill="none" />
<path d="M508.2,879.5 Q514,905 537,944" stroke="#000" stroke-width="1.1" fill="none" />
<text x="113.0" y="882.3" font-size="10.37" text-anchor="start" fill="#000" font-weight="bold" font-family="Liberation Sans" textLength="55.0" lengthAdjust="spacingAndGlyphs" >Грузовой ж/д</text>
<line x1="113.0" y1="882.6" x2="168.0" y2="882.6" stroke="#000" stroke-width="0.8" />
<text x="113.0" y="893.8" font-size="10.37" text-anchor="start" fill="#000" font-weight="bold" font-family="Liberation Sans" textLength="25.0" lengthAdjust="spacingAndGlyphs" >вагон</text>
<line x1="113.0" y1="882.6" x2="113.0" y2="902.0" stroke="#000" stroke-width="0.9" />
<text x="164.3" y="893.3" font-size="10.37" text-anchor="start" fill="#000" font-weight="bold" font-family="Liberation Sans" textLength="37.0" lengthAdjust="spacingAndGlyphs" >Оттяжка</text>
<line x1="164.3" y1="893.6" x2="231.3" y2="893.6" stroke="#000" stroke-width="0.8" />
<text x="194.0" y="917.8" font-size="10.37" text-anchor="start" fill="#000" font-weight="bold" font-family="Liberation Sans" textLength="53.0" lengthAdjust="spacingAndGlyphs" >Стеллаж для</text>
<line x1="194.0" y1="918.1" x2="247.0" y2="918.1" stroke="#000" stroke-width="0.8" />
<text x="194.0" y="928.3" font-size="10.37" text-anchor="start" fill="#000" font-weight="bold" font-family="Liberation Sans" textLength="24.0" lengthAdjust="spacingAndGlyphs" >рельс</text>
<text x="149.0" y="929.8" font-size="10.37" text-anchor="start" fill="#000" font-weight="bold" font-family="Liberation Sans" textLength="42.0" lengthAdjust="spacingAndGlyphs" >Рабочий с</text>
<line x1="149.0" y1="930.1" x2="191.0" y2="930.1" stroke="#000" stroke-width="0.8" />
<text x="149.0" y="940.3" font-size="10.37" text-anchor="start" fill="#000" font-weight="bold" font-family="Liberation Sans" textLength="40.0" lengthAdjust="spacingAndGlyphs" >оттяжкой</text>
<line x1="248.5" y1="918.0" x2="248.5" y2="940.0" stroke="#000" stroke-width="0.9" />
<text x="307.0" y="932.3" font-size="10.37" text-anchor="start" fill="#000" font-weight="bold" font-family="Liberation Sans" textLength="24.0" lengthAdjust="spacingAndGlyphs" >Рельс</text>
<line x1="307.0" y1="932.6" x2="331.0" y2="932.6" stroke="#000" stroke-width="0.8" />
<line x1="331.0" y1="932.6" x2="331.0" y2="944.0" stroke="#000" stroke-width="0.9" />
<text x="374.0" y="917.8" font-size="10.37" text-anchor="start" fill="#000" font-weight="bold" font-family="Liberation Sans" textLength="53.0" lengthAdjust="spacingAndGlyphs" >Стеллаж для</text>
<line x1="374.0" y1="918.1" x2="427.0" y2="918.1" stroke="#000" stroke-width="0.8" />
<text x="374.0" y="928.3" font-size="10.37" text-anchor="start" fill="#000" font-weight="bold" font-family="Liberation Sans" textLength="24.0" lengthAdjust="spacingAndGlyphs" >рельс</text>
<line x1="373.5" y1="918.0" x2="373.5" y2="940.0" stroke="#000" stroke-width="0.9" />
<text x="498.6" y="917.8" font-size="10.37" text-anchor="start" fill="#000" font-weight="bold" font-family="Liberation Sans" textLength="53.0" lengthAdjust="spacingAndGlyphs" >Стеллаж для</text>
<line x1="498.6" y1="918.1" x2="551.6" y2="918.1" stroke="#000" stroke-width="0.8" />
<text x="498.6" y="928.3" font-size="10.37" text-anchor="start" fill="#000" font-weight="bold" font-family="Liberation Sans" textLength="24.0" lengthAdjust="spacingAndGlyphs" >рельс</text>
<line x1="498.0" y1="918.0" x2="498.0" y2="940.0" stroke="#000" stroke-width="0.9" />
<text x="524.8" y="895.3" font-size="10.37" text-anchor="start" fill="#000" font-weight="bold" font-family="Liberation Sans" textLength="37.0" lengthAdjust="spacingAndGlyphs" >Оттяжка</text>
<line x1="524.8" y1="895.6" x2="561.8" y2="895.6" stroke="#000" stroke-width="0.8" />
<line x1="524.8" y1="895.6" x2="510.0" y2="910.0" stroke="#000" stroke-width="0.9" />
<text x="554.0" y="920.8" font-size="10.37" text-anchor="start" fill="#000" font-weight="bold" font-family="Liberation Sans" textLength="42.0" lengthAdjust="spacingAndGlyphs" >Рабочий с</text>
<line x1="554.0" y1="921.1" x2="596.0" y2="921.1" stroke="#000" stroke-width="0.8" />
<text x="554.0" y="931.3" font-size="10.37" text-anchor="start" fill="#000" font-weight="bold" font-family="Liberation Sans" textLength="40.0" lengthAdjust="spacingAndGlyphs" >оттяжкой</text>
<line x1="553.7" y1="921.0" x2="553.7" y2="944.0" stroke="#000" stroke-width="0.9" />
<text x="594.4" y="975.3" font-size="10.37" text-anchor="start" fill="#000" font-weight="bold" font-family="Liberation Sans" textLength="45.0" lengthAdjust="spacingAndGlyphs" >Платформа</text>
<line x1="594.4" y1="975.6" x2="639.4" y2="975.6" stroke="#000" stroke-width="0.8" />
<line x1="643.0" y1="975.6" x2="643.0" y2="988.0" stroke="#000" stroke-width="0.9" />
<text x="590.0" y="1045.8" font-size="10.37" text-anchor="start" fill="#000" font-weight="bold" font-family="Liberation Sans" textLength="55.0" lengthAdjust="spacingAndGlyphs" >Ж/Д полотно</text>
<line x1="590.0" y1="1046.1" x2="645.0" y2="1046.1" stroke="#000" stroke-width="0.8" />
<line x1="87.7" y1="881.5" x2="87.7" y2="1037.0" stroke="#000" stroke-width="0.9" />
<line x1="85.0" y1="881.5" x2="113.0" y2="881.5" stroke="#000" stroke-width="0.8" />
<line x1="85.0" y1="1037.0" x2="98.0" y2="1037.0" stroke="#000" stroke-width="0.8" />
<path d="M85.2,884 l5,-5 M85.2,1039.5 l5,-5" stroke="#000" stroke-width="1.1" fill="none" />
<text x="91.0" y="980.0" font-size="10.37" text-anchor="start" fill="#000" font-weight="bold" font-family="Liberation Sans" textLength="19.0" lengthAdjust="spacingAndGlyphs" transform="rotate(-90 91.0 980.0)" >6000</text>
<g stroke="#e8262b" fill="none" stroke-width="1.4">
<line x1="212.2" y1="878.0" x2="150.5" y2="1037.0" stroke="#e8262b" stroke-width="1.4" />
<line x1="212.2" y1="878.0" x2="212.2" y2="1060.0" stroke="#e8262b" stroke-width="1.4" />
<line x1="150.5" y1="1030.0" x2="150.5" y2="1060.0" stroke="#e8262b" stroke-width="1.4" />
<line x1="147.0" y1="1057.2" x2="215.5" y2="1057.2" stroke="#e8262b" stroke-width="1.1" />
<line x1="533.7" y1="878.0" x2="595.5" y2="1037.0" stroke="#e8262b" stroke-width="1.4" />
<line x1="533.7" y1="878.0" x2="533.7" y2="1060.0" stroke="#e8262b" stroke-width="1.4" />
<line x1="595.5" y1="1030.0" x2="595.5" y2="1060.0" stroke="#e8262b" stroke-width="1.4" />
<line x1="530.0" y1="1057.2" x2="599.0" y2="1057.2" stroke="#e8262b" stroke-width="1.1" />
<path d="M148,1060 l5,-5 M209.7,1060 l5,-5 M531.2,1060 l5,-5 M593,1060 l5,-5" stroke="#e8262b" stroke-width="1.3" fill="none" />
</g>
<polygon points="150.5,1030.0 150.5,1017.5 163.5,1024.2" fill="#e8262b" stroke="none" stroke-width="1" />
<polygon points="594.7,1032.0 595.8,1017.0 608.0,1023.5" fill="#e8262b" stroke="none" stroke-width="1" />
<text x="181.5" y="1055.3" font-size="10.37" text-anchor="middle" fill="#e8262b" font-weight="bold" font-family="Liberation Sans" textLength="20.0" lengthAdjust="spacingAndGlyphs" >2400</text>
<text x="564.5" y="1055.3" font-size="10.37" text-anchor="middle" fill="#e8262b" font-weight="bold" font-family="Liberation Sans" textLength="20.0" lengthAdjust="spacingAndGlyphs" >2400</text>
<text x="160.0" y="538.3" font-size="10.37" text-anchor="middle" fill="#000" font-weight="bold" font-family="Liberation Sans" textLength="88.0" lengthAdjust="spacingAndGlyphs" >Складирования Рельс</text>
<rect x="82.2" y="563.2" width="155.7" height="17.1" fill="#000"/>
<line x1="85.0" y1="566.7" x2="235.0" y2="566.7" stroke="#fff" stroke-width="0.8" stroke-dasharray="4,4"/>
<line x1="85.0" y1="576.8" x2="235.0" y2="576.8" stroke="#fff" stroke-width="0.8" stroke-dasharray="4,4"/>
<rect x="82.2" y="597.0" width="155.7" height="17.0" fill="#000"/>
<line x1="85.0" y1="600.5" x2="235.0" y2="600.5" stroke="#fff" stroke-width="0.8" stroke-dasharray="4,4"/>
<line x1="85.0" y1="610.5" x2="235.0" y2="610.5" stroke="#fff" stroke-width="0.8" stroke-dasharray="4,4"/>
<rect x="82.2" y="631.0" width="155.7" height="16.7" fill="#000"/>
<line x1="85.0" y1="634.5" x2="235.0" y2="634.5" stroke="#fff" stroke-width="0.8" stroke-dasharray="4,4"/>
<line x1="85.0" y1="644.2" x2="235.0" y2="644.2" stroke="#fff" stroke-width="0.8" stroke-dasharray="4,4"/>
<path d="M86.7,545.7 l8,0 l0.5,3 q-2.5,0.5 -2.8,2.5 l0,8.5 q0.5,2.5 4.5,3.5 l0,0 l-12.4,0 q4,-1 4.5,-3.5 l0,-8.5 q-0.3,-2 -2.8,-2.5 z" stroke="#000" stroke-width="1.2" fill="#fff" />
<path d="M102.5,545.7 l8,0 l0.5,3 q-2.5,0.5 -2.8,2.5 l0,8.5 q0.5,2.5 4.5,3.5 l0,0 l-12.4,0 q4,-1 4.5,-3.5 l0,-8.5 q-0.3,-2 -2.8,-2.5 z" stroke="#000" stroke-width="1.2" fill="#fff" />
<path d="M117.7,545.7 l8,0 l0.5,3 q-2.5,0.5 -2.8,2.5 l0,8.5 q0.5,2.5 4.5,3.5 l0,0 l-12.4,0 q4,-1 4.5,-3.5 l0,-8.5 q-0.3,-2 -2.8,-2.5 z" stroke="#000" stroke-width="1.2" fill="#fff" />
<path d="M132.9,545.7 l8,0 l0.5,3 q-2.5,0.5 -2.8,2.5 l0,8.5 q0.5,2.5 4.5,3.5 l0,0 l-12.4,0 q4,-1 4.5,-3.5 l0,-8.5 q-0.3,-2 -2.8,-2.5 z" stroke="#000" stroke-width="1.2" fill="#fff" />
<path d="M148.4,545.7 l8,0 l0.5,3 q-2.5,0.5 -2.8,2.5 l0,8.5 q0.5,2.5 4.5,3.5 l0,0 l-12.4,0 q4,-1 4.5,-3.5 l0,-8.5 q-0.3,-2 -2.8,-2.5 z" stroke="#000" stroke-width="1.2" fill="#fff" />
<path d="M163.6,545.7 l8,0 l0.5,3 q-2.5,0.5 -2.8,2.5 l0,8.5 q0.5,2.5 4.5,3.5 l0,0 l-12.4,0 q4,-1 4.5,-3.5 l0,-8.5 q-0.3,-2 -2.8,-2.5 z" stroke="#000" stroke-width="1.2" fill="#fff" />
<path d="M178.8,545.7 l8,0 l0.5,3 q-2.5,0.5 -2.8,2.5 l0,8.5 q0.5,2.5 4.5,3.5 l0,0 l-12.4,0 q4,-1 4.5,-3.5 l0,-8.5 q-0.3,-2 -2.8,-2.5 z" stroke="#000" stroke-width="1.2" fill="#fff" />
<path d="M194.6,545.7 l8,0 l0.5,3 q-2.5,0.5 -2.8,2.5 l0,8.5 q0.5,2.5 4.5,3.5 l0,0 l-12.4,0 q4,-1 4.5,-3.5 l0,-8.5 q-0.3,-2 -2.8,-2.5 z" stroke="#000" stroke-width="1.2" fill="#fff" />
<path d="M209.8,545.7 l8,0 l0.5,3 q-2.5,0.5 -2.8,2.5 l0,8.5 q0.5,2.5 4.5,3.5 l0,0 l-12.4,0 q4,-1 4.5,-3.5 l0,-8.5 q-0.3,-2 -2.8,-2.5 z" stroke="#000" stroke-width="1.2" fill="#fff" />
<path d="M225.3,545.7 l8,0 l0.5,3 q-2.5,0.5 -2.8,2.5 l0,8.5 q0.5,2.5 4.5,3.5 l0,0 l-12.4,0 q4,-1 4.5,-3.5 l0,-8.5 q-0.3,-2 -2.8,-2.5 z" stroke="#000" stroke-width="1.2" fill="#fff" />
<path d="M86.7,579.5 l8,0 l0.5,3 q-2.5,0.5 -2.8,2.5 l0,8.5 q0.5,2.5 4.5,3.5 l0,0 l-12.4,0 q4,-1 4.5,-3.5 l0,-8.5 q-0.3,-2 -2.8,-2.5 z" stroke="#000" stroke-width="1.2" fill="#fff" />
<path d="M102.5,579.5 l8,0 l0.5,3 q-2.5,0.5 -2.8,2.5 l0,8.5 q0.5,2.5 4.5,3.5 l0,0 l-12.4,0 q4,-1 4.5,-3.5 l0,-8.5 q-0.3,-2 -2.8,-2.5 z" stroke="#000" stroke-width="1.2" fill="#fff" />
<path d="M117.7,579.5 l8,0 l0.5,3 q-2.5,0.5 -2.8,2.5 l0,8.5 q0.5,2.5 4.5,3.5 l0,0 l-12.4,0 q4,-1 4.5,-3.5 l0,-8.5 q-0.3,-2 -2.8,-2.5 z" stroke="#000" stroke-width="1.2" fill="#fff" />
<path d="M132.9,579.5 l8,0 l0.5,3 q-2.5,0.5 -2.8,2.5 l0,8.5 q0.5,2.5 4.5,3.5 l0,0 l-12.4,0 q4,-1 4.5,-3.5 l0,-8.5 q-0.3,-2 -2.8,-2.5 z" stroke="#000" stroke-width="1.2" fill="#fff" />
<path d="M148.4,579.5 l8,0 l0.5,3 q-2.5,0.5 -2.8,2.5 l0,8.5 q0.5,2.5 4.5,3.5 l0,0 l-12.4,0 q4,-1 4.5,-3.5 l0,-8.5 q-0.3,-2 -2.8,-2.5 z" stroke="#000" stroke-width="1.2" fill="#fff" />
<path d="M163.6,579.5 l8,0 l0.5,3 q-2.5,0.5 -2.8,2.5 l0,8.5 q0.5,2.5 4.5,3.5 l0,0 l-12.4,0 q4,-1 4.5,-3.5 l0,-8.5 q-0.3,-2 -2.8,-2.5 z" stroke="#000" stroke-width="1.2" fill="#fff" />
<path d="M178.8,579.5 l8,0 l0.5,3 q-2.5,0.5 -2.8,2.5 l0,8.5 q0.5,2.5 4.5,3.5 l0,0 l-12.4,0 q4,-1 4.5,-3.5 l0,-8.5 q-0.3,-2 -2.8,-2.5 z" stroke="#000" stroke-width="1.2" fill="#fff" />
<path d="M194.6,579.5 l8,0 l0.5,3 q-2.5,0.5 -2.8,2.5 l0,8.5 q0.5,2.5 4.5,3.5 l0,0 l-12.4,0 q4,-1 4.5,-3.5 l0,-8.5 q-0.3,-2 -2.8,-2.5 z" stroke="#000" stroke-width="1.2" fill="#fff" />
<path d="M209.8,579.5 l8,0 l0.5,3 q-2.5,0.5 -2.8,2.5 l0,8.5 q0.5,2.5 4.5,3.5 l0,0 l-12.4,0 q4,-1 4.5,-3.5 l0,-8.5 q-0.3,-2 -2.8,-2.5 z" stroke="#000" stroke-width="1.2" fill="#fff" />
<path d="M225.3,579.5 l8,0 l0.5,3 q-2.5,0.5 -2.8,2.5 l0,8.5 q0.5,2.5 4.5,3.5 l0,0 l-12.4,0 q4,-1 4.5,-3.5 l0,-8.5 q-0.3,-2 -2.8,-2.5 z" stroke="#000" stroke-width="1.2" fill="#fff" />
<path d="M86.7,613.5 l8,0 l0.5,3 q-2.5,0.5 -2.8,2.5 l0,8.5 q0.5,2.5 4.5,3.5 l0,0 l-12.4,0 q4,-1 4.5,-3.5 l0,-8.5 q-0.3,-2 -2.8,-2.5 z" stroke="#000" stroke-width="1.2" fill="#fff" />
<path d="M102.5,613.5 l8,0 l0.5,3 q-2.5,0.5 -2.8,2.5 l0,8.5 q0.5,2.5 4.5,3.5 l0,0 l-12.4,0 q4,-1 4.5,-3.5 l0,-8.5 q-0.3,-2 -2.8,-2.5 z" stroke="#000" stroke-width="1.2" fill="#fff" />
<path d="M117.7,613.5 l8,0 l0.5,3 q-2.5,0.5 -2.8,2.5 l0,8.5 q0.5,2.5 4.5,3.5 l0,0 l-12.4,0 q4,-1 4.5,-3.5 l0,-8.5 q-0.3,-2 -2.8,-2.5 z" stroke="#000" stroke-width="1.2" fill="#fff" />
<path d="M132.9,613.5 l8,0 l0.5,3 q-2.5,0.5 -2.8,2.5 l0,8.5 q0.5,2.5 4.5,3.5 l0,0 l-12.4,0 q4,-1 4.5,-3.5 l0,-8.5 q-0.3,-2 -2.8,-2.5 z" stroke="#000" stroke-width="1.2" fill="#fff" />
<path d="M148.4,613.5 l8,0 l0.5,3 q-2.5,0.5 -2.8,2.5 l0,8.5 q0.5,2.5 4.5,3.5 l0,0 l-12.4,0 q4,-1 4.5,-3.5 l0,-8.5 q-0.3,-2 -2.8,-2.5 z" stroke="#000" stroke-width="1.2" fill="#fff" />
<path d="M163.6,613.5 l8,0 l0.5,3 q-2.5,0.5 -2.8,2.5 l0,8.5 q0.5,2.5 4.5,3.5 l0,0 l-12.4,0 q4,-1 4.5,-3.5 l0,-8.5 q-0.3,-2 -2.8,-2.5 z" stroke="#000" stroke-width="1.2" fill="#fff" />
<path d="M178.8,613.5 l8,0 l0.5,3 q-2.5,0.5 -2.8,2.5 l0,8.5 q0.5,2.5 4.5,3.5 l0,0 l-12.4,0 q4,-1 4.5,-3.5 l0,-8.5 q-0.3,-2 -2.8,-2.5 z" stroke="#000" stroke-width="1.2" fill="#fff" />
<path d="M194.6,613.5 l8,0 l0.5,3 q-2.5,0.5 -2.8,2.5 l0,8.5 q0.5,2.5 4.5,3.5 l0,0 l-12.4,0 q4,-1 4.5,-3.5 l0,-8.5 q-0.3,-2 -2.8,-2.5 z" stroke="#000" stroke-width="1.2" fill="#fff" />
<path d="M209.8,613.5 l8,0 l0.5,3 q-2.5,0.5 -2.8,2.5 l0,8.5 q0.5,2.5 4.5,3.5 l0,0 l-12.4,0 q4,-1 4.5,-3.5 l0,-8.5 q-0.3,-2 -2.8,-2.5 z" stroke="#000" stroke-width="1.2" fill="#fff" />
<path d="M225.3,613.5 l8,0 l0.5,3 q-2.5,0.5 -2.8,2.5 l0,8.5 q0.5,2.5 4.5,3.5 l0,0 l-12.4,0 q4,-1 4.5,-3.5 l0,-8.5 q-0.3,-2 -2.8,-2.5 z" stroke="#000" stroke-width="1.2" fill="#fff" />
<line x1="52.3" y1="648.0" x2="288.8" y2="648.0" stroke="#000" stroke-width="1.3" />
<path d="M66,652 l3,-3.5 M69,652 l3,-3.5 M72,652 l3,-3.5 M92,652 l3,-3.5 M95,652 l3,-3.5 M98,652 l3,-3.5 M118,652 l3,-3.5 M121,652 l3,-3.5 M124,652 l3,-3.5 M142,652 l3,-3.5 M145,652 l3,-3.5 M148,652 l3,-3.5 M165,652 l3,-3.5 M168,652 l3,-3.5 M171,652 l3,-3.5 M190,652 l3,-3.5 M193,652 l3,-3.5 M196,652 l3,-3.5 M214,652 l3,-3.5 M217,652 l3,-3.5 M220,652 l3,-3.5 M239,652 l3,-3.5 M242,652 l3,-3.5 M245,652 l3,-3.5 M265,652 l3,-3.5 M268,652 l3,-3.5 M271,652 l3,-3.5 " stroke="#000" stroke-width="0.9" fill="none" />
<line x1="82.2" y1="648.0" x2="82.2" y2="668.0" stroke="#000" stroke-width="0.9" />
<line x1="237.9" y1="648.0" x2="237.9" y2="668.0" stroke="#000" stroke-width="0.9" />
<line x1="79.0" y1="666.0" x2="241.0" y2="666.0" stroke="#000" stroke-width="0.9" />
<path d="M79.7,668.5 l5,-5 M235.4,668.5 l5,-5" stroke="#000" stroke-width="1.1" fill="none" />
<text x="160.0" y="664.3" font-size="10.37" text-anchor="middle" fill="#000" font-weight="bold" font-family="Liberation Sans" textLength="19.0" lengthAdjust="spacingAndGlyphs" >1500</text>
<line x1="64.3" y1="545.0" x2="64.3" y2="648.0" stroke="#000" stroke-width="0.9" />
<line x1="77.0" y1="545.0" x2="77.0" y2="648.0" stroke="#000" stroke-width="0.9" />
<line x1="61.0" y1="545.7" x2="82.0" y2="545.7" stroke="#000" stroke-width="0.8" />
<path d="M74.5,548.2 l5,-5" stroke="#000" stroke-width="1.1" fill="none" />
<path d="M74.5,565.7 l5,-5" stroke="#000" stroke-width="1.1" fill="none" />
<path d="M74.5,582.8 l5,-5" stroke="#000" stroke-width="1.1" fill="none" />
<path d="M74.5,599.5 l5,-5" stroke="#000" stroke-width="1.1" fill="none" />
<path d="M74.5,616.5 l5,-5" stroke="#000" stroke-width="1.1" fill="none" />
<path d="M74.5,633.5 l5,-5" stroke="#000" stroke-width="1.1" fill="none" />
<path d="M74.5,650.2 l5,-5" stroke="#000" stroke-width="1.1" fill="none" />
<path d="M61.8,548.2 l5,-5 M61.8,650.5 l5,-5" stroke="#000" stroke-width="1.1" fill="none" />
<text x="70.0" y="608.0" font-size="9.76" text-anchor="start" fill="#000" font-weight="bold" font-family="Liberation Sans" textLength="15.0" lengthAdjust="spacingAndGlyphs" transform="rotate(-90 70.0 608.0)" >990</text>
<text x="82.0" y="561.5" font-size="8.54" text-anchor="start" fill="#000" font-weight="bold" font-family="Liberation Sans" textLength="14.0" lengthAdjust="spacingAndGlyphs" transform="rotate(-90 82.0 561.5)" >180</text>
<text x="82.0" y="578.8" font-size="8.54" text-anchor="start" fill="#000" font-weight="bold" font-family="Liberation Sans" textLength="14.0" lengthAdjust="spacingAndGlyphs" transform="rotate(-90 82.0 578.8)" >150</text>
<text x="82.0" y="595.6" font-size="8.54" text-anchor="start" fill="#000" font-weight="bold" font-family="Liberation Sans" textLength="14.0" lengthAdjust="spacingAndGlyphs" transform="rotate(-90 82.0 595.6)" >180</text>
<text x="82.0" y="612.5" font-size="8.54" text-anchor="start" fill="#000" font-weight="bold" font-family="Liberation Sans" textLength="14.0" lengthAdjust="spacingAndGlyphs" transform="rotate(-90 82.0 612.5)" >150</text>
<text x="82.0" y="629.5" font-size="8.54" text-anchor="start" fill="#000" font-weight="bold" font-family="Liberation Sans" textLength="14.0" lengthAdjust="spacingAndGlyphs" transform="rotate(-90 82.0 629.5)" >180</text>
<text x="82.0" y="646.4" font-size="8.54" text-anchor="start" fill="#000" font-weight="bold" font-family="Liberation Sans" textLength="14.0" lengthAdjust="spacingAndGlyphs" transform="rotate(-90 82.0 646.4)" >150</text>
<text x="253.6" y="606.3" font-size="10.37" text-anchor="start" fill="#000" font-weight="bold" font-family="Liberation Sans" textLength="52.0" lengthAdjust="spacingAndGlyphs" >Брус 150x150</text>
<line x1="253.6" y1="606.6" x2="305.5" y2="606.6" stroke="#000" stroke-width="0.9" />
<polyline points="238.0,577.0 253.6,606.6 238.0,607.0 253.6,606.6 238.0,640.0" stroke="#000" stroke-width="0.9" fill="none" />
</g>
</svg></body></html>
